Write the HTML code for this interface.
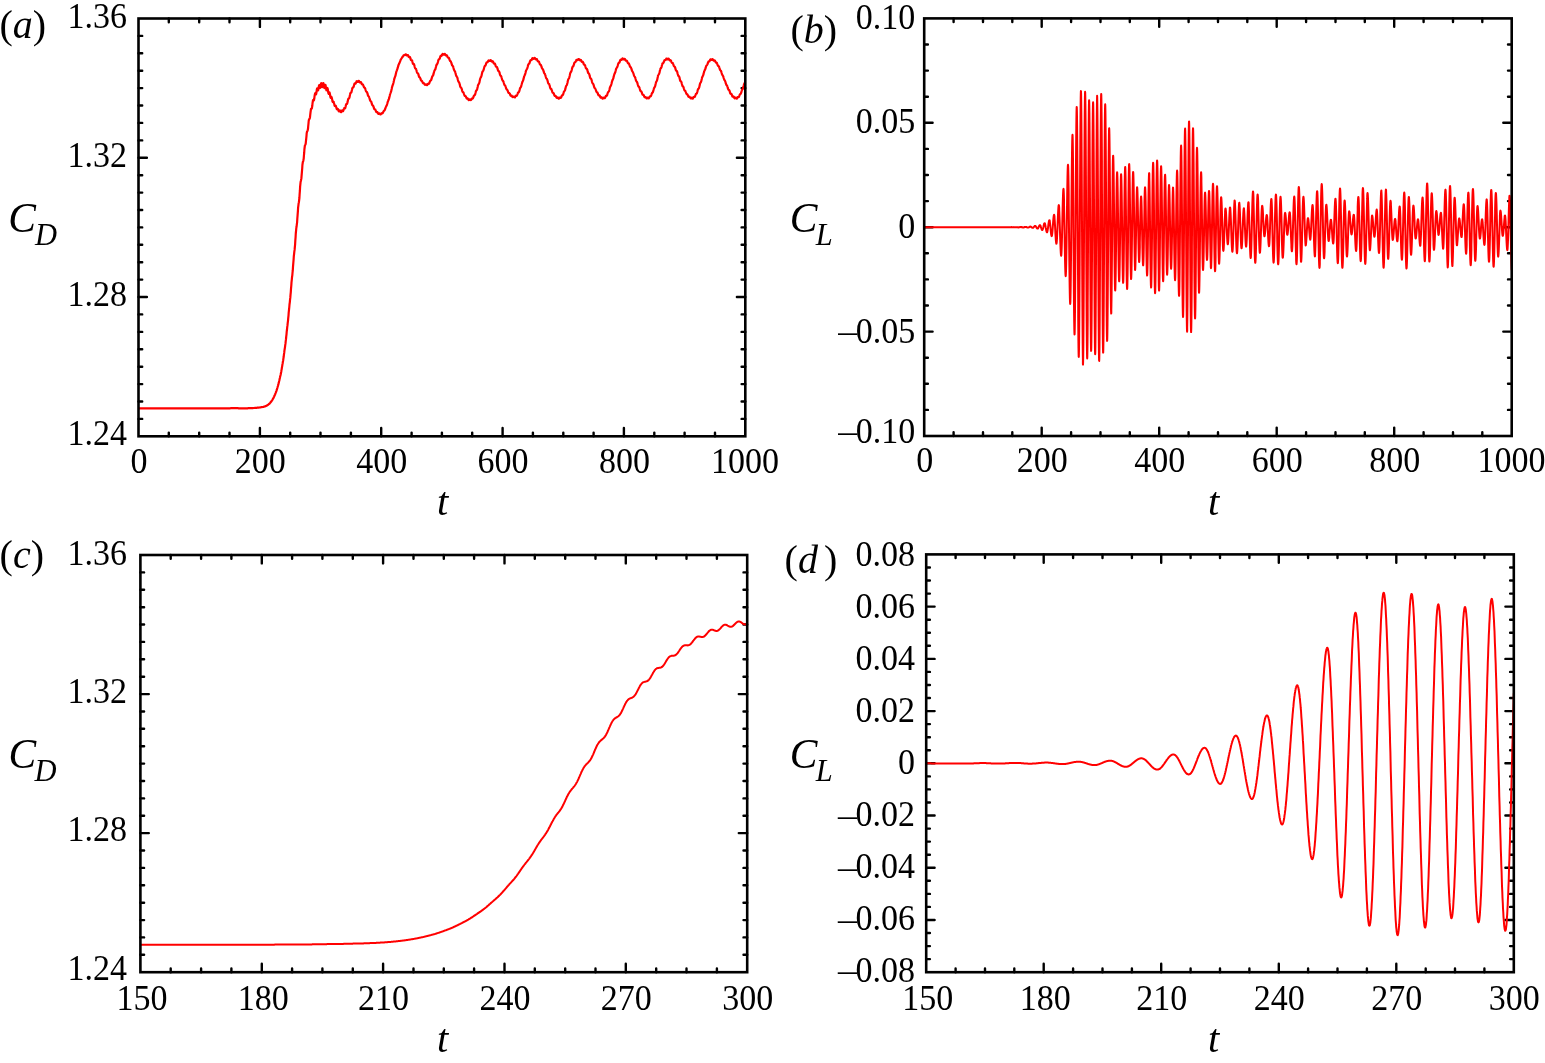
<!DOCTYPE html><html><head><meta charset="utf-8"><style>html,body{margin:0;padding:0;background:#fff;}svg{display:block;}text{font-family:"Liberation Serif","Times New Roman",serif;fill:#000;}.it{font-style:italic;}</style></head><body>
<svg width="1545" height="1063" viewBox="0 0 1545 1063">
<rect width="1545" height="1063" fill="#fff"/>
<defs>
<clipPath id="cpa"><rect x="138.5" y="18.5" width="606.8" height="417.8"/></clipPath>
<clipPath id="cpb"><rect x="924.2" y="18.4" width="587.5" height="417.6"/></clipPath>
<clipPath id="cpc"><rect x="140.4" y="555.0" width="606.8" height="417.2"/></clipPath>
<clipPath id="cpd"><rect x="926.2" y="554.4" width="587.6" height="417.8"/></clipPath>
</defs>
<path d="M168.8,436.3v-3.7M168.8,18.5v3.7M199.2,436.3v-3.7M199.2,18.5v3.7M229.5,436.3v-3.7M229.5,18.5v3.7M259.9,436.3v-8.4M259.9,18.5v8.4M290.2,436.3v-3.7M290.2,18.5v3.7M320.5,436.3v-3.7M320.5,18.5v3.7M350.9,436.3v-3.7M350.9,18.5v3.7M381.2,436.3v-8.4M381.2,18.5v8.4M411.6,436.3v-3.7M411.6,18.5v3.7M441.9,436.3v-3.7M441.9,18.5v3.7M472.2,436.3v-3.7M472.2,18.5v3.7M502.6,436.3v-8.4M502.6,18.5v8.4M532.9,436.3v-3.7M532.9,18.5v3.7M563.3,436.3v-3.7M563.3,18.5v3.7M593.6,436.3v-3.7M593.6,18.5v3.7M623.9,436.3v-8.4M623.9,18.5v8.4M654.3,436.3v-3.7M654.3,18.5v3.7M684.6,436.3v-3.7M684.6,18.5v3.7M715.0,436.3v-3.7M715.0,18.5v3.7M138.5,418.9h3.7M745.3,418.9h-3.7M138.5,401.5h3.7M745.3,401.5h-3.7M138.5,384.1h3.7M745.3,384.1h-3.7M138.5,366.7h3.7M745.3,366.7h-3.7M138.5,349.3h3.7M745.3,349.3h-3.7M138.5,331.9h3.7M745.3,331.9h-3.7M138.5,314.4h3.7M745.3,314.4h-3.7M138.5,297.0h8.4M745.3,297.0h-8.4M138.5,279.6h3.7M745.3,279.6h-3.7M138.5,262.2h3.7M745.3,262.2h-3.7M138.5,244.8h3.7M745.3,244.8h-3.7M138.5,227.4h3.7M745.3,227.4h-3.7M138.5,210.0h3.7M745.3,210.0h-3.7M138.5,192.6h3.7M745.3,192.6h-3.7M138.5,175.2h3.7M745.3,175.2h-3.7M138.5,157.8h8.4M745.3,157.8h-8.4M138.5,140.4h3.7M745.3,140.4h-3.7M138.5,122.9h3.7M745.3,122.9h-3.7M138.5,105.5h3.7M745.3,105.5h-3.7M138.5,88.1h3.7M745.3,88.1h-3.7M138.5,70.7h3.7M745.3,70.7h-3.7M138.5,53.3h3.7M745.3,53.3h-3.7M138.5,35.9h3.7M745.3,35.9h-3.7" stroke="#000" stroke-width="2.4" stroke-linecap="round" fill="none"/>
<path d="M953.6,436.0v-3.7M953.6,18.4v3.7M983.0,436.0v-3.7M983.0,18.4v3.7M1012.3,436.0v-3.7M1012.3,18.4v3.7M1041.7,436.0v-8.4M1041.7,18.4v8.4M1071.1,436.0v-3.7M1071.1,18.4v3.7M1100.5,436.0v-3.7M1100.5,18.4v3.7M1129.8,436.0v-3.7M1129.8,18.4v3.7M1159.2,436.0v-8.4M1159.2,18.4v8.4M1188.6,436.0v-3.7M1188.6,18.4v3.7M1218.0,436.0v-3.7M1218.0,18.4v3.7M1247.3,436.0v-3.7M1247.3,18.4v3.7M1276.7,436.0v-8.4M1276.7,18.4v8.4M1306.1,436.0v-3.7M1306.1,18.4v3.7M1335.5,436.0v-3.7M1335.5,18.4v3.7M1364.8,436.0v-3.7M1364.8,18.4v3.7M1394.2,436.0v-8.4M1394.2,18.4v8.4M1423.6,436.0v-3.7M1423.6,18.4v3.7M1453.0,436.0v-3.7M1453.0,18.4v3.7M1482.3,436.0v-3.7M1482.3,18.4v3.7M924.2,409.9h3.7M1511.7,409.9h-3.7M924.2,383.8h3.7M1511.7,383.8h-3.7M924.2,357.7h3.7M1511.7,357.7h-3.7M924.2,331.6h8.4M1511.7,331.6h-8.4M924.2,305.5h3.7M1511.7,305.5h-3.7M924.2,279.4h3.7M1511.7,279.4h-3.7M924.2,253.3h3.7M1511.7,253.3h-3.7M924.2,227.2h8.4M1511.7,227.2h-8.4M924.2,201.1h3.7M1511.7,201.1h-3.7M924.2,175.0h3.7M1511.7,175.0h-3.7M924.2,148.9h3.7M1511.7,148.9h-3.7M924.2,122.8h8.4M1511.7,122.8h-8.4M924.2,96.7h3.7M1511.7,96.7h-3.7M924.2,70.6h3.7M1511.7,70.6h-3.7M924.2,44.5h3.7M1511.7,44.5h-3.7" stroke="#000" stroke-width="2.4" stroke-linecap="round" fill="none"/>
<path d="M170.7,972.2v-3.7M170.7,555.0v3.7M201.1,972.2v-3.7M201.1,555.0v3.7M231.4,972.2v-3.7M231.4,555.0v3.7M261.8,972.2v-8.4M261.8,555.0v8.4M292.1,972.2v-3.7M292.1,555.0v3.7M322.4,972.2v-3.7M322.4,555.0v3.7M352.8,972.2v-3.7M352.8,555.0v3.7M383.1,972.2v-8.4M383.1,555.0v8.4M413.5,972.2v-3.7M413.5,555.0v3.7M443.8,972.2v-3.7M443.8,555.0v3.7M474.1,972.2v-3.7M474.1,555.0v3.7M504.5,972.2v-8.4M504.5,555.0v8.4M534.8,972.2v-3.7M534.8,555.0v3.7M565.2,972.2v-3.7M565.2,555.0v3.7M595.5,972.2v-3.7M595.5,555.0v3.7M625.8,972.2v-8.4M625.8,555.0v8.4M656.2,972.2v-3.7M656.2,555.0v3.7M686.5,972.2v-3.7M686.5,555.0v3.7M716.9,972.2v-3.7M716.9,555.0v3.7M140.4,954.8h3.7M747.2,954.8h-3.7M140.4,937.4h3.7M747.2,937.4h-3.7M140.4,920.1h3.7M747.2,920.1h-3.7M140.4,902.7h3.7M747.2,902.7h-3.7M140.4,885.3h3.7M747.2,885.3h-3.7M140.4,867.9h3.7M747.2,867.9h-3.7M140.4,850.5h3.7M747.2,850.5h-3.7M140.4,833.1h8.4M747.2,833.1h-8.4M140.4,815.8h3.7M747.2,815.8h-3.7M140.4,798.4h3.7M747.2,798.4h-3.7M140.4,781.0h3.7M747.2,781.0h-3.7M140.4,763.6h3.7M747.2,763.6h-3.7M140.4,746.2h3.7M747.2,746.2h-3.7M140.4,728.8h3.7M747.2,728.8h-3.7M140.4,711.5h3.7M747.2,711.5h-3.7M140.4,694.1h8.4M747.2,694.1h-8.4M140.4,676.7h3.7M747.2,676.7h-3.7M140.4,659.3h3.7M747.2,659.3h-3.7M140.4,641.9h3.7M747.2,641.9h-3.7M140.4,624.5h3.7M747.2,624.5h-3.7M140.4,607.2h3.7M747.2,607.2h-3.7M140.4,589.8h3.7M747.2,589.8h-3.7M140.4,572.4h3.7M747.2,572.4h-3.7" stroke="#000" stroke-width="2.4" stroke-linecap="round" fill="none"/>
<path d="M955.6,972.2v-3.7M955.6,554.4v3.7M985.0,972.2v-3.7M985.0,554.4v3.7M1014.3,972.2v-3.7M1014.3,554.4v3.7M1043.7,972.2v-8.4M1043.7,554.4v8.4M1073.1,972.2v-3.7M1073.1,554.4v3.7M1102.5,972.2v-3.7M1102.5,554.4v3.7M1131.9,972.2v-3.7M1131.9,554.4v3.7M1161.2,972.2v-8.4M1161.2,554.4v8.4M1190.6,972.2v-3.7M1190.6,554.4v3.7M1220.0,972.2v-3.7M1220.0,554.4v3.7M1249.4,972.2v-3.7M1249.4,554.4v3.7M1278.8,972.2v-8.4M1278.8,554.4v8.4M1308.1,972.2v-3.7M1308.1,554.4v3.7M1337.5,972.2v-3.7M1337.5,554.4v3.7M1366.9,972.2v-3.7M1366.9,554.4v3.7M1396.3,972.2v-8.4M1396.3,554.4v8.4M1425.7,972.2v-3.7M1425.7,554.4v3.7M1455.0,972.2v-3.7M1455.0,554.4v3.7M1484.4,972.2v-3.7M1484.4,554.4v3.7M926.2,959.1h3.7M1513.8,959.1h-3.7M926.2,946.1h3.7M1513.8,946.1h-3.7M926.2,933.0h3.7M1513.8,933.0h-3.7M926.2,920.0h8.4M1513.8,920.0h-8.4M926.2,906.9h3.7M1513.8,906.9h-3.7M926.2,893.9h3.7M1513.8,893.9h-3.7M926.2,880.8h3.7M1513.8,880.8h-3.7M926.2,867.8h8.4M1513.8,867.8h-8.4M926.2,854.7h3.7M1513.8,854.7h-3.7M926.2,841.6h3.7M1513.8,841.6h-3.7M926.2,828.6h3.7M1513.8,828.6h-3.7M926.2,815.5h8.4M1513.8,815.5h-8.4M926.2,802.5h3.7M1513.8,802.5h-3.7M926.2,789.4h3.7M1513.8,789.4h-3.7M926.2,776.4h3.7M1513.8,776.4h-3.7M926.2,763.3h8.4M1513.8,763.3h-8.4M926.2,750.2h3.7M1513.8,750.2h-3.7M926.2,737.2h3.7M1513.8,737.2h-3.7M926.2,724.1h3.7M1513.8,724.1h-3.7M926.2,711.1h8.4M1513.8,711.1h-8.4M926.2,698.0h3.7M1513.8,698.0h-3.7M926.2,685.0h3.7M1513.8,685.0h-3.7M926.2,671.9h3.7M1513.8,671.9h-3.7M926.2,658.9h8.4M1513.8,658.9h-8.4M926.2,645.8h3.7M1513.8,645.8h-3.7M926.2,632.7h3.7M1513.8,632.7h-3.7M926.2,619.7h3.7M1513.8,619.7h-3.7M926.2,606.6h8.4M1513.8,606.6h-8.4M926.2,593.6h3.7M1513.8,593.6h-3.7M926.2,580.5h3.7M1513.8,580.5h-3.7M926.2,567.5h3.7M1513.8,567.5h-3.7" stroke="#000" stroke-width="2.4" stroke-linecap="round" fill="none"/>
<path clip-path="url(#cpa)" d="M138.5,408.3 L138.8,408.3 139.0,408.3 139.3,408.3 139.5,408.3 139.8,408.3 140.0,408.3 140.3,408.3 140.5,408.3 140.8,408.3 141.0,408.3 141.3,408.3 141.5,408.3 141.8,408.3 142.0,408.3 142.3,408.3 142.5,408.3 142.8,408.3 143.1,408.3 143.3,408.3 143.6,408.3 143.8,408.3 144.1,408.3 144.3,408.3 144.6,408.3 144.8,408.3 145.1,408.3 145.3,408.3 145.6,408.3 145.8,408.3 146.1,408.3 146.3,408.3 146.6,408.3 146.8,408.3 147.1,408.3 147.4,408.3 147.6,408.3 147.9,408.3 148.1,408.3 148.4,408.3 148.6,408.3 148.9,408.3 149.1,408.3 149.4,408.3 149.6,408.3 149.9,408.3 150.1,408.3 150.4,408.3 150.6,408.3 150.9,408.3 151.1,408.3 151.4,408.3 151.7,408.3 151.9,408.3 152.2,408.3 152.4,408.3 152.7,408.3 152.9,408.3 153.2,408.3 153.4,408.3 153.7,408.3 153.9,408.3 154.2,408.3 154.4,408.3 154.7,408.3 154.9,408.3 155.2,408.3 155.4,408.3 155.7,408.3 156.0,408.3 156.2,408.3 156.5,408.3 156.7,408.3 157.0,408.3 157.2,408.3 157.5,408.3 157.7,408.3 158.0,408.3 158.2,408.3 158.5,408.3 158.7,408.3 159.0,408.3 159.2,408.3 159.5,408.3 159.7,408.3 160.0,408.3 160.3,408.3 160.5,408.3 160.8,408.3 161.0,408.3 161.3,408.3 161.5,408.3 161.8,408.3 162.0,408.3 162.3,408.3 162.5,408.3 162.8,408.3 163.0,408.3 163.3,408.3 163.5,408.3 163.8,408.3 164.0,408.3 164.3,408.3 164.6,408.3 164.8,408.3 165.1,408.3 165.3,408.3 165.6,408.3 165.8,408.3 166.1,408.3 166.3,408.3 166.6,408.3 166.8,408.3 167.1,408.3 167.3,408.3 167.6,408.3 167.8,408.3 168.1,408.3 168.3,408.3 168.6,408.3 168.9,408.3 169.1,408.3 169.4,408.3 169.6,408.3 169.9,408.3 170.1,408.3 170.4,408.3 170.6,408.3 170.9,408.3 171.1,408.3 171.4,408.3 171.6,408.3 171.9,408.3 172.1,408.3 172.4,408.3 172.6,408.3 172.9,408.3 173.2,408.3 173.4,408.3 173.7,408.3 173.9,408.3 174.2,408.3 174.4,408.3 174.7,408.3 174.9,408.3 175.2,408.3 175.4,408.3 175.7,408.3 175.9,408.3 176.2,408.3 176.4,408.3 176.7,408.3 176.9,408.3 177.2,408.3 177.5,408.3 177.7,408.3 178.0,408.3 178.2,408.3 178.5,408.3 178.7,408.3 179.0,408.3 179.2,408.3 179.5,408.3 179.7,408.3 180.0,408.3 180.2,408.3 180.5,408.3 180.7,408.3 181.0,408.3 181.2,408.3 181.5,408.3 181.8,408.3 182.0,408.3 182.3,408.3 182.5,408.3 182.8,408.3 183.0,408.3 183.3,408.3 183.5,408.3 183.8,408.3 184.0,408.3 184.3,408.3 184.5,408.3 184.8,408.3 185.0,408.3 185.3,408.3 185.5,408.3 185.8,408.3 186.1,408.3 186.3,408.3 186.6,408.3 186.8,408.3 187.1,408.3 187.3,408.3 187.6,408.3 187.8,408.3 188.1,408.3 188.3,408.3 188.6,408.3 188.8,408.3 189.1,408.3 189.3,408.3 189.6,408.3 189.8,408.3 190.1,408.3 190.4,408.3 190.6,408.3 190.9,408.3 191.1,408.3 191.4,408.3 191.6,408.3 191.9,408.3 192.1,408.3 192.4,408.3 192.6,408.3 192.9,408.3 193.1,408.3 193.4,408.3 193.6,408.3 193.9,408.3 194.1,408.3 194.4,408.3 194.7,408.3 194.9,408.3 195.2,408.3 195.4,408.3 195.7,408.3 195.9,408.3 196.2,408.3 196.4,408.3 196.7,408.3 196.9,408.3 197.2,408.3 197.4,408.3 197.7,408.3 197.9,408.3 198.2,408.3 198.4,408.3 198.7,408.3 199.0,408.3 199.2,408.3 199.5,408.3 199.7,408.3 200.0,408.3 200.2,408.3 200.5,408.3 200.7,408.3 201.0,408.3 201.2,408.3 201.5,408.3 201.7,408.3 202.0,408.3 202.2,408.3 202.5,408.3 202.7,408.3 203.0,408.3 203.3,408.3 203.5,408.3 203.8,408.3 204.0,408.3 204.3,408.3 204.5,408.3 204.8,408.3 205.0,408.3 205.3,408.3 205.5,408.3 205.8,408.3 206.0,408.3 206.3,408.3 206.5,408.3 206.8,408.3 207.0,408.3 207.3,408.3 207.6,408.3 207.8,408.3 208.1,408.3 208.3,408.3 208.6,408.3 208.8,408.3 209.1,408.3 209.3,408.3 209.6,408.3 209.8,408.3 210.1,408.3 210.3,408.3 210.6,408.3 210.8,408.3 211.1,408.3 211.3,408.3 211.6,408.3 211.9,408.3 212.1,408.3 212.4,408.3 212.6,408.3 212.9,408.3 213.1,408.3 213.4,408.3 213.6,408.3 213.9,408.3 214.1,408.3 214.4,408.3 214.6,408.3 214.9,408.3 215.1,408.3 215.4,408.3 215.6,408.3 215.9,408.3 216.2,408.3 216.4,408.3 216.7,408.3 216.9,408.3 217.2,408.3 217.4,408.3 217.7,408.3 217.9,408.3 218.2,408.3 218.4,408.3 218.7,408.3 218.9,408.3 219.2,408.3 219.4,408.3 219.7,408.3 219.9,408.3 220.2,408.3 220.5,408.3 220.7,408.3 221.0,408.3 221.2,408.3 221.5,408.3 221.7,408.3 222.0,408.3 222.2,408.3 222.5,408.3 222.7,408.3 223.0,408.3 223.2,408.3 223.5,408.3 223.7,408.3 224.0,408.3 224.2,408.3 224.5,408.3 224.8,408.3 225.0,408.3 225.3,408.3 225.5,408.3 225.8,408.3 226.0,408.3 226.3,408.3 226.5,408.3 226.8,408.3 227.0,408.3 227.3,408.3 227.5,408.3 227.8,408.3 228.0,408.3 228.3,408.3 228.5,408.3 228.8,408.3 229.1,408.3 229.3,408.3 229.6,408.3 229.8,408.3 230.1,408.3 230.3,408.3 230.6,408.2 230.8,408.2 231.1,408.2 231.3,408.2 231.6,408.2 231.8,408.2 232.1,408.2 232.3,408.2 232.6,408.2 232.8,408.2 233.1,408.2 233.4,408.2 233.6,408.2 233.9,408.2 234.1,408.2 234.4,408.2 234.6,408.2 234.9,408.2 235.1,408.2 235.4,408.2 235.6,408.2 235.9,408.2 236.1,408.2 236.4,408.2 236.6,408.2 236.9,408.2 237.1,408.2 237.4,408.2 237.7,408.2 237.9,408.2 238.2,408.2 238.4,408.3 238.7,408.3 238.9,408.3 239.2,408.3 239.4,408.3 239.7,408.3 239.9,408.3 240.2,408.3 240.4,408.3 240.7,408.3 240.9,408.3 241.2,408.3 241.4,408.3 241.7,408.3 242.0,408.3 242.2,408.3 242.5,408.3 242.7,408.3 243.0,408.3 243.2,408.3 243.5,408.3 243.7,408.3 244.0,408.3 244.2,408.3 244.5,408.3 244.7,408.3 245.0,408.3 245.2,408.3 245.5,408.3 245.7,408.3 246.0,408.3 246.3,408.3 246.5,408.3 246.8,408.3 247.0,408.3 247.3,408.3 247.5,408.3 247.8,408.3 248.0,408.2 248.3,408.2 248.5,408.2 248.8,408.2 249.0,408.2 249.3,408.2 249.5,408.2 249.8,408.2 250.0,408.2 250.3,408.2 250.6,408.2 250.8,408.2 251.1,408.2 251.3,408.2 251.6,408.1 251.8,408.1 252.1,408.1 252.3,408.1 252.6,408.1 252.8,408.1 253.1,408.1 253.3,408.0 253.6,408.0 253.8,408.0 254.1,408.0 254.3,408.0 254.6,408.0 254.9,407.9 255.1,407.9 255.4,407.9 255.6,407.9 255.9,407.9 256.1,407.8 256.4,407.8 256.6,407.8 256.9,407.8 257.1,407.7 257.4,407.7 257.6,407.7 257.9,407.7 258.1,407.6 258.4,407.6 258.6,407.6 258.9,407.6 259.2,407.5 259.4,407.5 259.7,407.5 259.9,407.4 260.2,407.4 260.4,407.3 260.7,407.3 260.9,407.3 261.2,407.2 261.4,407.2 261.7,407.2 261.9,407.1 262.2,407.1 262.4,407.0 262.7,407.0 262.9,406.9 263.2,406.9 263.5,406.8 263.7,406.8 264.0,406.7 264.2,406.6 264.5,406.6 264.7,406.5 265.0,406.4 265.2,406.3 265.5,406.2 265.7,406.1 266.0,406.0 266.2,405.9 266.5,405.8 266.7,405.6 267.0,405.5 267.2,405.3 267.5,405.2 267.8,405.0 268.0,404.8 268.3,404.6 268.5,404.4 268.8,404.2 269.0,404.0 269.3,403.8 269.5,403.5 269.8,403.3 270.0,403.0 270.3,402.7 270.5,402.4 270.8,402.1 271.0,401.8 271.3,401.5 271.5,401.1 271.8,400.8 272.1,400.4 272.3,400.0 272.6,399.5 272.8,399.1 273.1,398.7 273.3,398.2 273.6,397.8 273.8,397.2 274.1,396.7 274.3,396.2 274.6,395.6 274.8,395.0 275.1,394.4 275.3,393.8 275.6,393.1 275.8,392.5 276.1,391.8 276.4,391.1 276.6,390.3 276.9,389.5 277.1,388.7 277.4,387.8 277.6,387.0 277.9,386.1 278.1,385.3 278.4,384.4 278.6,383.4 278.9,382.4 279.1,381.3 279.4,380.2 279.6,379.1 279.9,377.9 280.1,376.8 280.4,375.7 280.7,374.5 280.9,373.3 281.2,372.0 281.4,370.6 281.7,369.1 281.9,367.6 282.2,366.1 282.4,364.6 282.7,363.2 282.9,361.7 283.2,360.2 283.4,358.6 283.7,356.8 283.9,354.9 284.2,352.9 284.4,350.9 284.7,349.0 285.0,347.1 285.2,345.3 285.5,343.4 285.7,341.4 286.0,339.2 286.2,336.8 286.5,334.3 286.7,331.9 287.0,329.5 287.2,327.3 287.5,325.2 287.7,323.1 288.0,320.8 288.2,318.3 288.5,315.6 288.7,312.7 289.0,309.8 289.3,307.0 289.5,304.5 289.8,302.3 290.0,300.1 290.3,297.7 290.5,295.1 290.8,292.1 291.0,288.8 291.3,285.5 291.5,282.4 291.8,279.7 292.0,277.4 292.3,275.3 292.5,273.0 292.8,270.2 293.0,266.8 293.3,263.2 293.6,259.6 293.8,256.5 294.1,253.9 294.3,251.9 294.6,249.9 294.8,247.6 295.1,244.5 295.3,240.9 295.6,237.0 295.8,233.3 296.1,230.3 296.3,228.1 296.6,226.5 296.8,224.7 297.1,222.3 297.3,219.0 297.6,215.1 297.9,211.1 298.1,207.7 298.4,205.3 298.6,203.6 298.9,202.2 299.1,200.5 299.4,198.0 299.6,194.6 299.9,190.7 300.1,186.9 300.4,183.9 300.6,182.0 300.9,180.8 301.1,179.8 301.4,178.2 301.6,175.6 301.9,172.2 302.2,168.5 302.4,165.2 302.7,163.0 302.9,161.8 303.2,161.2 303.4,160.3 303.7,158.6 303.9,156.0 304.2,152.7 304.4,149.5 304.7,147.0 304.9,145.5 305.2,145.0 305.4,144.6 305.7,143.6 305.9,141.7 306.2,138.8 306.5,135.8 306.7,133.2 307.0,131.7 307.2,131.2 307.5,131.0 307.7,130.3 308.0,128.8 308.2,126.3 308.5,123.4 308.7,121.0 309.0,119.6 309.2,119.1 309.5,119.0 309.7,118.6 310.0,117.2 310.2,115.1 310.5,112.5 310.8,110.3 311.0,109.0 311.3,108.6 311.5,108.7 311.8,108.5 312.0,107.6 312.3,105.8 312.5,103.5 312.8,101.5 313.0,100.2 313.3,99.9 313.5,100.2 313.8,100.4 314.0,100.0 314.3,98.6 314.5,96.6 314.8,94.7 315.1,93.4 315.3,93.1 315.6,93.7 315.8,94.3 316.1,94.3 316.3,93.3 316.6,91.5 316.8,89.6 317.1,88.4 317.3,88.3 317.6,89.0 317.8,89.9 318.1,90.3 318.3,89.7 318.6,88.3 318.8,86.5 319.1,85.3 319.4,85.0 319.6,85.8 319.9,87.0 320.1,87.9 320.4,87.8 320.6,86.7 320.9,84.7 321.1,83.3 321.4,83.2 321.6,84.3 321.9,86.0 322.1,86.8 322.4,87.0 322.6,86.1 322.9,84.5 323.1,83.2 323.4,83.1 323.7,84.1 323.9,85.9 324.2,87.5 324.4,88.1 324.7,87.5 324.9,86.2 325.2,85.0 325.4,84.8 325.7,85.8 325.9,87.5 326.2,89.3 326.4,90.3 326.7,90.2 326.9,89.2 327.2,88.2 327.4,88.0 327.7,88.8 328.0,90.5 328.2,92.3 328.5,93.5 328.7,93.8 329.0,93.2 329.2,92.5 329.5,92.3 329.7,93.0 330.0,94.5 330.2,96.1 330.5,97.4 330.7,97.9 331.0,97.7 331.2,97.2 331.5,97.0 331.7,97.5 332.0,98.7 332.3,100.2 332.5,101.5 332.8,102.1 333.0,102.1 333.3,101.8 333.5,101.7 333.8,102.0 334.0,103.0 334.3,104.2 334.5,105.4 334.8,106.0 335.0,106.1 335.3,105.9 335.5,105.7 335.8,105.8 336.0,106.5 336.3,107.5 336.6,108.6 336.8,109.2 337.1,109.4 337.3,109.1 337.6,108.8 337.8,108.8 338.1,109.2 338.3,109.9 338.6,110.8 338.8,111.3 339.1,111.4 339.3,111.1 339.6,110.6 339.8,110.3 340.1,110.5 340.3,111.0 340.6,111.7 340.9,112.1 341.1,112.2 341.4,111.7 341.6,111.1 341.9,110.5 342.1,110.4 342.4,110.6 342.6,111.0 342.9,111.3 343.1,111.1 343.4,110.5 343.6,109.6 343.9,108.8 344.1,108.2 344.4,108.1 344.6,108.3 344.9,108.4 345.2,108.1 345.4,107.4 345.7,106.3 345.9,105.1 346.2,104.3 346.4,103.9 346.7,103.9 346.9,103.9 347.2,103.6 347.4,102.8 347.7,101.6 347.9,100.3 348.2,99.2 348.4,98.7 348.7,98.5 348.9,98.4 349.2,98.1 349.5,97.4 349.7,96.2 350.0,94.8 350.2,93.7 350.5,93.0 350.7,92.7 351.0,92.7 351.2,92.5 351.5,91.9 351.7,91.0 352.0,89.8 352.2,88.7 352.5,87.9 352.7,87.6 353.0,87.5 353.2,87.4 353.5,87.0 353.8,86.3 354.0,85.3 354.3,84.3 354.5,83.6 354.8,83.4 355.0,83.5 355.3,83.6 355.5,83.6 355.8,83.3 356.0,82.6 356.3,81.9 356.5,81.3 356.8,81.2 357.0,81.3 357.3,81.7 357.5,82.0 357.8,81.9 358.1,81.6 358.3,81.2 358.6,80.9 358.8,80.8 359.1,81.1 359.3,81.7 359.6,82.2 359.8,82.4 360.1,82.4 360.3,82.2 360.6,82.0 360.8,82.0 361.1,82.4 361.3,83.0 361.6,83.7 361.8,84.2 362.1,84.4 362.4,84.4 362.6,84.4 362.9,84.5 363.1,84.9 363.4,85.6 363.6,86.4 363.9,87.1 364.1,87.5 364.4,87.6 364.6,87.7 364.9,87.9 365.1,88.3 365.4,89.1 365.6,90.0 365.9,90.9 366.1,91.4 366.4,91.7 366.7,91.9 366.9,92.1 367.2,92.6 367.4,93.4 367.7,94.3 367.9,95.2 368.2,95.9 368.4,96.2 368.7,96.4 368.9,96.7 369.2,97.2 369.4,98.0 369.7,98.9 369.9,99.8 370.2,100.5 370.4,100.9 370.7,101.1 371.0,101.3 371.2,101.8 371.5,102.5 371.7,103.4 372.0,104.3 372.2,105.0 372.5,105.3 372.7,105.5 373.0,105.6 373.2,106.0 373.5,106.6 373.7,107.4 374.0,108.3 374.2,108.9 374.5,109.2 374.7,109.3 375.0,109.3 375.3,109.5 375.5,110.0 375.8,110.7 376.0,111.4 376.3,111.9 376.5,112.1 376.8,112.1 377.0,112.0 377.3,112.1 377.5,112.3 377.8,112.8 378.0,113.4 378.3,113.8 378.5,113.9 378.8,113.8 379.0,113.6 379.3,113.4 379.6,113.5 379.8,113.8 380.1,114.1 380.3,114.4 380.6,114.5 380.8,114.3 381.1,113.9 381.3,113.5 381.6,113.3 381.8,113.2 382.1,113.3 382.3,113.4 382.6,113.3 382.8,112.9 383.1,112.4 383.3,111.8 383.6,111.2 383.9,110.9 384.1,110.7 384.4,110.5 384.6,110.3 384.9,109.8 385.1,109.2 385.4,108.4 385.6,107.6 385.9,106.9 386.1,106.4 386.4,106.0 386.6,105.6 386.9,105.0 387.1,104.2 387.4,103.3 387.6,102.3 387.9,101.4 388.2,100.7 388.4,100.1 388.7,99.6 388.9,99.0 389.2,98.1 389.4,97.1 389.7,96.0 389.9,94.9 390.2,94.0 390.4,93.3 390.7,92.6 390.9,92.0 391.2,91.2 391.4,90.1 391.7,89.0 391.9,87.8 392.2,86.7 392.5,85.9 392.7,85.1 393.0,84.5 393.2,83.7 393.5,82.7 393.7,81.6 394.0,80.4 394.2,79.3 394.5,78.4 394.7,77.6 395.0,77.0 395.2,76.3 395.5,75.5 395.7,74.5 396.0,73.4 396.2,72.3 396.5,71.3 396.8,70.6 397.0,69.9 397.3,69.3 397.5,68.5 397.8,67.7 398.0,66.8 398.3,65.9 398.5,65.1 398.8,64.5 399.0,63.9 399.3,63.4 399.5,62.8 399.8,62.2 400.0,61.5 400.3,60.9 400.5,60.2 400.8,59.6 401.1,59.1 401.3,58.7 401.6,58.3 401.8,57.9 402.1,57.5 402.3,57.2 402.6,56.9 402.8,56.5 403.1,56.1 403.3,55.7 403.6,55.4 403.8,55.2 404.1,55.1 404.3,55.2 404.6,55.2 404.8,55.1 405.1,54.9 405.4,54.6 405.6,54.4 405.9,54.4 406.1,54.6 406.4,55.0 406.6,55.4 406.9,55.5 407.1,55.4 407.4,55.1 407.6,55.0 407.9,55.1 408.1,55.5 408.4,56.1 408.6,56.8 408.9,57.2 409.1,57.2 409.4,57.0 409.7,56.9 409.9,57.0 410.2,57.6 410.4,58.4 410.7,59.4 410.9,60.0 411.2,60.2 411.4,60.1 411.7,60.0 411.9,60.2 412.2,60.8 412.4,61.8 412.7,62.9 412.9,63.7 413.2,64.1 413.4,64.1 413.7,64.0 414.0,64.2 414.2,64.9 414.5,65.9 414.7,67.0 415.0,67.9 415.2,68.4 415.5,68.6 415.7,68.6 416.0,68.8 416.2,69.5 416.5,70.4 416.7,71.5 417.0,72.4 417.2,72.9 417.5,73.1 417.7,73.2 418.0,73.4 418.3,74.0 418.5,74.9 418.8,75.9 419.0,76.6 419.3,77.1 419.5,77.3 419.8,77.4 420.0,77.7 420.3,78.2 420.5,79.0 420.8,79.8 421.0,80.3 421.3,80.6 421.5,80.8 421.8,80.9 422.0,81.1 422.3,81.6 422.6,82.3 422.8,82.8 423.1,83.2 423.3,83.3 423.6,83.2 423.8,83.2 424.1,83.4 424.3,83.8 424.6,84.3 424.8,84.6 425.1,84.8 425.3,84.7 425.6,84.5 425.8,84.3 426.1,84.4 426.3,84.6 426.6,85.0 426.9,85.2 427.1,85.1 427.4,84.8 427.6,84.3 427.9,83.9 428.1,83.7 428.4,83.7 428.6,83.8 428.9,83.8 429.1,83.5 429.4,82.9 429.6,82.2 429.9,81.5 430.1,81.0 430.4,80.7 430.6,80.6 430.9,80.4 431.2,80.0 431.4,79.3 431.7,78.4 431.9,77.5 432.2,76.7 432.4,76.2 432.7,75.9 432.9,75.6 433.2,75.1 433.4,74.4 433.7,73.4 433.9,72.3 434.2,71.4 434.4,70.7 434.7,70.2 434.9,69.9 435.2,69.5 435.5,68.9 435.7,67.9 436.0,66.8 436.2,65.8 436.5,65.0 436.7,64.5 437.0,64.3 437.2,64.0 437.5,63.5 437.7,62.7 438.0,61.7 438.2,60.7 438.5,59.9 438.7,59.5 439.0,59.3 439.2,59.2 439.5,58.9 439.8,58.4 440.0,57.6 440.3,56.7 440.5,56.1 440.8,55.8 441.0,55.7 441.3,55.9 441.5,55.8 441.8,55.6 442.0,55.0 442.3,54.4 442.5,54.0 442.8,53.9 443.0,54.0 443.3,54.4 443.5,54.6 443.8,54.7 444.0,54.5 444.3,54.1 444.6,53.9 444.8,53.9 445.1,54.2 445.3,54.7 445.6,55.2 445.8,55.4 446.1,55.4 446.3,55.3 446.6,55.2 446.8,55.3 447.1,55.7 447.3,56.4 447.6,57.0 447.8,57.4 448.1,57.6 448.3,57.7 448.6,57.7 448.9,57.9 449.1,58.5 449.4,59.2 449.6,60.0 449.9,60.6 450.1,61.0 450.4,61.2 450.6,61.3 450.9,61.6 451.1,62.2 451.4,63.0 451.6,63.9 451.9,64.7 452.1,65.3 452.4,65.6 452.6,65.8 452.9,66.2 453.2,66.8 453.4,67.7 453.7,68.7 453.9,69.6 454.2,70.2 454.4,70.7 454.7,71.0 454.9,71.3 455.2,71.9 455.4,72.8 455.7,73.9 455.9,74.9 456.2,75.6 456.4,76.1 456.7,76.4 456.9,76.8 457.2,77.3 457.5,78.1 457.7,79.2 458.0,80.3 458.2,81.1 458.5,81.7 458.7,82.0 459.0,82.3 459.2,82.7 459.5,83.4 459.7,84.4 460.0,85.5 460.2,86.4 460.5,87.0 460.7,87.4 461.0,87.5 461.2,87.8 461.5,88.3 461.8,89.1 462.0,90.1 462.3,91.1 462.5,91.7 462.8,92.1 463.0,92.2 463.3,92.3 463.5,92.7 463.8,93.3 464.0,94.1 464.3,94.9 464.5,95.5 464.8,95.9 465.0,96.0 465.3,96.0 465.5,96.1 465.8,96.5 466.1,97.1 466.3,97.8 466.6,98.3 466.8,98.6 467.1,98.6 467.3,98.4 467.6,98.4 467.8,98.6 468.1,99.0 468.3,99.5 468.6,99.9 468.8,100.1 469.1,99.9 469.3,99.7 469.6,99.4 469.8,99.4 470.1,99.6 470.4,99.9 470.6,100.2 470.9,100.2 471.1,99.9 471.4,99.4 471.6,98.9 471.9,98.6 472.1,98.5 472.4,98.6 472.6,98.6 472.9,98.4 473.1,97.9 473.4,97.2 473.6,96.4 473.9,95.8 474.1,95.5 474.4,95.3 474.7,95.2 474.9,94.8 475.2,94.2 475.4,93.3 475.7,92.2 475.9,91.3 476.2,90.7 476.4,90.4 476.7,90.1 476.9,89.8 477.2,89.1 477.4,88.1 477.7,86.9 477.9,85.7 478.2,84.8 478.4,84.3 478.7,84.0 479.0,83.6 479.2,83.0 479.5,82.1 479.7,80.9 480.0,79.6 480.2,78.6 480.5,77.9 480.7,77.4 481.0,77.1 481.2,76.6 481.5,75.9 481.7,74.8 482.0,73.6 482.2,72.5 482.5,71.8 482.7,71.3 483.0,71.0 483.3,70.6 483.5,70.0 483.8,69.2 484.0,68.2 484.3,67.2 484.5,66.5 484.8,66.1 485.0,65.9 485.3,65.7 485.5,65.3 485.8,64.7 486.0,63.9 486.3,63.1 486.5,62.6 486.8,62.3 487.0,62.3 487.3,62.3 487.6,62.2 487.8,61.8 488.1,61.3 488.3,60.7 488.6,60.3 488.8,60.3 489.1,60.5 489.3,60.8 489.6,61.0 489.8,61.0 490.1,60.7 490.3,60.3 490.6,60.1 490.8,60.2 491.1,60.5 491.3,61.0 491.6,61.4 491.9,61.6 492.1,61.6 492.4,61.4 492.6,61.2 492.9,61.4 493.1,61.8 493.4,62.5 493.6,63.1 493.9,63.5 494.1,63.6 494.4,63.5 494.6,63.5 494.9,63.7 495.1,64.2 495.4,65.0 495.6,65.8 495.9,66.4 496.2,66.7 496.4,66.8 496.7,66.8 496.9,67.0 497.2,67.5 497.4,68.4 497.7,69.3 497.9,70.1 498.2,70.7 498.4,70.9 498.7,71.0 498.9,71.2 499.2,71.6 499.4,72.4 499.7,73.4 499.9,74.4 500.2,75.1 500.5,75.5 500.7,75.8 501.0,76.0 501.2,76.4 501.5,77.1 501.7,78.0 502.0,79.0 502.2,79.8 502.5,80.3 502.7,80.6 503.0,80.9 503.2,81.2 503.5,81.8 503.7,82.6 504.0,83.5 504.2,84.3 504.5,84.9 504.8,85.2 505.0,85.5 505.3,85.8 505.5,86.4 505.8,87.1 506.0,88.0 506.3,88.7 506.5,89.2 506.8,89.5 507.0,89.7 507.3,89.9 507.5,90.3 507.8,91.0 508.0,91.7 508.3,92.4 508.5,92.8 508.8,93.0 509.1,93.0 509.3,93.1 509.6,93.3 509.8,93.8 510.1,94.5 510.3,95.2 510.6,95.6 510.8,95.8 511.1,95.7 511.3,95.5 511.6,95.5 511.8,95.7 512.1,96.2 512.3,96.8 512.6,97.2 512.8,97.2 513.1,97.0 513.4,96.7 513.6,96.5 513.9,96.5 514.1,96.8 514.4,97.1 514.6,97.4 514.9,97.4 515.1,97.0 515.4,96.5 515.6,96.0 515.9,95.7 516.1,95.6 516.4,95.7 516.6,95.8 516.9,95.6 517.1,95.1 517.4,94.4 517.7,93.6 517.9,92.9 518.2,92.6 518.4,92.4 518.7,92.3 518.9,92.0 519.2,91.4 519.4,90.6 519.7,89.6 519.9,88.7 520.2,88.0 520.4,87.6 520.7,87.3 520.9,86.9 521.2,86.2 521.4,85.3 521.7,84.3 522.0,83.2 522.2,82.4 522.5,81.8 522.7,81.3 523.0,80.8 523.2,80.1 523.5,79.2 523.7,78.2 524.0,77.1 524.2,76.3 524.5,75.6 524.7,75.1 525.0,74.6 525.2,73.9 525.5,73.0 525.7,71.9 526.0,70.9 526.3,70.1 526.5,69.5 526.8,69.1 527.0,68.8 527.3,68.2 527.5,67.5 527.8,66.5 528.0,65.5 528.3,64.7 528.5,64.2 528.8,63.9 529.0,63.8 529.3,63.5 529.5,63.0 529.8,62.2 530.0,61.4 530.3,60.6 530.6,60.2 530.8,60.0 531.1,60.1 531.3,60.2 531.6,60.0 531.8,59.6 532.1,59.0 532.3,58.4 532.6,58.1 532.8,58.1 533.1,58.3 533.3,58.6 533.6,58.8 533.8,58.7 534.1,58.4 534.3,58.1 534.6,57.9 534.9,58.0 535.1,58.4 535.4,58.9 535.6,59.3 535.9,59.4 536.1,59.3 536.4,59.1 536.6,59.0 536.9,59.2 537.1,59.7 537.4,60.4 537.6,61.0 537.9,61.3 538.1,61.5 538.4,61.4 538.6,61.4 538.9,61.6 539.2,62.2 539.4,62.9 539.7,63.7 539.9,64.3 540.2,64.6 540.4,64.7 540.7,64.9 540.9,65.1 541.2,65.7 541.4,66.5 541.7,67.3 541.9,68.0 542.2,68.5 542.4,68.8 542.7,69.1 542.9,69.4 543.2,70.0 543.5,70.8 543.7,71.7 544.0,72.5 544.2,73.1 544.5,73.5 544.7,73.7 545.0,74.1 545.2,74.8 545.5,75.7 545.7,76.6 546.0,77.5 546.2,78.1 546.5,78.5 546.7,78.7 547.0,79.0 547.2,79.6 547.5,80.5 547.8,81.6 548.0,82.6 548.3,83.3 548.5,83.6 548.8,83.8 549.0,84.0 549.3,84.3 549.5,85.1 549.8,86.1 550.0,87.2 550.3,88.0 550.5,88.6 550.8,88.8 551.0,88.8 551.3,89.0 551.5,89.5 551.8,90.3 552.1,91.2 552.3,92.0 552.6,92.6 552.8,92.8 553.1,92.9 553.3,92.9 553.6,93.2 553.8,93.8 554.1,94.5 554.3,95.2 554.6,95.7 554.8,95.9 555.1,95.9 555.3,95.8 555.6,95.9 555.8,96.2 556.1,96.8 556.4,97.4 556.6,97.8 556.9,97.9 557.1,97.8 557.4,97.5 557.6,97.4 557.9,97.5 558.1,97.9 558.4,98.3 558.6,98.6 558.9,98.7 559.1,98.4 559.4,98.0 559.6,97.6 559.9,97.5 560.1,97.6 560.4,97.8 560.7,97.9 560.9,97.7 561.2,97.3 561.4,96.7 561.7,96.0 561.9,95.6 562.2,95.3 562.4,95.2 562.7,95.1 562.9,94.8 563.2,94.2 563.4,93.3 563.7,92.4 563.9,91.7 564.2,91.3 564.4,91.0 564.7,90.8 565.0,90.3 565.2,89.5 565.5,88.4 565.7,87.3 566.0,86.4 566.2,85.8 566.5,85.4 566.7,85.1 567.0,84.6 567.2,83.8 567.5,82.7 567.7,81.5 568.0,80.3 568.2,79.5 568.5,79.0 568.7,78.7 569.0,78.3 569.3,77.6 569.5,76.6 569.8,75.4 570.0,74.1 570.3,73.1 570.5,72.5 570.8,72.1 571.0,71.9 571.3,71.4 571.5,70.7 571.8,69.7 572.0,68.6 572.3,67.6 572.5,67.0 572.8,66.6 573.0,66.4 573.3,66.1 573.6,65.6 573.8,64.8 574.1,63.9 574.3,63.1 574.6,62.5 574.8,62.3 575.1,62.2 575.3,62.1 575.6,61.9 575.8,61.4 576.1,60.7 576.3,60.1 576.6,59.8 576.8,59.8 577.1,59.9 577.3,60.1 577.6,60.1 577.9,59.9 578.1,59.5 578.4,59.1 578.6,59.0 578.9,59.1 579.1,59.5 579.4,59.9 579.6,60.2 579.9,60.3 580.1,60.1 580.4,59.9 580.6,59.8 580.9,60.0 581.1,60.5 581.4,61.1 581.6,61.6 581.9,61.8 582.2,61.8 582.4,61.7 582.7,61.8 582.9,62.0 583.2,62.6 583.4,63.3 583.7,64.0 583.9,64.5 584.2,64.7 584.4,64.7 584.7,64.8 584.9,65.1 585.2,65.8 585.4,66.6 585.7,67.5 585.9,68.1 586.2,68.5 586.5,68.6 586.7,68.7 587.0,69.0 587.2,69.7 587.5,70.6 587.7,71.6 588.0,72.5 588.2,73.0 588.5,73.3 588.7,73.4 589.0,73.7 589.2,74.2 589.5,75.1 589.7,76.1 590.0,77.1 590.2,77.9 590.5,78.3 590.8,78.5 591.0,78.7 591.3,79.1 591.5,79.8 591.8,80.8 592.0,81.8 592.3,82.7 592.5,83.2 592.8,83.5 593.0,83.7 593.3,84.1 593.5,84.7 593.8,85.6 594.0,86.5 594.3,87.3 594.5,87.8 594.8,88.1 595.1,88.3 595.3,88.7 595.6,89.2 595.8,89.9 596.1,90.7 596.3,91.4 596.6,91.9 596.8,92.1 597.1,92.2 597.3,92.4 597.6,92.9 597.8,93.5 598.1,94.3 598.3,94.9 598.6,95.3 598.8,95.4 599.1,95.4 599.4,95.4 599.6,95.6 599.9,96.0 600.1,96.7 600.4,97.3 600.6,97.6 600.9,97.7 601.1,97.5 601.4,97.3 601.6,97.2 601.9,97.5 602.1,97.9 602.4,98.4 602.6,98.6 602.9,98.6 603.1,98.3 603.4,97.9 603.7,97.7 603.9,97.6 604.2,97.8 604.4,98.1 604.7,98.2 604.9,98.0 605.2,97.6 605.4,96.9 605.7,96.3 605.9,95.9 606.2,95.8 606.4,95.8 606.7,95.8 606.9,95.5 607.2,94.9 607.4,94.0 607.7,93.1 608.0,92.4 608.2,92.0 608.5,91.7 608.7,91.6 609.0,91.2 609.2,90.5 609.5,89.5 609.7,88.4 610.0,87.4 610.2,86.7 610.5,86.2 610.7,85.9 611.0,85.5 611.2,84.8 611.5,83.8 611.7,82.7 612.0,81.6 612.3,80.7 612.5,80.1 612.8,79.6 613.0,79.1 613.3,78.4 613.5,77.5 613.8,76.4 614.0,75.4 614.3,74.5 614.5,73.9 614.8,73.4 615.0,72.9 615.3,72.2 615.5,71.3 615.8,70.3 616.0,69.3 616.3,68.5 616.6,68.0 616.8,67.6 617.1,67.3 617.3,66.8 617.6,66.1 617.8,65.2 618.1,64.2 618.3,63.5 618.6,63.1 618.8,62.9 619.1,62.8 619.3,62.6 619.6,62.1 619.8,61.4 620.1,60.7 620.3,60.0 620.6,59.7 620.9,59.7 621.1,59.9 621.4,60.0 621.6,59.9 621.9,59.5 622.1,59.0 622.4,58.6 622.6,58.4 622.9,58.5 623.1,58.9 623.4,59.3 623.6,59.5 623.9,59.4 624.1,59.2 624.4,58.9 624.6,58.8 624.9,59.0 625.2,59.5 625.4,60.1 625.7,60.5 625.9,60.7 626.2,60.6 626.4,60.5 626.7,60.5 626.9,60.8 627.2,61.3 627.4,62.1 627.7,62.7 627.9,63.1 628.2,63.3 628.4,63.3 628.7,63.4 628.9,63.7 629.2,64.3 629.5,65.1 629.7,65.9 630.0,66.6 630.2,66.9 630.5,67.1 630.7,67.3 631.0,67.6 631.2,68.2 631.5,69.0 631.7,69.9 632.0,70.7 632.2,71.2 632.5,71.5 632.7,71.8 633.0,72.2 633.2,72.9 633.5,73.7 633.8,74.7 634.0,75.5 634.3,76.1 634.5,76.4 634.8,76.8 635.0,77.2 635.3,77.8 635.5,78.7 635.8,79.7 636.0,80.5 636.3,81.1 636.5,81.4 636.8,81.7 637.0,82.0 637.3,82.7 637.5,83.5 637.8,84.6 638.1,85.5 638.3,86.2 638.6,86.6 638.8,86.8 639.1,87.0 639.3,87.4 639.6,88.1 639.8,89.0 640.1,89.9 640.3,90.7 640.6,91.1 640.8,91.2 641.1,91.3 641.3,91.5 641.6,91.9 641.8,92.7 642.1,93.5 642.4,94.3 642.6,94.7 642.9,94.8 643.1,94.8 643.4,94.8 643.6,95.0 643.9,95.5 644.1,96.2 644.4,96.8 644.6,97.2 644.9,97.3 645.1,97.1 645.4,97.0 645.6,97.0 645.9,97.3 646.1,97.8 646.4,98.2 646.7,98.5 646.9,98.5 647.2,98.2 647.4,97.9 647.7,97.7 647.9,97.7 648.2,98.0 648.4,98.3 648.7,98.4 648.9,98.3 649.2,97.8 649.4,97.2 649.7,96.7 649.9,96.4 650.2,96.4 650.4,96.4 650.7,96.3 651.0,96.0 651.2,95.4 651.5,94.6 651.7,93.8 652.0,93.2 652.2,92.9 652.5,92.6 652.7,92.4 653.0,91.9 653.2,91.1 653.5,90.1 653.7,89.2 654.0,88.4 654.2,87.8 654.5,87.5 654.7,87.1 655.0,86.5 655.3,85.6 655.5,84.5 655.8,83.3 656.0,82.4 656.3,81.7 656.5,81.3 656.8,80.9 657.0,80.3 657.3,79.4 657.5,78.2 657.8,76.9 658.0,75.8 658.3,75.1 658.5,74.6 658.8,74.3 659.0,74.0 659.3,73.3 659.6,72.3 659.8,71.1 660.1,69.9 660.3,69.0 660.6,68.5 660.8,68.2 661.1,68.0 661.3,67.6 661.6,66.8 661.8,65.8 662.1,64.8 662.3,63.9 662.6,63.4 662.8,63.2 663.1,63.1 663.3,62.9 663.6,62.5 663.9,61.8 664.1,61.1 664.4,60.4 664.6,60.0 664.9,60.0 665.1,60.1 665.4,60.1 665.6,60.0 665.9,59.6 666.1,59.1 666.4,58.6 666.6,58.5 666.9,58.6 667.1,58.9 667.4,59.3 667.6,59.4 667.9,59.3 668.2,59.0 668.4,58.7 668.7,58.7 668.9,59.0 669.2,59.5 669.4,60.0 669.7,60.4 669.9,60.5 670.2,60.4 670.4,60.2 670.7,60.3 670.9,60.6 671.2,61.2 671.4,61.9 671.7,62.5 671.9,62.8 672.2,62.9 672.5,62.9 672.7,63.0 673.0,63.4 673.2,64.1 673.5,64.9 673.7,65.6 674.0,66.1 674.2,66.4 674.5,66.5 674.7,66.7 675.0,67.1 675.2,67.9 675.5,68.8 675.7,69.7 676.0,70.3 676.2,70.7 676.5,70.8 676.8,71.0 677.0,71.4 677.3,72.2 677.5,73.2 677.8,74.3 678.0,75.1 678.3,75.7 678.5,75.9 678.8,76.0 679.0,76.3 679.3,76.9 679.5,77.9 679.8,79.0 680.0,80.0 680.3,80.8 680.5,81.1 680.8,81.3 681.1,81.5 681.3,81.9 681.6,82.7 681.8,83.7 682.1,84.8 682.3,85.6 682.6,86.1 682.8,86.3 683.1,86.5 683.3,86.8 683.6,87.4 683.8,88.3 684.1,89.2 684.3,89.9 684.6,90.4 684.8,90.7 685.1,90.8 685.4,91.1 685.6,91.6 685.9,92.3 686.1,93.1 686.4,93.7 686.6,94.1 686.9,94.2 687.1,94.3 687.4,94.4 687.6,94.8 687.9,95.4 688.1,96.0 688.4,96.6 688.6,96.9 688.9,96.9 689.1,96.8 689.4,96.7 689.7,96.8 689.9,97.2 690.2,97.7 690.4,98.2 690.7,98.4 690.9,98.4 691.2,98.1 691.4,97.8 691.7,97.7 691.9,97.8 692.2,98.1 692.4,98.5 692.7,98.6 692.9,98.4 693.2,97.9 693.4,97.4 693.7,97.0 694.0,96.8 694.2,96.9 694.5,97.0 694.7,96.9 695.0,96.5 695.2,95.9 695.5,95.1 695.7,94.3 696.0,93.9 696.2,93.7 696.5,93.6 696.7,93.4 697.0,93.0 697.2,92.2 697.5,91.2 697.7,90.2 698.0,89.4 698.3,88.9 698.5,88.7 698.8,88.4 699.0,87.9 699.3,87.1 699.5,86.0 699.8,84.9 700.0,83.8 700.3,83.1 700.5,82.7 700.8,82.3 701.0,81.8 701.3,81.1 701.5,80.1 701.8,78.9 702.0,77.8 702.3,77.0 702.6,76.4 702.8,76.0 703.1,75.5 703.3,74.8 703.6,73.9 703.8,72.9 704.1,71.9 704.3,71.1 704.6,70.5 704.8,70.0 705.1,69.6 705.3,69.0 705.6,68.2 705.8,67.3 706.1,66.4 706.3,65.8 706.6,65.3 706.9,65.1 707.1,64.8 707.4,64.4 707.6,63.8 707.9,63.0 708.1,62.2 708.4,61.7 708.6,61.4 708.9,61.4 709.1,61.5 709.4,61.4 709.6,61.0 709.9,60.5 710.1,59.9 710.4,59.4 710.6,59.3 710.9,59.4 711.2,59.7 711.4,60.0 711.7,60.0 711.9,59.8 712.2,59.4 712.4,59.1 712.7,59.1 712.9,59.4 713.2,59.8 713.4,60.3 713.7,60.6 713.9,60.6 714.2,60.4 714.4,60.3 714.7,60.3 714.9,60.6 715.2,61.2 715.5,61.9 715.7,62.4 716.0,62.6 716.2,62.6 716.5,62.6 716.7,62.7 717.0,63.1 717.2,63.8 717.5,64.6 717.7,65.3 718.0,65.8 718.2,66.0 718.5,66.1 718.7,66.2 719.0,66.6 719.2,67.3 719.5,68.2 719.8,69.1 720.0,69.8 720.3,70.2 720.5,70.4 720.8,70.6 721.0,71.0 721.3,71.7 721.5,72.6 721.8,73.5 722.0,74.3 722.3,74.8 722.5,75.2 722.8,75.5 723.0,76.0 723.3,76.6 723.5,77.5 723.8,78.4 724.1,79.2 724.3,79.8 724.6,80.2 724.8,80.5 725.1,81.0 725.3,81.6 725.6,82.5 725.8,83.4 726.1,84.2 726.3,84.8 726.6,85.1 726.8,85.3 727.1,85.7 727.3,86.3 727.6,87.1 727.8,88.1 728.1,89.0 728.4,89.5 728.6,89.8 728.9,89.9 729.1,90.1 729.4,90.5 729.6,91.2 729.9,92.0 730.1,92.9 730.4,93.5 730.6,93.8 730.9,93.8 731.1,93.8 731.4,93.9 731.6,94.3 731.9,95.0 732.1,95.8 732.4,96.4 732.7,96.7 732.9,96.7 733.2,96.5 733.4,96.4 733.7,96.6 733.9,97.1 734.2,97.6 734.4,98.1 734.7,98.3 734.9,98.2 735.2,98.0 735.4,97.7 735.7,97.6 735.9,97.8 736.2,98.2 736.4,98.5 736.7,98.7 737.0,98.4 737.2,98.0 737.5,97.5 737.7,97.1 738.0,97.0 738.2,97.1 738.5,97.2 738.7,97.1 739.0,96.8 739.2,96.1 739.5,95.4 739.7,94.7 740.0,94.2 740.2,94.0 740.5,93.9 740.7,93.7 741.0,93.2 741.3,92.4 741.5,91.5 741.8,90.6 742.0,89.9 742.3,89.5 742.5,89.1 742.8,88.7 743.0,88.1 743.3,87.2 743.5,86.2 743.8,85.2 744.0,84.4 744.3,83.8 744.5,83.3 744.8,82.8 745.0,82.1 745.3,81.1" fill="none" stroke="#ff0000" stroke-width="2.20" stroke-linejoin="round"/>
<path clip-path="url(#cpc)" d="M140.4,944.7 L140.7,944.7 141.1,944.7 141.4,944.7 141.7,944.7 142.1,944.7 142.4,944.7 142.8,944.7 143.1,944.7 143.4,944.7 143.8,944.7 144.1,944.7 144.4,944.7 144.8,944.7 145.1,944.7 145.5,944.7 145.8,944.7 146.1,944.7 146.5,944.7 146.8,944.7 147.1,944.7 147.5,944.7 147.8,944.7 148.2,944.7 148.5,944.7 148.8,944.7 149.2,944.7 149.5,944.7 149.8,944.7 150.2,944.7 150.5,944.7 150.9,944.7 151.2,944.7 151.5,944.7 151.9,944.7 152.2,944.7 152.5,944.7 152.9,944.7 153.2,944.7 153.6,944.7 153.9,944.7 154.2,944.7 154.6,944.7 154.9,944.7 155.2,944.7 155.6,944.7 155.9,944.7 156.3,944.7 156.6,944.7 156.9,944.7 157.3,944.7 157.6,944.7 157.9,944.7 158.3,944.7 158.6,944.7 159.0,944.7 159.3,944.7 159.6,944.7 160.0,944.7 160.3,944.7 160.6,944.7 161.0,944.7 161.3,944.7 161.6,944.7 162.0,944.7 162.3,944.7 162.7,944.7 163.0,944.7 163.3,944.7 163.7,944.7 164.0,944.7 164.3,944.7 164.7,944.7 165.0,944.7 165.4,944.7 165.7,944.7 166.0,944.7 166.4,944.7 166.7,944.7 167.0,944.7 167.4,944.7 167.7,944.7 168.1,944.7 168.4,944.7 168.7,944.7 169.1,944.7 169.4,944.7 169.7,944.7 170.1,944.7 170.4,944.7 170.8,944.7 171.1,944.7 171.4,944.7 171.8,944.7 172.1,944.7 172.4,944.7 172.8,944.7 173.1,944.7 173.5,944.7 173.8,944.7 174.1,944.7 174.5,944.7 174.8,944.7 175.1,944.7 175.5,944.7 175.8,944.7 176.2,944.7 176.5,944.7 176.8,944.7 177.2,944.7 177.5,944.7 177.8,944.7 178.2,944.7 178.5,944.7 178.9,944.7 179.2,944.7 179.5,944.7 179.9,944.7 180.2,944.7 180.5,944.7 180.9,944.7 181.2,944.7 181.6,944.7 181.9,944.7 182.2,944.7 182.6,944.7 182.9,944.7 183.2,944.7 183.6,944.7 183.9,944.7 184.2,944.7 184.6,944.7 184.9,944.7 185.3,944.7 185.6,944.7 185.9,944.7 186.3,944.7 186.6,944.7 186.9,944.7 187.3,944.7 187.6,944.7 188.0,944.7 188.3,944.7 188.6,944.7 189.0,944.7 189.3,944.7 189.6,944.7 190.0,944.7 190.3,944.7 190.7,944.7 191.0,944.7 191.3,944.7 191.7,944.7 192.0,944.7 192.3,944.7 192.7,944.7 193.0,944.7 193.4,944.7 193.7,944.7 194.0,944.7 194.4,944.7 194.7,944.7 195.0,944.7 195.4,944.7 195.7,944.7 196.1,944.7 196.4,944.7 196.7,944.7 197.1,944.7 197.4,944.7 197.7,944.7 198.1,944.7 198.4,944.7 198.8,944.7 199.1,944.7 199.4,944.7 199.8,944.7 200.1,944.7 200.4,944.7 200.8,944.7 201.1,944.7 201.5,944.7 201.8,944.7 202.1,944.7 202.5,944.7 202.8,944.7 203.1,944.7 203.5,944.7 203.8,944.7 204.1,944.7 204.5,944.7 204.8,944.7 205.2,944.7 205.5,944.7 205.8,944.7 206.2,944.7 206.5,944.7 206.8,944.7 207.2,944.7 207.5,944.7 207.9,944.7 208.2,944.7 208.5,944.7 208.9,944.7 209.2,944.7 209.5,944.7 209.9,944.7 210.2,944.7 210.6,944.7 210.9,944.7 211.2,944.7 211.6,944.7 211.9,944.7 212.2,944.7 212.6,944.7 212.9,944.7 213.3,944.7 213.6,944.7 213.9,944.7 214.3,944.7 214.6,944.7 214.9,944.7 215.3,944.7 215.6,944.7 216.0,944.7 216.3,944.7 216.6,944.7 217.0,944.7 217.3,944.7 217.6,944.7 218.0,944.7 218.3,944.7 218.7,944.7 219.0,944.7 219.3,944.7 219.7,944.7 220.0,944.7 220.3,944.7 220.7,944.7 221.0,944.7 221.4,944.7 221.7,944.7 222.0,944.7 222.4,944.7 222.7,944.7 223.0,944.7 223.4,944.7 223.7,944.7 224.1,944.7 224.4,944.7 224.7,944.7 225.1,944.7 225.4,944.7 225.7,944.7 226.1,944.7 226.4,944.7 226.7,944.7 227.1,944.7 227.4,944.7 227.8,944.7 228.1,944.7 228.4,944.7 228.8,944.7 229.1,944.7 229.4,944.7 229.8,944.7 230.1,944.7 230.5,944.7 230.8,944.7 231.1,944.7 231.5,944.7 231.8,944.7 232.1,944.7 232.5,944.7 232.8,944.7 233.2,944.7 233.5,944.7 233.8,944.7 234.2,944.7 234.5,944.7 234.8,944.7 235.2,944.7 235.5,944.7 235.9,944.7 236.2,944.7 236.5,944.7 236.9,944.7 237.2,944.7 237.5,944.7 237.9,944.7 238.2,944.7 238.6,944.7 238.9,944.7 239.2,944.7 239.6,944.7 239.9,944.7 240.2,944.7 240.6,944.7 240.9,944.7 241.3,944.7 241.6,944.7 241.9,944.7 242.3,944.7 242.6,944.7 242.9,944.7 243.3,944.7 243.6,944.7 244.0,944.7 244.3,944.7 244.6,944.7 245.0,944.7 245.3,944.7 245.6,944.7 246.0,944.7 246.3,944.7 246.6,944.7 247.0,944.7 247.3,944.7 247.7,944.7 248.0,944.7 248.3,944.7 248.7,944.7 249.0,944.7 249.3,944.7 249.7,944.7 250.0,944.7 250.4,944.7 250.7,944.7 251.0,944.7 251.4,944.7 251.7,944.7 252.0,944.7 252.4,944.7 252.7,944.7 253.1,944.7 253.4,944.7 253.7,944.7 254.1,944.7 254.4,944.7 254.7,944.7 255.1,944.7 255.4,944.7 255.8,944.7 256.1,944.7 256.4,944.7 256.8,944.7 257.1,944.7 257.4,944.7 257.8,944.7 258.1,944.7 258.5,944.7 258.8,944.7 259.1,944.7 259.5,944.7 259.8,944.7 260.1,944.7 260.5,944.7 260.8,944.7 261.2,944.7 261.5,944.7 261.8,944.7 262.2,944.7 262.5,944.7 262.8,944.7 263.2,944.7 263.5,944.7 263.9,944.7 264.2,944.7 264.5,944.7 264.9,944.7 265.2,944.7 265.5,944.7 265.9,944.7 266.2,944.7 266.5,944.7 266.9,944.7 267.2,944.7 267.6,944.7 267.9,944.7 268.2,944.7 268.6,944.7 268.9,944.7 269.2,944.7 269.6,944.7 269.9,944.7 270.3,944.7 270.6,944.7 270.9,944.7 271.3,944.7 271.6,944.7 271.9,944.7 272.3,944.7 272.6,944.7 273.0,944.7 273.3,944.7 273.6,944.7 274.0,944.7 274.3,944.7 274.6,944.6 275.0,944.6 275.3,944.6 275.7,944.6 276.0,944.6 276.3,944.6 276.7,944.6 277.0,944.6 277.3,944.6 277.7,944.6 278.0,944.6 278.4,944.6 278.7,944.6 279.0,944.6 279.4,944.6 279.7,944.6 280.0,944.6 280.4,944.6 280.7,944.6 281.1,944.6 281.4,944.6 281.7,944.6 282.1,944.6 282.4,944.6 282.7,944.6 283.1,944.6 283.4,944.6 283.8,944.6 284.1,944.6 284.4,944.6 284.8,944.6 285.1,944.6 285.4,944.6 285.8,944.6 286.1,944.6 286.5,944.6 286.8,944.6 287.1,944.6 287.5,944.6 287.8,944.6 288.1,944.6 288.5,944.6 288.8,944.6 289.1,944.6 289.5,944.6 289.8,944.6 290.2,944.6 290.5,944.6 290.8,944.6 291.2,944.6 291.5,944.6 291.8,944.5 292.2,944.5 292.5,944.5 292.9,944.5 293.2,944.5 293.5,944.5 293.9,944.5 294.2,944.5 294.5,944.5 294.9,944.5 295.2,944.5 295.6,944.5 295.9,944.5 296.2,944.5 296.6,944.5 296.9,944.5 297.2,944.5 297.6,944.5 297.9,944.5 298.3,944.5 298.6,944.5 298.9,944.5 299.3,944.5 299.6,944.5 299.9,944.5 300.3,944.5 300.6,944.5 301.0,944.5 301.3,944.5 301.6,944.5 302.0,944.5 302.3,944.5 302.6,944.5 303.0,944.5 303.3,944.4 303.7,944.4 304.0,944.4 304.3,944.4 304.7,944.4 305.0,944.4 305.3,944.4 305.7,944.4 306.0,944.4 306.4,944.4 306.7,944.4 307.0,944.4 307.4,944.4 307.7,944.4 308.0,944.4 308.4,944.4 308.7,944.4 309.0,944.4 309.4,944.4 309.7,944.4 310.1,944.4 310.4,944.4 310.7,944.4 311.1,944.4 311.4,944.4 311.7,944.4 312.1,944.4 312.4,944.3 312.8,944.3 313.1,944.3 313.4,944.3 313.8,944.3 314.1,944.3 314.4,944.3 314.8,944.3 315.1,944.3 315.5,944.3 315.8,944.3 316.1,944.3 316.5,944.3 316.8,944.3 317.1,944.3 317.5,944.3 317.8,944.3 318.2,944.3 318.5,944.3 318.8,944.3 319.2,944.3 319.5,944.3 319.8,944.3 320.2,944.2 320.5,944.2 320.9,944.2 321.2,944.2 321.5,944.2 321.9,944.2 322.2,944.2 322.5,944.2 322.9,944.2 323.2,944.2 323.6,944.2 323.9,944.2 324.2,944.2 324.6,944.2 324.9,944.2 325.2,944.2 325.6,944.2 325.9,944.2 326.3,944.2 326.6,944.2 326.9,944.1 327.3,944.1 327.6,944.1 327.9,944.1 328.3,944.1 328.6,944.1 328.9,944.1 329.3,944.1 329.6,944.1 330.0,944.1 330.3,944.1 330.6,944.1 331.0,944.1 331.3,944.1 331.6,944.1 332.0,944.1 332.3,944.1 332.7,944.1 333.0,944.0 333.3,944.0 333.7,944.0 334.0,944.0 334.3,944.0 334.7,944.0 335.0,944.0 335.4,944.0 335.7,944.0 336.0,944.0 336.4,944.0 336.7,944.0 337.0,944.0 337.4,944.0 337.7,944.0 338.1,944.0 338.4,944.0 338.7,943.9 339.1,943.9 339.4,943.9 339.7,943.9 340.1,943.9 340.4,943.9 340.8,943.9 341.1,943.9 341.4,943.9 341.8,943.9 342.1,943.9 342.4,943.9 342.8,943.9 343.1,943.9 343.5,943.9 343.8,943.8 344.1,943.8 344.5,943.8 344.8,943.8 345.1,943.8 345.5,943.8 345.8,943.8 346.2,943.8 346.5,943.8 346.8,943.8 347.2,943.8 347.5,943.8 347.8,943.8 348.2,943.8 348.5,943.7 348.9,943.7 349.2,943.7 349.5,943.7 349.9,943.7 350.2,943.7 350.5,943.7 350.9,943.7 351.2,943.7 351.5,943.7 351.9,943.7 352.2,943.7 352.6,943.7 352.9,943.6 353.2,943.6 353.6,943.6 353.9,943.6 354.2,943.6 354.6,943.6 354.9,943.6 355.3,943.6 355.6,943.6 355.9,943.6 356.3,943.6 356.6,943.6 356.9,943.5 357.3,943.5 357.6,943.5 358.0,943.5 358.3,943.5 358.6,943.5 359.0,943.5 359.3,943.5 359.6,943.5 360.0,943.5 360.3,943.5 360.7,943.4 361.0,943.4 361.3,943.4 361.7,943.4 362.0,943.4 362.3,943.4 362.7,943.4 363.0,943.4 363.4,943.4 363.7,943.4 364.0,943.3 364.4,943.3 364.7,943.3 365.0,943.3 365.4,943.3 365.7,943.3 366.1,943.3 366.4,943.3 366.7,943.3 367.1,943.2 367.4,943.2 367.7,943.2 368.1,943.2 368.4,943.2 368.8,943.2 369.1,943.2 369.4,943.2 369.8,943.1 370.1,943.1 370.4,943.1 370.8,943.1 371.1,943.1 371.4,943.1 371.8,943.1 372.1,943.1 372.5,943.0 372.8,943.0 373.1,943.0 373.5,943.0 373.8,943.0 374.1,943.0 374.5,942.9 374.8,942.9 375.2,942.9 375.5,942.9 375.8,942.9 376.2,942.9 376.5,942.8 376.8,942.8 377.2,942.8 377.5,942.8 377.9,942.8 378.2,942.8 378.5,942.7 378.9,942.7 379.2,942.7 379.5,942.7 379.9,942.7 380.2,942.6 380.6,942.6 380.9,942.6 381.2,942.6 381.6,942.6 381.9,942.5 382.2,942.5 382.6,942.5 382.9,942.5 383.3,942.5 383.6,942.4 383.9,942.4 384.3,942.4 384.6,942.4 384.9,942.3 385.3,942.3 385.6,942.3 386.0,942.3 386.3,942.2 386.6,942.2 387.0,942.2 387.3,942.2 387.6,942.1 388.0,942.1 388.3,942.1 388.7,942.1 389.0,942.0 389.3,942.0 389.7,942.0 390.0,941.9 390.3,941.9 390.7,941.9 391.0,941.9 391.4,941.8 391.7,941.8 392.0,941.8 392.4,941.7 392.7,941.7 393.0,941.7 393.4,941.6 393.7,941.6 394.0,941.6 394.4,941.5 394.7,941.5 395.1,941.5 395.4,941.4 395.7,941.4 396.1,941.4 396.4,941.3 396.7,941.3 397.1,941.3 397.4,941.2 397.8,941.2 398.1,941.1 398.4,941.1 398.8,941.1 399.1,941.0 399.4,941.0 399.8,941.0 400.1,940.9 400.5,940.9 400.8,940.8 401.1,940.8 401.5,940.8 401.8,940.7 402.1,940.7 402.5,940.6 402.8,940.6 403.2,940.5 403.5,940.5 403.8,940.5 404.2,940.4 404.5,940.4 404.8,940.3 405.2,940.3 405.5,940.2 405.9,940.2 406.2,940.1 406.5,940.1 406.9,940.0 407.2,940.0 407.5,939.9 407.9,939.9 408.2,939.8 408.6,939.8 408.9,939.7 409.2,939.7 409.6,939.6 409.9,939.5 410.2,939.5 410.6,939.4 410.9,939.4 411.3,939.3 411.6,939.3 411.9,939.2 412.3,939.2 412.6,939.1 412.9,939.0 413.3,939.0 413.6,938.9 413.9,938.9 414.3,938.8 414.6,938.7 415.0,938.7 415.3,938.6 415.6,938.6 416.0,938.5 416.3,938.4 416.6,938.4 417.0,938.3 417.3,938.2 417.7,938.2 418.0,938.1 418.3,938.0 418.7,938.0 419.0,937.9 419.3,937.8 419.7,937.8 420.0,937.7 420.4,937.6 420.7,937.6 421.0,937.5 421.4,937.4 421.7,937.3 422.0,937.3 422.4,937.2 422.7,937.1 423.1,937.0 423.4,936.9 423.7,936.9 424.1,936.8 424.4,936.7 424.7,936.6 425.1,936.5 425.4,936.5 425.8,936.4 426.1,936.3 426.4,936.2 426.8,936.1 427.1,936.0 427.4,936.0 427.8,935.9 428.1,935.8 428.5,935.7 428.8,935.6 429.1,935.5 429.5,935.4 429.8,935.4 430.1,935.3 430.5,935.2 430.8,935.1 431.2,935.0 431.5,934.9 431.8,934.8 432.2,934.7 432.5,934.6 432.8,934.6 433.2,934.5 433.5,934.4 433.8,934.3 434.2,934.2 434.5,934.1 434.9,934.0 435.2,933.9 435.5,933.8 435.9,933.7 436.2,933.6 436.5,933.5 436.9,933.4 437.2,933.2 437.6,933.1 437.9,933.0 438.2,932.9 438.6,932.8 438.9,932.7 439.2,932.6 439.6,932.5 439.9,932.3 440.3,932.2 440.6,932.1 440.9,932.0 441.3,931.9 441.6,931.8 441.9,931.6 442.3,931.5 442.6,931.4 443.0,931.3 443.3,931.2 443.6,931.0 444.0,930.9 444.3,930.8 444.6,930.7 445.0,930.5 445.3,930.4 445.7,930.3 446.0,930.2 446.3,930.1 446.7,929.9 447.0,929.8 447.3,929.7 447.7,929.5 448.0,929.4 448.4,929.3 448.7,929.2 449.0,929.0 449.4,928.9 449.7,928.8 450.0,928.6 450.4,928.5 450.7,928.3 451.1,928.2 451.4,928.1 451.7,927.9 452.1,927.8 452.4,927.6 452.7,927.5 453.1,927.3 453.4,927.2 453.8,927.0 454.1,926.9 454.4,926.7 454.8,926.6 455.1,926.4 455.4,926.2 455.8,926.1 456.1,925.9 456.4,925.7 456.8,925.6 457.1,925.4 457.5,925.3 457.8,925.1 458.1,924.9 458.5,924.7 458.8,924.6 459.1,924.4 459.5,924.2 459.8,924.1 460.2,923.9 460.5,923.7 460.8,923.6 461.2,923.4 461.5,923.2 461.8,923.1 462.2,922.9 462.5,922.7 462.9,922.5 463.2,922.4 463.5,922.2 463.9,922.0 464.2,921.8 464.5,921.7 464.9,921.5 465.2,921.3 465.6,921.1 465.9,920.9 466.2,920.8 466.6,920.6 466.9,920.4 467.2,920.2 467.6,920.0 467.9,919.8 468.3,919.6 468.6,919.4 468.9,919.2 469.3,919.0 469.6,918.8 469.9,918.6 470.3,918.4 470.6,918.2 471.0,917.9 471.3,917.7 471.6,917.5 472.0,917.3 472.3,917.1 472.6,916.8 473.0,916.6 473.3,916.4 473.7,916.2 474.0,915.9 474.3,915.7 474.7,915.5 475.0,915.3 475.3,915.0 475.7,914.8 476.0,914.6 476.3,914.3 476.7,914.1 477.0,913.9 477.4,913.6 477.7,913.4 478.0,913.2 478.4,913.0 478.7,912.7 479.0,912.5 479.4,912.3 479.7,912.0 480.1,911.8 480.4,911.6 480.7,911.4 481.1,911.1 481.4,910.9 481.7,910.7 482.1,910.4 482.4,910.2 482.8,909.9 483.1,909.7 483.4,909.4 483.8,909.2 484.1,908.9 484.4,908.6 484.8,908.4 485.1,908.1 485.5,907.8 485.8,907.5 486.1,907.3 486.5,907.0 486.8,906.7 487.1,906.4 487.5,906.1 487.8,905.8 488.2,905.5 488.5,905.2 488.8,904.9 489.2,904.6 489.5,904.3 489.8,904.0 490.2,903.7 490.5,903.4 490.9,903.1 491.2,902.8 491.5,902.5 491.9,902.2 492.2,901.9 492.5,901.6 492.9,901.3 493.2,901.0 493.6,900.7 493.9,900.4 494.2,900.2 494.6,899.9 494.9,899.6 495.2,899.3 495.6,899.0 495.9,898.7 496.2,898.4 496.6,898.1 496.9,897.8 497.3,897.5 497.6,897.2 497.9,896.9 498.3,896.6 498.6,896.3 498.9,895.9 499.3,895.6 499.6,895.3 500.0,894.9 500.3,894.6 500.6,894.2 501.0,893.9 501.3,893.5 501.6,893.1 502.0,892.8 502.3,892.4 502.7,892.0 503.0,891.6 503.3,891.2 503.7,890.8 504.0,890.4 504.3,890.1 504.7,889.7 505.0,889.3 505.4,888.9 505.7,888.5 506.0,888.1 506.4,887.7 506.7,887.3 507.0,886.9 507.4,886.5 507.7,886.1 508.1,885.7 508.4,885.3 508.7,885.0 509.1,884.6 509.4,884.2 509.7,883.8 510.1,883.5 510.4,883.1 510.8,882.7 511.1,882.4 511.4,882.0 511.8,881.6 512.1,881.3 512.4,880.9 512.8,880.5 513.1,880.2 513.5,879.8 513.8,879.4 514.1,879.0 514.5,878.6 514.8,878.2 515.1,877.7 515.5,877.3 515.8,876.9 516.2,876.4 516.5,876.0 516.8,875.5 517.2,875.1 517.5,874.6 517.8,874.1 518.2,873.6 518.5,873.2 518.8,872.7 519.2,872.2 519.5,871.7 519.9,871.2 520.2,870.7 520.5,870.2 520.9,869.7 521.2,869.2 521.5,868.7 521.9,868.2 522.2,867.7 522.6,867.3 522.9,866.8 523.2,866.3 523.6,865.9 523.9,865.4 524.2,865.0 524.6,864.5 524.9,864.1 525.3,863.7 525.6,863.2 525.9,862.8 526.3,862.4 526.6,862.0 526.9,861.6 527.3,861.1 527.6,860.7 528.0,860.3 528.3,859.9 528.6,859.5 529.0,859.0 529.3,858.6 529.6,858.1 530.0,857.7 530.3,857.2 530.7,856.7 531.0,856.2 531.3,855.7 531.7,855.2 532.0,854.7 532.3,854.2 532.7,853.6 533.0,853.1 533.4,852.5 533.7,851.9 534.0,851.4 534.4,850.8 534.7,850.2 535.0,849.6 535.4,849.0 535.7,848.4 536.1,847.9 536.4,847.3 536.7,846.7 537.1,846.1 537.4,845.6 537.7,845.0 538.1,844.5 538.4,843.9 538.7,843.4 539.1,842.9 539.4,842.4 539.8,841.9 540.1,841.4 540.4,840.9 540.8,840.5 541.1,840.0 541.4,839.5 541.8,839.1 542.1,838.7 542.5,838.2 542.8,837.8 543.1,837.4 543.5,836.9 543.8,836.5 544.1,836.0 544.5,835.6 544.8,835.1 545.2,834.6 545.5,834.1 545.8,833.6 546.2,833.1 546.5,832.6 546.8,832.0 547.2,831.4 547.5,830.9 547.9,830.3 548.2,829.7 548.5,829.0 548.9,828.4 549.2,827.8 549.5,827.1 549.9,826.5 550.2,825.8 550.6,825.1 550.9,824.5 551.2,823.8 551.6,823.1 551.9,822.5 552.2,821.8 552.6,821.2 552.9,820.6 553.3,820.0 553.6,819.4 553.9,818.8 554.3,818.2 554.6,817.6 554.9,817.1 555.3,816.6 555.6,816.1 556.0,815.6 556.3,815.1 556.6,814.7 557.0,814.2 557.3,813.8 557.6,813.4 558.0,813.0 558.3,812.6 558.7,812.1 559.0,811.7 559.3,811.3 559.7,810.8 560.0,810.4 560.3,809.9 560.7,809.4 561.0,808.9 561.3,808.3 561.7,807.8 562.0,807.2 562.4,806.6 562.7,805.9 563.0,805.3 563.4,804.6 563.7,803.9 564.0,803.2 564.4,802.5 564.7,801.7 565.1,801.0 565.4,800.2 565.7,799.5 566.1,798.8 566.4,798.0 566.7,797.3 567.1,796.6 567.4,796.0 567.8,795.3 568.1,794.6 568.4,794.0 568.8,793.4 569.1,792.9 569.4,792.3 569.8,791.8 570.1,791.3 570.5,790.9 570.8,790.4 571.1,790.0 571.5,789.6 571.8,789.2 572.1,788.8 572.5,788.4 572.8,788.0 573.2,787.6 573.5,787.2 573.8,786.8 574.2,786.4 574.5,786.0 574.8,785.5 575.2,785.0 575.5,784.5 575.9,784.0 576.2,783.4 576.5,782.8 576.9,782.2 577.2,781.6 577.5,780.9 577.9,780.2 578.2,779.5 578.6,778.7 578.9,778.0 579.2,777.2 579.6,776.4 579.9,775.7 580.2,774.9 580.6,774.1 580.9,773.3 581.2,772.6 581.6,771.8 581.9,771.1 582.3,770.4 582.6,769.7 582.9,769.1 583.3,768.5 583.6,767.9 583.9,767.3 584.3,766.8 584.6,766.3 585.0,765.9 585.3,765.4 585.6,765.1 586.0,764.7 586.3,764.3 586.6,764.0 587.0,763.7 587.3,763.3 587.7,763.0 588.0,762.7 588.3,762.3 588.7,762.0 589.0,761.6 589.3,761.2 589.7,760.8 590.0,760.3 590.4,759.8 590.7,759.3 591.0,758.7 591.4,758.1 591.7,757.5 592.0,756.8 592.4,756.1 592.7,755.4 593.1,754.6 593.4,753.8 593.7,753.1 594.1,752.3 594.4,751.4 594.7,750.6 595.1,749.8 595.4,749.0 595.8,748.3 596.1,747.5 596.4,746.8 596.8,746.1 597.1,745.4 597.4,744.8 597.8,744.2 598.1,743.6 598.5,743.1 598.8,742.7 599.1,742.2 599.5,741.8 599.8,741.4 600.1,741.1 600.5,740.8 600.8,740.5 601.1,740.2 601.5,739.9 601.8,739.7 602.2,739.4 602.5,739.1 602.8,738.8 603.2,738.5 603.5,738.2 603.8,737.9 604.2,737.5 604.5,737.1 604.9,736.6 605.2,736.2 605.5,735.6 605.9,735.1 606.2,734.5 606.5,733.8 606.9,733.2 607.2,732.5 607.6,731.7 607.9,731.0 608.2,730.2 608.6,729.4 608.9,728.7 609.2,727.9 609.6,727.1 609.9,726.3 610.3,725.5 610.6,724.8 610.9,724.1 611.3,723.4 611.6,722.7 611.9,722.1 612.3,721.5 612.6,721.0 613.0,720.5 613.3,720.0 613.6,719.6 614.0,719.2 614.3,718.9 614.6,718.6 615.0,718.3 615.3,718.1 615.7,717.9 616.0,717.7 616.3,717.5 616.7,717.3 617.0,717.1 617.3,716.9 617.7,716.7 618.0,716.5 618.4,716.2 618.7,715.9 619.0,715.6 619.4,715.2 619.7,714.8 620.0,714.4 620.4,713.9 620.7,713.3 621.1,712.8 621.4,712.1 621.7,711.5 622.1,710.8 622.4,710.1 622.7,709.4 623.1,708.6 623.4,707.9 623.7,707.1 624.1,706.4 624.4,705.7 624.8,704.9 625.1,704.2 625.4,703.6 625.8,702.9 626.1,702.3 626.4,701.8 626.8,701.3 627.1,700.8 627.5,700.4 627.8,700.0 628.1,699.7 628.5,699.4 628.8,699.1 629.1,698.9 629.5,698.7 629.8,698.5 630.2,698.4 630.5,698.3 630.8,698.1 631.2,698.0 631.5,697.9 631.8,697.8 632.2,697.6 632.5,697.4 632.9,697.2 633.2,697.0 633.5,696.7 633.9,696.4 634.2,696.1 634.5,695.7 634.9,695.2 635.2,694.8 635.6,694.3 635.9,693.7 636.2,693.1 636.6,692.5 636.9,691.9 637.2,691.2 637.6,690.5 637.9,689.9 638.3,689.2 638.6,688.5 638.9,687.9 639.3,687.2 639.6,686.6 639.9,686.0 640.3,685.4 640.6,684.9 641.0,684.4 641.3,684.0 641.6,683.6 642.0,683.2 642.3,682.9 642.6,682.6 643.0,682.4 643.3,682.2 643.6,682.1 644.0,682.0 644.3,681.9 644.7,681.8 645.0,681.7 645.3,681.7 645.7,681.6 646.0,681.5 646.3,681.4 646.7,681.3 647.0,681.2 647.4,681.0 647.7,680.8 648.0,680.5 648.4,680.3 648.7,679.9 649.0,679.6 649.4,679.1 649.7,678.7 650.1,678.2 650.4,677.7 650.7,677.1 651.1,676.5 651.4,675.9 651.7,675.3 652.1,674.7 652.4,674.1 652.8,673.4 653.1,672.8 653.4,672.3 653.8,671.7 654.1,671.2 654.4,670.7 654.8,670.2 655.1,669.8 655.5,669.4 655.8,669.1 656.1,668.8 656.5,668.6 656.8,668.4 657.1,668.2 657.5,668.1 657.8,668.0 658.2,667.9 658.5,667.9 658.8,667.9 659.2,667.8 659.5,667.8 659.8,667.7 660.2,667.7 660.5,667.6 660.9,667.5 661.2,667.4 661.5,667.2 661.9,667.0 662.2,666.7 662.5,666.4 662.9,666.1 663.2,665.7 663.5,665.3 663.9,664.8 664.2,664.3 664.6,663.8 664.9,663.3 665.2,662.7 665.6,662.1 665.9,661.6 666.2,661.0 666.6,660.4 666.9,659.9 667.3,659.3 667.6,658.8 667.9,658.4 668.3,657.9 668.6,657.6 668.9,657.2 669.3,656.9 669.6,656.6 670.0,656.4 670.3,656.2 670.6,656.1 671.0,656.0 671.3,655.9 671.6,655.8 672.0,655.8 672.3,655.8 672.7,655.7 673.0,655.7 673.3,655.7 673.7,655.7 674.0,655.6 674.3,655.6 674.7,655.5 675.0,655.3 675.4,655.2 675.7,655.0 676.0,654.7 676.4,654.4 676.7,654.1 677.0,653.8 677.4,653.4 677.7,652.9 678.1,652.5 678.4,652.0 678.7,651.5 679.1,651.0 679.4,650.5 679.7,650.0 680.1,649.4 680.4,648.9 680.8,648.5 681.1,648.0 681.4,647.6 681.8,647.2 682.1,646.8 682.4,646.5 682.8,646.2 683.1,646.0 683.5,645.8 683.8,645.6 684.1,645.5 684.5,645.4 684.8,645.3 685.1,645.3 685.5,645.3 685.8,645.3 686.1,645.3 686.5,645.3 686.8,645.3 687.2,645.4 687.5,645.4 687.8,645.3 688.2,645.3 688.5,645.2 688.8,645.1 689.2,645.0 689.5,644.8 689.9,644.6 690.2,644.4 690.5,644.1 690.9,643.8 691.2,643.4 691.5,643.0 691.9,642.6 692.2,642.2 692.6,641.8 692.9,641.3 693.2,640.8 693.6,640.4 693.9,639.9 694.2,639.5 694.6,639.1 694.9,638.7 695.3,638.3 695.6,637.9 695.9,637.6 696.3,637.3 696.6,637.1 696.9,636.9 697.3,636.7 697.6,636.6 698.0,636.6 698.3,636.5 698.6,636.5 699.0,636.5 699.3,636.5 699.6,636.6 700.0,636.7 700.3,636.8 700.7,636.8 701.0,636.9 701.3,637.0 701.7,637.0 702.0,637.0 702.3,637.0 702.7,637.0 703.0,636.9 703.4,636.8 703.7,636.7 704.0,636.5 704.4,636.3 704.7,636.0 705.0,635.7 705.4,635.4 705.7,635.0 706.0,634.7 706.4,634.3 706.7,633.9 707.1,633.4 707.4,633.0 707.7,632.6 708.1,632.2 708.4,631.8 708.7,631.4 709.1,631.1 709.4,630.8 709.8,630.5 710.1,630.3 710.4,630.1 710.8,629.9 711.1,629.8 711.4,629.7 711.8,629.7 712.1,629.7 712.5,629.7 712.8,629.8 713.1,629.9 713.5,630.0 713.8,630.2 714.1,630.3 714.5,630.4 714.8,630.6 715.2,630.7 715.5,630.8 715.8,630.9 716.2,630.9 716.5,631.0 716.8,630.9 717.2,630.9 717.5,630.8 717.9,630.6 718.2,630.4 718.5,630.2 718.9,629.9 719.2,629.6 719.5,629.3 719.9,629.0 720.2,628.6 720.6,628.2 720.9,627.8 721.2,627.4 721.6,627.0 721.9,626.6 722.2,626.3 722.6,626.0 722.9,625.7 723.3,625.4 723.6,625.2 723.9,625.0 724.3,624.9 724.6,624.8 724.9,624.7 725.3,624.7 725.6,624.8 726.0,624.8 726.3,624.9 726.6,625.1 727.0,625.2 727.3,625.4 727.6,625.6 728.0,625.8 728.3,626.0 728.6,626.2 729.0,626.3 729.3,626.5 729.7,626.6 730.0,626.7 730.3,626.8 730.7,626.8 731.0,626.8 731.3,626.7 731.7,626.6 732.0,626.5 732.4,626.3 732.7,626.1 733.0,625.9 733.4,625.6 733.7,625.3 734.0,624.9 734.4,624.6 734.7,624.2 735.1,623.9 735.4,623.5 735.7,623.2 736.1,622.9 736.4,622.6 736.7,622.3 737.1,622.1 737.4,621.8 737.8,621.7 738.1,621.6 738.4,621.5 738.8,621.5 739.1,621.5 739.4,621.5 739.8,621.6 740.1,621.8 740.5,621.9 740.8,622.1 741.1,622.4 741.5,622.6 741.8,622.8 742.1,623.1 742.5,623.3 742.8,623.6 743.2,623.8 743.5,624.0 743.8,624.1 744.2,624.3 744.5,624.3 744.8,624.4 745.2,624.4 745.5,624.3 745.9,624.3 746.2,624.1 746.5,624.0 746.9,623.7 747.2,623.5" fill="none" stroke="#ff0000" stroke-width="2.00" stroke-linejoin="round"/>
<path clip-path="url(#cpb)" d="M924.2,227.2 L924.3,227.2 924.4,227.2 924.5,227.2 924.6,227.2 924.7,227.2 924.8,227.2 924.9,227.2 925.0,227.2 925.1,227.2 925.2,227.2 925.3,227.2 925.4,227.2 925.5,227.2 925.6,227.2 925.7,227.2 925.8,227.2 925.9,227.2 926.0,227.2 926.1,227.2 926.2,227.2 926.3,227.2 926.4,227.2 926.5,227.2 926.6,227.2 926.6,227.2 926.7,227.2 926.8,227.2 926.9,227.2 927.0,227.2 927.1,227.2 927.2,227.2 927.3,227.2 927.4,227.2 927.5,227.2 927.6,227.2 927.7,227.2 927.8,227.2 927.9,227.2 928.0,227.2 928.1,227.2 928.2,227.2 928.3,227.2 928.4,227.2 928.5,227.2 928.6,227.2 928.7,227.2 928.8,227.2 928.9,227.2 929.0,227.2 929.1,227.2 929.2,227.2 929.3,227.2 929.4,227.2 929.5,227.2 929.6,227.2 929.7,227.2 929.8,227.2 929.9,227.2 930.0,227.2 930.1,227.2 930.2,227.2 930.3,227.2 930.4,227.2 930.5,227.2 930.6,227.2 930.7,227.2 930.8,227.2 930.9,227.2 931.0,227.2 931.1,227.2 931.2,227.2 931.3,227.2 931.3,227.2 931.4,227.2 931.5,227.2 931.6,227.2 931.7,227.2 931.8,227.2 931.9,227.2 932.0,227.2 932.1,227.2 932.2,227.2 932.3,227.2 932.4,227.2 932.5,227.2 932.6,227.2 932.7,227.2 932.8,227.2 932.9,227.2 933.0,227.2 933.1,227.2 933.2,227.2 933.3,227.2 933.4,227.2 933.5,227.2 933.6,227.2 933.7,227.2 933.8,227.2 933.9,227.2 934.0,227.2 934.1,227.2 934.2,227.2 934.3,227.2 934.4,227.2 934.5,227.2 934.6,227.2 934.7,227.2 934.8,227.2 934.9,227.2 935.0,227.2 935.1,227.2 935.2,227.2 935.3,227.2 935.4,227.2 935.5,227.2 935.6,227.2 935.7,227.2 935.8,227.2 935.9,227.2 936.0,227.2 936.0,227.2 936.1,227.2 936.2,227.2 936.3,227.2 936.4,227.2 936.5,227.2 936.6,227.2 936.7,227.2 936.8,227.2 936.9,227.2 937.0,227.2 937.1,227.2 937.2,227.2 937.3,227.2 937.4,227.2 937.5,227.2 937.6,227.2 937.7,227.2 937.8,227.2 937.9,227.2 938.0,227.2 938.1,227.2 938.2,227.2 938.3,227.2 938.4,227.2 938.5,227.2 938.6,227.2 938.7,227.2 938.8,227.2 938.9,227.2 939.0,227.2 939.1,227.2 939.2,227.2 939.3,227.2 939.4,227.2 939.5,227.2 939.6,227.2 939.7,227.2 939.8,227.2 939.9,227.2 940.0,227.2 940.1,227.2 940.2,227.2 940.3,227.2 940.4,227.2 940.5,227.2 940.6,227.2 940.7,227.2 940.8,227.2 940.8,227.2 940.9,227.2 941.0,227.2 941.1,227.2 941.2,227.2 941.3,227.2 941.4,227.2 941.5,227.2 941.6,227.2 941.7,227.2 941.8,227.2 941.9,227.2 942.0,227.2 942.1,227.2 942.2,227.2 942.3,227.2 942.4,227.2 942.5,227.2 942.6,227.2 942.7,227.2 942.8,227.2 942.9,227.2 943.0,227.2 943.1,227.2 943.2,227.2 943.3,227.2 943.4,227.2 943.5,227.2 943.6,227.2 943.7,227.2 943.8,227.2 943.9,227.2 944.0,227.2 944.1,227.2 944.2,227.2 944.3,227.2 944.4,227.2 944.5,227.2 944.6,227.2 944.7,227.2 944.8,227.2 944.9,227.2 945.0,227.2 945.1,227.2 945.2,227.2 945.3,227.2 945.4,227.2 945.5,227.2 945.5,227.2 945.6,227.2 945.7,227.2 945.8,227.2 945.9,227.2 946.0,227.2 946.1,227.2 946.2,227.2 946.3,227.2 946.4,227.2 946.5,227.2 946.6,227.2 946.7,227.2 946.8,227.2 946.9,227.2 947.0,227.2 947.1,227.2 947.2,227.2 947.3,227.2 947.4,227.2 947.5,227.2 947.6,227.2 947.7,227.2 947.8,227.2 947.9,227.2 948.0,227.2 948.1,227.2 948.2,227.2 948.3,227.2 948.4,227.2 948.5,227.2 948.6,227.2 948.7,227.2 948.8,227.2 948.9,227.2 949.0,227.2 949.1,227.2 949.2,227.2 949.3,227.2 949.4,227.2 949.5,227.2 949.6,227.2 949.7,227.2 949.8,227.2 949.9,227.2 950.0,227.2 950.1,227.2 950.2,227.2 950.3,227.2 950.3,227.2 950.4,227.2 950.5,227.2 950.6,227.2 950.7,227.2 950.8,227.2 950.9,227.2 951.0,227.2 951.1,227.2 951.2,227.2 951.3,227.2 951.4,227.2 951.5,227.2 951.6,227.2 951.7,227.2 951.8,227.2 951.9,227.2 952.0,227.2 952.1,227.2 952.2,227.2 952.3,227.2 952.4,227.2 952.5,227.2 952.6,227.2 952.7,227.2 952.8,227.2 952.9,227.2 953.0,227.2 953.1,227.2 953.2,227.2 953.3,227.2 953.4,227.2 953.5,227.2 953.6,227.2 953.7,227.2 953.8,227.2 953.9,227.2 954.0,227.2 954.1,227.2 954.2,227.2 954.3,227.2 954.4,227.2 954.5,227.2 954.6,227.2 954.7,227.2 954.8,227.2 954.9,227.2 955.0,227.2 955.0,227.2 955.1,227.2 955.2,227.2 955.3,227.2 955.4,227.2 955.5,227.2 955.6,227.2 955.7,227.2 955.8,227.2 955.9,227.2 956.0,227.2 956.1,227.2 956.2,227.2 956.3,227.2 956.4,227.2 956.5,227.2 956.6,227.2 956.7,227.2 956.8,227.2 956.9,227.2 957.0,227.2 957.1,227.2 957.2,227.2 957.3,227.2 957.4,227.2 957.5,227.2 957.6,227.2 957.7,227.2 957.8,227.2 957.9,227.2 958.0,227.2 958.1,227.2 958.2,227.2 958.3,227.2 958.4,227.2 958.5,227.2 958.6,227.2 958.7,227.2 958.8,227.2 958.9,227.2 959.0,227.2 959.1,227.2 959.2,227.2 959.3,227.2 959.4,227.2 959.5,227.2 959.6,227.2 959.7,227.2 959.7,227.2 959.8,227.2 959.9,227.2 960.0,227.2 960.1,227.2 960.2,227.2 960.3,227.2 960.4,227.2 960.5,227.2 960.6,227.2 960.7,227.2 960.8,227.2 960.9,227.2 961.0,227.2 961.1,227.2 961.2,227.2 961.3,227.2 961.4,227.2 961.5,227.2 961.6,227.2 961.7,227.2 961.8,227.2 961.9,227.2 962.0,227.2 962.1,227.2 962.2,227.2 962.3,227.2 962.4,227.2 962.5,227.2 962.6,227.2 962.7,227.2 962.8,227.2 962.9,227.2 963.0,227.2 963.1,227.2 963.2,227.2 963.3,227.2 963.4,227.2 963.5,227.2 963.6,227.2 963.7,227.2 963.8,227.2 963.9,227.2 964.0,227.2 964.1,227.2 964.2,227.2 964.3,227.2 964.4,227.2 964.5,227.2 964.5,227.2 964.6,227.2 964.7,227.2 964.8,227.2 964.9,227.2 965.0,227.2 965.1,227.2 965.2,227.2 965.3,227.2 965.4,227.2 965.5,227.2 965.6,227.2 965.7,227.2 965.8,227.2 965.9,227.2 966.0,227.2 966.1,227.2 966.2,227.2 966.3,227.2 966.4,227.2 966.5,227.2 966.6,227.2 966.7,227.2 966.8,227.2 966.9,227.2 967.0,227.2 967.1,227.2 967.2,227.2 967.3,227.2 967.4,227.2 967.5,227.2 967.6,227.2 967.7,227.2 967.8,227.2 967.9,227.2 968.0,227.2 968.1,227.2 968.2,227.2 968.3,227.2 968.4,227.2 968.5,227.2 968.6,227.2 968.7,227.2 968.8,227.2 968.9,227.2 969.0,227.2 969.1,227.2 969.2,227.2 969.2,227.2 969.3,227.2 969.4,227.2 969.5,227.2 969.6,227.2 969.7,227.2 969.8,227.2 969.9,227.2 970.0,227.2 970.1,227.2 970.2,227.2 970.3,227.2 970.4,227.2 970.5,227.2 970.6,227.2 970.7,227.2 970.8,227.2 970.9,227.2 971.0,227.2 971.1,227.2 971.2,227.2 971.3,227.2 971.4,227.2 971.5,227.2 971.6,227.2 971.7,227.2 971.8,227.2 971.9,227.2 972.0,227.2 972.1,227.2 972.2,227.2 972.3,227.2 972.4,227.2 972.5,227.2 972.6,227.2 972.7,227.2 972.8,227.2 972.9,227.2 973.0,227.2 973.1,227.2 973.2,227.2 973.3,227.2 973.4,227.2 973.5,227.2 973.6,227.2 973.7,227.2 973.8,227.2 973.9,227.2 973.9,227.2 974.0,227.2 974.1,227.2 974.2,227.2 974.3,227.2 974.4,227.2 974.5,227.2 974.6,227.2 974.7,227.2 974.8,227.2 974.9,227.2 975.0,227.2 975.1,227.2 975.2,227.2 975.3,227.2 975.4,227.2 975.5,227.2 975.6,227.2 975.7,227.2 975.8,227.2 975.9,227.2 976.0,227.2 976.1,227.2 976.2,227.2 976.3,227.2 976.4,227.2 976.5,227.2 976.6,227.2 976.7,227.2 976.8,227.2 976.9,227.2 977.0,227.2 977.1,227.2 977.2,227.2 977.3,227.2 977.4,227.2 977.5,227.2 977.6,227.2 977.7,227.2 977.8,227.2 977.9,227.2 978.0,227.2 978.1,227.2 978.2,227.2 978.3,227.2 978.4,227.2 978.5,227.2 978.6,227.2 978.7,227.2 978.7,227.2 978.8,227.2 978.9,227.2 979.0,227.2 979.1,227.2 979.2,227.2 979.3,227.2 979.4,227.2 979.5,227.2 979.6,227.2 979.7,227.2 979.8,227.2 979.9,227.2 980.0,227.2 980.1,227.2 980.2,227.2 980.3,227.2 980.4,227.2 980.5,227.2 980.6,227.2 980.7,227.2 980.8,227.2 980.9,227.2 981.0,227.2 981.1,227.2 981.2,227.2 981.3,227.2 981.4,227.2 981.5,227.2 981.6,227.2 981.7,227.2 981.8,227.2 981.9,227.2 982.0,227.2 982.1,227.2 982.2,227.2 982.3,227.2 982.4,227.2 982.5,227.2 982.6,227.2 982.7,227.2 982.8,227.2 982.9,227.2 983.0,227.2 983.1,227.2 983.2,227.2 983.3,227.2 983.4,227.2 983.4,227.2 983.5,227.2 983.6,227.2 983.7,227.2 983.8,227.2 983.9,227.2 984.0,227.2 984.1,227.2 984.2,227.2 984.3,227.2 984.4,227.2 984.5,227.2 984.6,227.2 984.7,227.2 984.8,227.2 984.9,227.2 985.0,227.2 985.1,227.2 985.2,227.2 985.3,227.2 985.4,227.2 985.5,227.2 985.6,227.2 985.7,227.2 985.8,227.2 985.9,227.2 986.0,227.2 986.1,227.2 986.2,227.2 986.3,227.2 986.4,227.2 986.5,227.2 986.6,227.2 986.7,227.2 986.8,227.2 986.9,227.2 987.0,227.2 987.1,227.2 987.2,227.2 987.3,227.2 987.4,227.2 987.5,227.2 987.6,227.2 987.7,227.2 987.8,227.2 987.9,227.2 988.0,227.2 988.1,227.2 988.2,227.2 988.2,227.2 988.3,227.2 988.4,227.2 988.5,227.2 988.6,227.2 988.7,227.2 988.8,227.2 988.9,227.2 989.0,227.2 989.1,227.2 989.2,227.2 989.3,227.2 989.4,227.2 989.5,227.2 989.6,227.2 989.7,227.2 989.8,227.2 989.9,227.2 990.0,227.2 990.1,227.2 990.2,227.2 990.3,227.2 990.4,227.2 990.5,227.2 990.6,227.2 990.7,227.2 990.8,227.2 990.9,227.2 991.0,227.2 991.1,227.2 991.2,227.2 991.3,227.2 991.4,227.2 991.5,227.2 991.6,227.2 991.7,227.2 991.8,227.2 991.9,227.2 992.0,227.2 992.1,227.2 992.2,227.2 992.3,227.2 992.4,227.2 992.5,227.2 992.6,227.2 992.7,227.2 992.8,227.2 992.9,227.2 992.9,227.2 993.0,227.2 993.1,227.2 993.2,227.2 993.3,227.2 993.4,227.2 993.5,227.2 993.6,227.2 993.7,227.2 993.8,227.2 993.9,227.2 994.0,227.2 994.1,227.2 994.2,227.2 994.3,227.2 994.4,227.2 994.5,227.2 994.6,227.2 994.7,227.2 994.8,227.2 994.9,227.2 995.0,227.2 995.1,227.2 995.2,227.2 995.3,227.2 995.4,227.2 995.5,227.2 995.6,227.2 995.7,227.2 995.8,227.2 995.9,227.2 996.0,227.2 996.1,227.2 996.2,227.2 996.3,227.2 996.4,227.2 996.5,227.2 996.6,227.2 996.7,227.2 996.8,227.2 996.9,227.2 997.0,227.2 997.1,227.2 997.2,227.2 997.3,227.2 997.4,227.2 997.5,227.2 997.6,227.2 997.6,227.2 997.7,227.2 997.8,227.2 997.9,227.2 998.0,227.2 998.1,227.2 998.2,227.2 998.3,227.2 998.4,227.2 998.5,227.2 998.6,227.2 998.7,227.2 998.8,227.2 998.9,227.2 999.0,227.2 999.1,227.2 999.2,227.2 999.3,227.2 999.4,227.2 999.5,227.2 999.6,227.2 999.7,227.2 999.8,227.2 999.9,227.2 1000.0,227.2 1000.1,227.2 1000.2,227.2 1000.3,227.2 1000.4,227.2 1000.5,227.2 1000.6,227.2 1000.7,227.2 1000.8,227.2 1000.9,227.2 1001.0,227.2 1001.1,227.2 1001.2,227.2 1001.3,227.2 1001.4,227.2 1001.5,227.2 1001.6,227.2 1001.7,227.2 1001.8,227.2 1001.9,227.2 1002.0,227.2 1002.1,227.2 1002.2,227.2 1002.3,227.2 1002.4,227.2 1002.4,227.2 1002.5,227.2 1002.6,227.2 1002.7,227.2 1002.8,227.2 1002.9,227.2 1003.0,227.2 1003.1,227.2 1003.2,227.2 1003.3,227.2 1003.4,227.2 1003.5,227.2 1003.6,227.2 1003.7,227.2 1003.8,227.2 1003.9,227.2 1004.0,227.2 1004.1,227.2 1004.2,227.2 1004.3,227.2 1004.4,227.2 1004.5,227.2 1004.6,227.2 1004.7,227.2 1004.8,227.2 1004.9,227.2 1005.0,227.2 1005.1,227.2 1005.2,227.2 1005.3,227.2 1005.4,227.2 1005.5,227.2 1005.6,227.2 1005.7,227.2 1005.8,227.2 1005.9,227.2 1006.0,227.2 1006.1,227.2 1006.2,227.2 1006.3,227.2 1006.4,227.2 1006.5,227.2 1006.6,227.2 1006.7,227.2 1006.8,227.2 1006.9,227.2 1007.0,227.2 1007.1,227.2 1007.1,227.2 1007.2,227.2 1007.3,227.2 1007.4,227.2 1007.5,227.2 1007.6,227.2 1007.7,227.2 1007.8,227.2 1007.9,227.2 1008.0,227.2 1008.1,227.2 1008.2,227.2 1008.3,227.2 1008.4,227.2 1008.5,227.2 1008.6,227.2 1008.7,227.2 1008.8,227.2 1008.9,227.2 1009.0,227.2 1009.1,227.2 1009.2,227.2 1009.3,227.2 1009.4,227.2 1009.5,227.2 1009.6,227.2 1009.7,227.2 1009.8,227.2 1009.9,227.2 1010.0,227.2 1010.1,227.2 1010.2,227.2 1010.3,227.2 1010.4,227.2 1010.5,227.2 1010.6,227.2 1010.7,227.2 1010.8,227.2 1010.9,227.2 1011.0,227.2 1011.1,227.2 1011.2,227.2 1011.3,227.2 1011.4,227.1 1011.5,227.1 1011.6,227.1 1011.7,227.1 1011.8,227.1 1011.9,227.2 1011.9,227.2 1012.0,227.2 1012.1,227.2 1012.2,227.2 1012.3,227.2 1012.4,227.2 1012.5,227.2 1012.6,227.2 1012.7,227.2 1012.8,227.2 1012.9,227.2 1013.0,227.2 1013.1,227.2 1013.2,227.3 1013.3,227.3 1013.4,227.3 1013.5,227.3 1013.6,227.3 1013.7,227.3 1013.8,227.3 1013.9,227.3 1014.0,227.3 1014.1,227.3 1014.2,227.3 1014.3,227.3 1014.4,227.3 1014.5,227.3 1014.6,227.3 1014.7,227.3 1014.8,227.3 1014.9,227.3 1015.0,227.3 1015.1,227.3 1015.2,227.3 1015.3,227.3 1015.4,227.3 1015.5,227.3 1015.6,227.3 1015.7,227.3 1015.8,227.3 1015.9,227.3 1016.0,227.3 1016.1,227.3 1016.2,227.3 1016.3,227.3 1016.4,227.3 1016.5,227.3 1016.6,227.3 1016.6,227.3 1016.7,227.3 1016.8,227.3 1016.9,227.3 1017.0,227.3 1017.1,227.3 1017.2,227.3 1017.3,227.3 1017.4,227.3 1017.5,227.3 1017.6,227.3 1017.7,227.3 1017.8,227.3 1017.9,227.4 1018.0,227.4 1018.1,227.4 1018.2,227.4 1018.3,227.4 1018.4,227.4 1018.5,227.4 1018.6,227.4 1018.7,227.4 1018.8,227.3 1018.9,227.3 1019.0,227.3 1019.1,227.3 1019.2,227.3 1019.3,227.3 1019.4,227.3 1019.5,227.2 1019.6,227.2 1019.7,227.2 1019.8,227.2 1019.9,227.2 1020.0,227.1 1020.1,227.1 1020.2,227.1 1020.3,227.1 1020.4,227.1 1020.5,227.1 1020.6,227.1 1020.7,227.0 1020.8,227.0 1020.9,227.0 1021.0,227.0 1021.1,227.0 1021.2,227.1 1021.3,227.1 1021.3,227.1 1021.4,227.1 1021.5,227.1 1021.6,227.1 1021.7,227.2 1021.8,227.2 1021.9,227.2 1022.0,227.2 1022.1,227.3 1022.2,227.3 1022.3,227.3 1022.4,227.3 1022.5,227.4 1022.6,227.4 1022.7,227.4 1022.8,227.4 1022.9,227.4 1023.0,227.4 1023.1,227.4 1023.2,227.4 1023.3,227.4 1023.4,227.4 1023.5,227.4 1023.6,227.4 1023.7,227.4 1023.8,227.4 1023.9,227.3 1024.0,227.3 1024.1,227.3 1024.2,227.3 1024.3,227.2 1024.4,227.2 1024.5,227.2 1024.6,227.1 1024.7,227.1 1024.8,227.1 1024.9,227.0 1025.0,227.0 1025.1,227.0 1025.2,227.0 1025.3,226.9 1025.4,226.9 1025.5,226.9 1025.6,226.9 1025.7,226.9 1025.8,226.9 1025.9,226.9 1026.0,226.9 1026.1,226.9 1026.1,226.9 1026.2,227.0 1026.3,227.0 1026.4,227.0 1026.5,227.1 1026.6,227.1 1026.7,227.2 1026.8,227.2 1026.9,227.2 1027.0,227.3 1027.1,227.3 1027.2,227.4 1027.3,227.4 1027.4,227.4 1027.5,227.5 1027.6,227.5 1027.7,227.5 1027.8,227.5 1027.9,227.5 1028.0,227.5 1028.1,227.5 1028.2,227.5 1028.3,227.5 1028.4,227.4 1028.5,227.4 1028.6,227.4 1028.7,227.3 1028.8,227.3 1028.9,227.2 1029.0,227.2 1029.1,227.1 1029.2,227.1 1029.3,227.0 1029.4,227.0 1029.5,226.9 1029.6,226.9 1029.7,226.8 1029.8,226.8 1029.9,226.7 1030.0,226.7 1030.1,226.7 1030.2,226.7 1030.3,226.6 1030.4,226.6 1030.5,226.6 1030.6,226.7 1030.7,226.7 1030.8,226.7 1030.8,226.7 1030.9,226.8 1031.0,226.8 1031.1,226.9 1031.2,227.0 1031.3,227.0 1031.4,227.1 1031.5,227.2 1031.6,227.3 1031.7,227.4 1031.8,227.4 1031.9,227.5 1032.0,227.6 1032.1,227.6 1032.2,227.7 1032.3,227.7 1032.4,227.8 1032.5,227.8 1032.6,227.8 1032.7,227.8 1032.8,227.8 1032.9,227.8 1033.0,227.8 1033.1,227.8 1033.2,227.7 1033.3,227.6 1033.4,227.5 1033.5,227.4 1033.6,227.3 1033.7,227.2 1033.8,227.1 1033.9,227.0 1034.0,226.9 1034.1,226.7 1034.2,226.6 1034.3,226.5 1034.4,226.4 1034.5,226.3 1034.6,226.2 1034.7,226.1 1034.8,226.1 1034.9,226.0 1035.0,226.0 1035.1,225.9 1035.2,225.9 1035.3,225.9 1035.4,226.0 1035.5,226.0 1035.5,226.1 1035.6,226.2 1035.7,226.3 1035.8,226.4 1035.9,226.6 1036.0,226.7 1036.1,226.9 1036.2,227.0 1036.3,227.2 1036.4,227.4 1036.5,227.6 1036.6,227.7 1036.7,227.9 1036.8,228.1 1036.9,228.2 1037.0,228.3 1037.1,228.4 1037.2,228.5 1037.3,228.6 1037.4,228.6 1037.5,228.6 1037.6,228.6 1037.7,228.6 1037.8,228.5 1037.9,228.5 1038.0,228.3 1038.1,228.2 1038.2,228.0 1038.3,227.8 1038.4,227.6 1038.5,227.4 1038.6,227.2 1038.7,227.0 1038.8,226.8 1038.9,226.5 1039.0,226.3 1039.1,226.1 1039.2,225.9 1039.3,225.7 1039.4,225.6 1039.5,225.4 1039.6,225.3 1039.7,225.2 1039.8,225.2 1039.9,225.1 1040.0,225.1 1040.1,225.2 1040.2,225.3 1040.3,225.4 1040.3,225.5 1040.4,225.7 1040.5,226.0 1040.6,226.2 1040.7,226.5 1040.8,226.8 1040.9,227.1 1041.0,227.4 1041.1,227.7 1041.2,228.0 1041.3,228.3 1041.4,228.6 1041.5,228.9 1041.6,229.2 1041.7,229.4 1041.8,229.6 1041.9,229.7 1042.0,229.9 1042.1,230.0 1042.2,230.0 1042.3,230.0 1042.4,229.9 1042.5,229.8 1042.6,229.6 1042.7,229.4 1042.8,229.2 1042.9,228.8 1043.0,228.5 1043.1,228.1 1043.2,227.7 1043.3,227.2 1043.4,226.8 1043.5,226.4 1043.6,225.9 1043.7,225.5 1043.8,225.1 1043.9,224.7 1044.0,224.3 1044.1,224.0 1044.2,223.8 1044.3,223.5 1044.4,223.4 1044.5,223.3 1044.6,223.2 1044.7,223.2 1044.8,223.3 1044.9,223.5 1045.0,223.7 1045.0,224.0 1045.1,224.3 1045.2,224.7 1045.3,225.2 1045.4,225.7 1045.5,226.2 1045.6,226.8 1045.7,227.4 1045.8,228.0 1045.9,228.5 1046.0,229.1 1046.1,229.6 1046.2,230.2 1046.3,230.6 1046.4,231.0 1046.5,231.4 1046.6,231.7 1046.7,232.0 1046.8,232.1 1046.9,232.2 1047.0,232.2 1047.1,232.2 1047.2,232.0 1047.3,231.7 1047.4,231.4 1047.5,230.9 1047.6,230.4 1047.7,229.8 1047.8,229.2 1047.9,228.5 1048.0,227.8 1048.1,227.0 1048.2,226.3 1048.3,225.5 1048.4,224.7 1048.5,224.0 1048.6,223.3 1048.7,222.7 1048.8,222.1 1048.9,221.5 1049.0,221.1 1049.1,220.7 1049.2,220.4 1049.3,220.3 1049.4,220.2 1049.5,220.2 1049.6,220.3 1049.7,220.6 1049.8,221.1 1049.8,221.6 1049.9,222.3 1050.0,223.1 1050.1,223.9 1050.2,224.9 1050.3,225.9 1050.4,226.9 1050.5,228.0 1050.6,229.0 1050.7,230.1 1050.8,231.1 1050.9,232.1 1051.0,233.0 1051.1,233.8 1051.2,234.5 1051.3,235.0 1051.4,235.5 1051.5,235.8 1051.6,236.0 1051.7,236.1 1051.8,236.0 1051.9,235.7 1052.0,235.2 1052.1,234.6 1052.2,233.8 1052.3,232.9 1052.4,231.8 1052.5,230.6 1052.6,229.4 1052.7,228.1 1052.8,226.7 1052.9,225.4 1053.0,224.0 1053.1,222.6 1053.2,221.3 1053.3,220.1 1053.4,218.9 1053.5,217.9 1053.6,217.0 1053.7,216.2 1053.8,215.6 1053.9,215.2 1054.0,214.9 1054.1,214.8 1054.2,214.9 1054.3,215.3 1054.4,215.9 1054.5,216.7 1054.5,217.7 1054.6,219.0 1054.7,220.4 1054.8,221.9 1054.9,223.6 1055.0,225.4 1055.1,227.2 1055.2,229.1 1055.3,231.0 1055.4,232.9 1055.5,234.6 1055.6,236.3 1055.7,237.9 1055.8,239.4 1055.9,240.6 1056.0,241.7 1056.1,242.5 1056.2,243.1 1056.3,243.5 1056.4,243.7 1056.5,243.5 1056.6,243.1 1056.7,242.3 1056.8,241.2 1056.9,239.8 1057.0,238.2 1057.1,236.3 1057.2,234.2 1057.3,232.0 1057.4,229.6 1057.5,227.1 1057.6,224.6 1057.7,222.1 1057.8,219.6 1057.9,217.2 1058.0,214.9 1058.1,212.8 1058.2,210.9 1058.3,209.2 1058.4,207.8 1058.5,206.6 1058.6,205.8 1058.7,205.3 1058.8,205.1 1058.9,205.2 1059.0,205.8 1059.1,206.7 1059.2,208.1 1059.2,209.8 1059.3,211.8 1059.4,214.2 1059.5,216.8 1059.6,219.6 1059.7,222.6 1059.8,225.7 1059.9,228.9 1060.0,232.2 1060.1,235.4 1060.2,238.5 1060.3,241.5 1060.4,244.3 1060.5,246.9 1060.6,249.2 1060.7,251.2 1060.8,252.9 1060.9,254.2 1061.0,255.1 1061.1,255.6 1061.2,255.7 1061.3,255.3 1061.4,254.2 1061.5,252.6 1061.6,250.3 1061.7,247.6 1061.8,244.4 1061.9,240.7 1062.0,236.8 1062.1,232.5 1062.2,228.1 1062.3,223.5 1062.4,219.0 1062.5,214.5 1062.6,210.1 1062.7,206.0 1062.8,202.2 1062.9,198.7 1063.0,195.7 1063.1,193.2 1063.2,191.2 1063.3,189.9 1063.4,189.1 1063.5,188.9 1063.6,189.5 1063.7,190.9 1063.8,193.1 1063.9,196.0 1064.0,199.5 1064.0,203.7 1064.1,208.4 1064.2,213.5 1064.3,219.0 1064.4,224.8 1064.5,230.7 1064.6,236.6 1064.7,242.4 1064.8,248.1 1064.9,253.5 1065.0,258.5 1065.1,263.0 1065.2,266.9 1065.3,270.2 1065.4,272.9 1065.5,274.7 1065.6,275.8 1065.7,276.1 1065.8,275.5 1065.9,273.8 1066.0,271.2 1066.1,267.6 1066.2,263.2 1066.3,258.0 1066.4,252.0 1066.5,245.5 1066.6,238.6 1066.7,231.3 1066.8,223.8 1066.9,216.2 1067.0,208.8 1067.1,201.5 1067.2,194.6 1067.3,188.1 1067.4,182.3 1067.5,177.2 1067.6,172.8 1067.7,169.4 1067.8,166.9 1067.9,165.3 1068.0,164.8 1068.1,165.5 1068.2,167.4 1068.3,170.6 1068.4,175.0 1068.5,180.5 1068.6,187.0 1068.7,194.3 1068.7,202.5 1068.8,211.2 1068.9,220.3 1069.0,229.8 1069.1,239.3 1069.2,248.7 1069.3,257.8 1069.4,266.5 1069.5,274.6 1069.6,282.0 1069.7,288.4 1069.8,293.9 1069.9,298.2 1070.0,301.4 1070.1,303.3 1070.2,303.9 1070.3,303.1 1070.4,300.7 1070.5,296.8 1070.6,291.5 1070.7,284.9 1070.8,277.1 1070.9,268.2 1071.0,258.4 1071.1,247.8 1071.2,236.8 1071.3,225.4 1071.4,214.0 1071.5,202.6 1071.6,191.5 1071.7,180.9 1071.8,171.1 1071.9,162.1 1072.0,154.2 1072.1,147.5 1072.2,142.1 1072.3,138.2 1072.4,135.7 1072.5,134.8 1072.6,135.7 1072.7,138.7 1072.8,143.8 1072.9,150.9 1073.0,159.8 1073.1,170.4 1073.2,182.3 1073.3,195.4 1073.4,209.3 1073.4,223.8 1073.5,238.5 1073.6,253.1 1073.7,267.4 1073.8,280.9 1073.9,293.4 1074.0,304.6 1074.1,314.4 1074.2,322.3 1074.3,328.4 1074.4,332.4 1074.5,334.4 1074.6,334.1 1074.7,331.4 1074.8,326.6 1074.9,319.5 1075.0,310.4 1075.1,299.5 1075.2,286.9 1075.3,273.0 1075.4,258.0 1075.5,242.2 1075.6,226.0 1075.7,209.7 1075.8,193.6 1075.9,178.1 1076.0,163.4 1076.1,149.9 1076.2,137.9 1076.3,127.6 1076.4,119.1 1076.5,112.8 1076.6,108.7 1076.7,106.9 1076.8,107.5 1076.9,110.8 1077.0,116.7 1077.1,125.2 1077.2,135.9 1077.3,148.8 1077.4,163.5 1077.5,179.6 1077.6,196.9 1077.7,215.0 1077.8,233.4 1077.9,251.8 1078.0,269.7 1078.1,286.9 1078.2,302.8 1078.2,317.2 1078.3,329.8 1078.4,340.2 1078.5,348.3 1078.6,353.8 1078.7,356.7 1078.8,356.9 1078.9,354.3 1079.0,349.1 1079.1,341.3 1079.2,331.1 1079.3,318.7 1079.4,304.3 1079.5,288.3 1079.6,271.0 1079.7,252.7 1079.8,233.8 1079.9,214.7 1080.0,195.8 1080.1,177.5 1080.2,160.1 1080.3,144.1 1080.4,129.7 1080.5,117.2 1080.6,106.9 1080.7,99.0 1080.8,93.7 1080.9,91.1 1081.0,91.2 1081.1,94.3 1081.2,100.3 1081.3,109.0 1081.4,120.3 1081.5,134.0 1081.6,149.7 1081.7,167.1 1081.8,185.8 1081.9,205.4 1082.0,225.5 1082.1,245.7 1082.2,265.5 1082.3,284.4 1082.4,302.1 1082.5,318.2 1082.6,332.3 1082.7,344.2 1082.8,353.5 1082.9,360.1 1082.9,363.8 1083.0,364.6 1083.1,362.4 1083.2,357.3 1083.3,349.5 1083.4,339.1 1083.5,326.2 1083.6,311.3 1083.7,294.7 1083.8,276.5 1083.9,257.4 1084.0,237.6 1084.1,217.6 1084.2,197.9 1084.3,178.8 1084.4,160.7 1084.5,144.1 1084.6,129.4 1084.7,116.7 1084.8,106.4 1084.9,98.7 1085.0,93.8 1085.1,91.8 1085.2,92.8 1085.3,96.8 1085.4,103.7 1085.5,113.5 1085.6,125.8 1085.7,140.4 1085.8,157.0 1085.9,175.2 1086.0,194.5 1086.1,214.5 1086.2,234.7 1086.3,254.8 1086.4,274.1 1086.5,292.3 1086.6,309.0 1086.7,323.8 1086.8,336.2 1086.9,346.1 1087.0,353.3 1087.1,357.4 1087.2,358.5 1087.3,356.6 1087.4,351.5 1087.5,343.5 1087.6,332.8 1087.7,319.6 1087.7,304.2 1087.8,286.9 1087.9,268.3 1088.0,248.8 1088.1,228.8 1088.2,208.8 1088.3,189.3 1088.4,170.8 1088.5,153.7 1088.6,138.4 1088.7,125.3 1088.8,114.7 1088.9,106.8 1089.0,102.0 1089.1,100.2 1089.2,101.4 1089.3,105.7 1089.4,112.8 1089.5,122.7 1089.6,135.1 1089.7,149.6 1089.8,166.0 1089.9,183.8 1090.0,202.6 1090.1,222.0 1090.2,241.4 1090.3,260.5 1090.4,278.7 1090.5,295.7 1090.6,310.9 1090.7,324.1 1090.8,335.0 1090.9,343.2 1091.0,348.5 1091.1,350.9 1091.2,350.3 1091.3,346.9 1091.4,340.7 1091.5,331.8 1091.6,320.6 1091.7,307.1 1091.8,291.9 1091.9,275.1 1092.0,257.2 1092.1,238.5 1092.2,219.7 1092.3,200.9 1092.4,182.8 1092.4,165.7 1092.5,150.0 1092.6,136.0 1092.7,124.2 1092.8,114.7 1092.9,107.7 1093.0,103.6 1093.1,102.2 1093.2,103.8 1093.3,108.2 1093.4,115.4 1093.5,125.2 1093.6,137.3 1093.7,151.6 1093.8,167.6 1093.9,185.1 1094.0,203.5 1094.1,222.5 1094.2,241.6 1094.3,260.4 1094.4,278.5 1094.5,295.5 1094.6,310.8 1094.7,324.3 1094.8,335.6 1094.9,344.4 1095.0,350.5 1095.1,353.8 1095.2,354.2 1095.3,351.5 1095.4,345.8 1095.5,337.2 1095.6,325.9 1095.7,312.1 1095.8,296.2 1095.9,278.6 1096.0,259.8 1096.1,240.1 1096.2,220.0 1096.3,200.0 1096.4,180.7 1096.5,162.4 1096.6,145.6 1096.7,130.8 1096.8,118.2 1096.9,108.2 1097.0,101.0 1097.1,96.8 1097.1,95.7 1097.2,97.6 1097.3,102.5 1097.4,110.3 1097.5,120.8 1097.6,133.6 1097.7,148.7 1097.8,165.5 1097.9,183.8 1098.0,203.1 1098.1,223.0 1098.2,242.9 1098.3,262.6 1098.4,281.5 1098.5,299.1 1098.6,315.2 1098.7,329.3 1098.8,341.1 1098.9,350.3 1099.0,356.8 1099.1,360.4 1099.2,360.9 1099.3,358.3 1099.4,352.6 1099.5,344.0 1099.6,332.6 1099.7,318.7 1099.8,302.7 1099.9,284.8 1100.0,265.6 1100.1,245.5 1100.2,225.0 1100.3,204.5 1100.4,184.6 1100.5,165.7 1100.6,148.3 1100.7,132.7 1100.8,119.4 1100.9,108.6 1101.0,100.6 1101.1,95.7 1101.2,93.9 1101.3,95.1 1101.4,99.5 1101.5,106.7 1101.6,116.8 1101.7,129.3 1101.8,144.1 1101.9,160.7 1101.9,178.9 1102.0,198.1 1102.1,217.9 1102.2,237.8 1102.3,257.4 1102.4,276.1 1102.5,293.7 1102.6,309.5 1102.7,323.4 1102.8,334.8 1102.9,343.6 1103.0,349.6 1103.1,352.6 1103.2,352.6 1103.3,349.6 1103.4,343.7 1103.5,335.1 1103.6,324.0 1103.7,310.6 1103.8,295.3 1103.9,278.4 1104.0,260.3 1104.1,241.5 1104.2,222.4 1104.3,203.4 1104.4,185.0 1104.5,167.7 1104.6,151.8 1104.7,137.7 1104.8,125.8 1104.9,116.3 1105.0,109.4 1105.1,105.4 1105.2,104.3 1105.3,106.1 1105.4,110.6 1105.5,117.8 1105.6,127.4 1105.7,139.3 1105.8,153.2 1105.9,168.7 1106.0,185.5 1106.1,203.2 1106.2,221.4 1106.3,239.5 1106.4,257.3 1106.5,274.2 1106.6,290.0 1106.6,304.1 1106.7,316.3 1106.8,326.3 1106.9,333.8 1107.0,338.7 1107.1,340.9 1107.2,340.3 1107.3,337.2 1107.4,331.7 1107.5,323.9 1107.6,314.0 1107.7,302.2 1107.8,288.7 1107.9,274.0 1108.0,258.4 1108.1,242.2 1108.2,225.8 1108.3,209.6 1108.4,194.0 1108.5,179.4 1108.6,166.1 1108.7,154.4 1108.8,144.6 1108.9,136.9 1109.0,131.5 1109.1,128.6 1109.2,128.2 1109.3,130.0 1109.4,134.0 1109.5,140.0 1109.6,148.0 1109.7,157.6 1109.8,168.8 1109.9,181.2 1110.0,194.5 1110.1,208.5 1110.2,222.8 1110.3,237.0 1110.4,250.8 1110.5,263.9 1110.6,276.0 1110.7,286.8 1110.8,296.0 1110.9,303.4 1111.0,308.9 1111.1,312.3 1111.2,313.6 1111.3,312.8 1111.3,310.1 1111.4,305.6 1111.5,299.5 1111.6,291.8 1111.7,282.8 1111.8,272.6 1111.9,261.5 1112.0,249.8 1112.1,237.7 1112.2,225.5 1112.3,213.6 1112.4,202.2 1112.5,191.5 1112.6,181.8 1112.7,173.4 1112.8,166.4 1112.9,161.1 1113.0,157.5 1113.1,155.7 1113.2,155.7 1113.3,157.4 1113.4,160.6 1113.5,165.3 1113.6,171.3 1113.7,178.6 1113.8,187.0 1113.9,196.2 1114.0,206.0 1114.1,216.2 1114.2,226.6 1114.3,236.9 1114.4,246.9 1114.5,256.3 1114.6,265.0 1114.7,272.6 1114.8,279.1 1114.9,284.2 1115.0,287.9 1115.1,290.1 1115.2,290.6 1115.3,289.7 1115.4,287.5 1115.5,283.8 1115.6,279.0 1115.7,273.0 1115.8,266.1 1115.9,258.3 1116.0,249.9 1116.1,241.0 1116.1,232.0 1116.2,222.9 1116.3,214.0 1116.4,205.5 1116.5,197.7 1116.6,190.6 1116.7,184.5 1116.8,179.5 1116.9,175.8 1117.0,173.4 1117.1,172.3 1117.2,172.6 1117.3,174.2 1117.4,177.1 1117.5,181.1 1117.6,186.2 1117.7,192.3 1117.8,199.2 1117.9,206.7 1118.0,214.7 1118.1,223.0 1118.2,231.4 1118.3,239.7 1118.4,247.7 1118.5,255.2 1118.6,262.0 1118.7,268.0 1118.8,273.0 1118.9,276.9 1119.0,279.6 1119.1,281.1 1119.2,281.3 1119.3,280.2 1119.4,277.9 1119.5,274.4 1119.6,269.8 1119.7,264.2 1119.8,257.7 1119.9,250.6 1120.0,242.9 1120.1,234.8 1120.2,226.5 1120.3,218.3 1120.4,210.4 1120.5,202.8 1120.6,195.8 1120.7,189.6 1120.8,184.3 1120.8,180.0 1120.9,176.8 1121.0,174.9 1121.1,174.2 1121.2,174.8 1121.3,176.7 1121.4,179.7 1121.5,184.0 1121.6,189.3 1121.7,195.5 1121.8,202.5 1121.9,210.2 1122.0,218.2 1122.1,226.5 1122.2,234.9 1122.3,243.1 1122.4,251.0 1122.5,258.3 1122.6,264.9 1122.7,270.7 1122.8,275.5 1122.9,279.1 1123.0,281.6 1123.1,282.8 1123.2,282.7 1123.3,281.3 1123.4,278.5 1123.5,274.4 1123.6,269.2 1123.7,262.9 1123.8,255.8 1123.9,247.9 1124.0,239.4 1124.1,230.6 1124.2,221.7 1124.3,212.9 1124.4,204.3 1124.5,196.2 1124.6,188.8 1124.7,182.3 1124.8,176.7 1124.9,172.4 1125.0,169.2 1125.1,167.4 1125.2,166.9 1125.3,167.9 1125.4,170.2 1125.5,174.0 1125.6,179.0 1125.6,185.2 1125.7,192.4 1125.8,200.4 1125.9,209.1 1126.0,218.2 1126.1,227.6 1126.2,237.0 1126.3,246.1 1126.4,254.9 1126.5,262.9 1126.6,270.2 1126.7,276.5 1126.8,281.6 1126.9,285.4 1127.0,287.9 1127.1,289.0 1127.2,288.6 1127.3,286.7 1127.4,283.4 1127.5,278.8 1127.6,272.9 1127.7,266.0 1127.8,258.0 1127.9,249.4 1128.0,240.2 1128.1,230.7 1128.2,221.1 1128.3,211.6 1128.4,202.5 1128.5,193.9 1128.6,186.1 1128.7,179.3 1128.8,173.6 1128.9,169.1 1129.0,166.0 1129.1,164.3 1129.2,164.1 1129.3,165.3 1129.4,167.8 1129.5,171.6 1129.6,176.6 1129.7,182.6 1129.8,189.5 1129.9,197.3 1130.0,205.5 1130.1,214.2 1130.2,223.0 1130.3,231.8 1130.3,240.4 1130.4,248.5 1130.5,256.0 1130.6,262.6 1130.7,268.3 1130.8,272.9 1130.9,276.3 1131.0,278.3 1131.1,279.0 1131.2,278.4 1131.3,276.6 1131.4,273.5 1131.5,269.3 1131.6,264.1 1131.7,257.9 1131.8,251.0 1131.9,243.5 1132.0,235.5 1132.1,227.3 1132.2,219.1 1132.3,211.0 1132.4,203.3 1132.5,196.0 1132.6,189.5 1132.7,183.9 1132.8,179.2 1132.9,175.6 1133.0,173.2 1133.1,172.0 1133.2,172.1 1133.3,173.3 1133.4,175.7 1133.5,179.1 1133.6,183.6 1133.7,188.9 1133.8,195.0 1133.9,201.7 1134.0,208.8 1134.1,216.3 1134.2,223.8 1134.3,231.3 1134.4,238.5 1134.5,245.3 1134.6,251.6 1134.7,257.1 1134.8,261.8 1134.9,265.5 1135.0,268.1 1135.0,269.6 1135.1,270.0 1135.2,269.4 1135.3,267.7 1135.4,265.2 1135.5,261.8 1135.6,257.5 1135.7,252.7 1135.8,247.2 1135.9,241.3 1136.0,235.1 1136.1,228.7 1136.2,222.4 1136.3,216.2 1136.4,210.3 1136.5,204.8 1136.6,199.9 1136.7,195.6 1136.8,192.2 1136.9,189.6 1137.0,187.9 1137.1,187.2 1137.2,187.5 1137.3,188.6 1137.4,190.6 1137.5,193.4 1137.6,196.9 1137.7,201.1 1137.8,205.8 1137.9,211.0 1138.0,216.5 1138.1,222.2 1138.2,228.0 1138.3,233.7 1138.4,239.1 1138.5,244.2 1138.6,248.9 1138.7,253.0 1138.8,256.4 1138.9,259.1 1139.0,260.9 1139.1,261.9 1139.2,262.0 1139.3,261.3 1139.4,259.9 1139.5,257.7 1139.6,254.8 1139.7,251.4 1139.8,247.4 1139.8,243.0 1139.9,238.3 1140.0,233.3 1140.1,228.3 1140.2,223.3 1140.3,218.4 1140.4,213.8 1140.5,209.5 1140.6,205.7 1140.7,202.5 1140.8,199.9 1140.9,198.0 1141.0,196.8 1141.1,196.4 1141.2,196.8 1141.3,198.0 1141.4,200.0 1141.5,202.7 1141.6,206.1 1141.7,210.1 1141.8,214.6 1141.9,219.4 1142.0,224.5 1142.1,229.8 1142.2,235.1 1142.3,240.3 1142.4,245.3 1142.5,249.9 1142.6,254.1 1142.7,257.8 1142.8,260.8 1142.9,263.1 1143.0,264.6 1143.1,265.3 1143.2,265.3 1143.3,264.2 1143.4,262.3 1143.5,259.6 1143.6,256.0 1143.7,251.8 1143.8,246.9 1143.9,241.6 1144.0,235.9 1144.1,230.0 1144.2,224.0 1144.3,218.0 1144.4,212.2 1144.5,206.8 1144.5,201.9 1144.6,197.5 1144.7,193.8 1144.8,190.8 1144.9,188.7 1145.0,187.5 1145.1,187.3 1145.2,188.0 1145.3,189.7 1145.4,192.5 1145.5,196.1 1145.6,200.6 1145.7,205.9 1145.8,211.7 1145.9,218.0 1146.0,224.6 1146.1,231.4 1146.2,238.1 1146.3,244.7 1146.4,251.0 1146.5,256.9 1146.6,262.1 1146.7,266.6 1146.8,270.3 1146.9,273.0 1147.0,274.8 1147.1,275.5 1147.2,275.1 1147.3,273.6 1147.4,270.8 1147.5,267.0 1147.6,262.1 1147.7,256.4 1147.8,249.9 1147.9,242.8 1148.0,235.2 1148.1,227.4 1148.2,219.5 1148.3,211.7 1148.4,204.2 1148.5,197.2 1148.6,190.9 1148.7,185.3 1148.8,180.6 1148.9,177.0 1149.0,174.5 1149.1,173.2 1149.2,173.1 1149.3,174.3 1149.3,176.8 1149.4,180.6 1149.5,185.6 1149.6,191.7 1149.7,198.6 1149.8,206.3 1149.9,214.6 1150.0,223.3 1150.1,232.1 1150.2,240.9 1150.3,249.4 1150.4,257.4 1150.5,264.9 1150.6,271.5 1150.7,277.1 1150.8,281.6 1150.9,284.9 1151.0,286.9 1151.1,287.6 1151.2,286.9 1151.3,284.7 1151.4,281.0 1151.5,276.1 1151.6,270.0 1151.7,262.8 1151.8,254.7 1151.9,245.9 1152.0,236.6 1152.1,227.0 1152.2,217.4 1152.3,208.0 1152.4,199.0 1152.5,190.6 1152.6,183.1 1152.7,176.5 1152.8,171.1 1152.9,166.9 1153.0,164.2 1153.1,162.8 1153.2,163.0 1153.3,164.7 1153.4,167.9 1153.5,172.6 1153.6,178.5 1153.7,185.6 1153.8,193.7 1153.9,202.7 1154.0,212.2 1154.0,222.1 1154.1,232.1 1154.2,242.1 1154.3,251.7 1154.4,260.7 1154.5,269.0 1154.6,276.3 1154.7,282.5 1154.8,287.4 1154.9,290.8 1155.0,292.8 1155.1,293.2 1155.2,292.1 1155.3,289.5 1155.4,285.3 1155.5,279.8 1155.6,273.0 1155.7,265.1 1155.8,256.3 1155.9,246.9 1156.0,236.9 1156.1,226.7 1156.2,216.5 1156.3,206.6 1156.4,197.1 1156.5,188.3 1156.6,180.5 1156.7,173.7 1156.8,168.2 1156.9,164.1 1157.0,161.5 1157.1,160.4 1157.2,160.9 1157.3,162.9 1157.4,166.4 1157.5,171.3 1157.6,177.5 1157.7,184.8 1157.8,193.1 1157.9,202.2 1158.0,211.8 1158.1,221.7 1158.2,231.8 1158.3,241.6 1158.4,251.1 1158.5,260.0 1158.6,268.1 1158.7,275.2 1158.7,281.1 1158.8,285.7 1158.9,288.8 1159.0,290.5 1159.1,290.6 1159.2,289.3 1159.3,286.5 1159.4,282.3 1159.5,276.9 1159.6,270.3 1159.7,262.7 1159.8,254.3 1159.9,245.3 1160.0,235.9 1160.1,226.4 1160.2,216.8 1160.3,207.6 1160.4,198.8 1160.5,190.8 1160.6,183.6 1160.7,177.5 1160.8,172.6 1160.9,169.1 1161.0,166.9 1161.1,166.2 1161.2,166.9 1161.3,169.0 1161.4,172.3 1161.5,176.9 1161.6,182.6 1161.7,189.2 1161.8,196.7 1161.9,204.8 1162.0,213.4 1162.1,222.2 1162.2,231.0 1162.3,239.7 1162.4,248.0 1162.5,255.7 1162.6,262.7 1162.7,268.7 1162.8,273.7 1162.9,277.5 1163.0,280.0 1163.1,281.2 1163.2,281.1 1163.3,279.6 1163.4,277.0 1163.5,273.2 1163.5,268.3 1163.6,262.5 1163.7,255.9 1163.8,248.5 1163.9,240.8 1164.0,232.7 1164.1,224.5 1164.2,216.3 1164.3,208.5 1164.4,201.1 1164.5,194.3 1164.6,188.4 1164.7,183.4 1164.8,179.4 1164.9,176.6 1165.0,175.0 1165.1,174.7 1165.2,175.5 1165.3,177.5 1165.4,180.7 1165.5,184.9 1165.6,190.0 1165.7,195.9 1165.8,202.6 1165.9,209.7 1166.0,217.2 1166.1,224.9 1166.2,232.6 1166.3,240.0 1166.4,247.2 1166.5,253.7 1166.6,259.6 1166.7,264.7 1166.8,268.8 1166.9,271.9 1167.0,273.9 1167.1,274.7 1167.2,274.3 1167.3,272.9 1167.4,270.5 1167.5,267.1 1167.6,262.8 1167.7,257.7 1167.8,252.0 1167.9,245.8 1168.0,239.1 1168.1,232.3 1168.2,225.4 1168.2,218.6 1168.3,212.0 1168.4,205.9 1168.5,200.4 1168.6,195.5 1168.7,191.5 1168.8,188.3 1168.9,186.2 1169.0,185.0 1169.1,185.0 1169.2,185.9 1169.3,187.8 1169.4,190.6 1169.5,194.3 1169.6,198.7 1169.7,203.8 1169.8,209.5 1169.9,215.6 1170.0,221.9 1170.1,228.3 1170.2,234.8 1170.3,241.0 1170.4,246.9 1170.5,252.3 1170.6,257.1 1170.7,261.2 1170.8,264.5 1170.9,266.9 1171.0,268.3 1171.1,268.8 1171.2,268.2 1171.3,266.8 1171.4,264.4 1171.5,261.2 1171.6,257.1 1171.7,252.4 1171.8,247.1 1171.9,241.4 1172.0,235.4 1172.1,229.1 1172.2,222.9 1172.3,216.8 1172.4,210.9 1172.5,205.5 1172.6,200.6 1172.7,196.3 1172.8,192.8 1172.9,190.2 1172.9,188.4 1173.0,187.6 1173.1,187.7 1173.2,189.0 1173.3,191.3 1173.4,194.6 1173.5,198.9 1173.6,203.9 1173.7,209.7 1173.8,216.1 1173.9,222.9 1174.0,229.9 1174.1,237.0 1174.2,244.1 1174.3,250.9 1174.4,257.3 1174.5,263.2 1174.6,268.3 1174.7,272.7 1174.8,276.1 1174.9,278.5 1175.0,279.9 1175.1,280.2 1175.2,279.2 1175.3,277.0 1175.4,273.5 1175.5,268.9 1175.6,263.3 1175.7,256.7 1175.8,249.5 1175.9,241.6 1176.0,233.4 1176.1,225.0 1176.2,216.6 1176.3,208.4 1176.4,200.6 1176.5,193.4 1176.6,186.9 1176.7,181.4 1176.8,176.9 1176.9,173.5 1177.0,171.4 1177.1,170.6 1177.2,171.1 1177.3,173.1 1177.4,176.5 1177.5,181.3 1177.6,187.3 1177.7,194.3 1177.7,202.3 1177.8,211.1 1177.9,220.4 1178.0,229.9 1178.1,239.6 1178.2,249.1 1178.3,258.2 1178.4,266.8 1178.5,274.5 1178.6,281.3 1178.7,286.9 1178.8,291.3 1178.9,294.3 1179.0,295.8 1179.1,295.9 1179.2,294.2 1179.3,290.8 1179.4,285.7 1179.5,279.0 1179.6,271.0 1179.7,261.9 1179.8,251.7 1179.9,240.8 1180.0,229.5 1180.1,217.9 1180.2,206.4 1180.3,195.2 1180.4,184.7 1180.5,175.0 1180.6,166.4 1180.7,159.1 1180.8,153.2 1180.9,149.0 1181.0,146.4 1181.1,145.6 1181.2,146.8 1181.3,149.9 1181.4,155.0 1181.5,161.8 1181.6,170.3 1181.7,180.3 1181.8,191.5 1181.9,203.6 1182.0,216.4 1182.1,229.5 1182.2,242.7 1182.3,255.6 1182.4,267.9 1182.4,279.4 1182.5,289.7 1182.6,298.6 1182.7,306.0 1182.8,311.6 1182.9,315.3 1183.0,317.0 1183.1,316.6 1183.2,314.0 1183.3,309.3 1183.4,302.5 1183.5,293.8 1183.6,283.5 1183.7,271.7 1183.8,258.7 1183.9,245.0 1184.0,230.6 1184.1,216.1 1184.2,201.8 1184.3,187.9 1184.4,174.9 1184.5,163.0 1184.6,152.6 1184.7,143.7 1184.8,136.8 1184.9,131.9 1185.0,129.2 1185.1,128.6 1185.2,130.5 1185.3,134.7 1185.4,141.1 1185.5,149.7 1185.6,160.1 1185.7,172.3 1185.8,185.8 1185.9,200.3 1186.0,215.6 1186.1,231.1 1186.2,246.7 1186.3,261.9 1186.4,276.3 1186.5,289.7 1186.6,301.6 1186.7,311.8 1186.8,320.1 1186.9,326.3 1187.0,330.2 1187.1,331.7 1187.2,330.8 1187.2,327.4 1187.3,321.6 1187.4,313.6 1187.5,303.5 1187.6,291.6 1187.7,278.1 1187.8,263.5 1187.9,247.9 1188.0,231.9 1188.1,215.7 1188.2,199.7 1188.3,184.4 1188.4,170.1 1188.5,157.2 1188.6,145.8 1188.7,136.4 1188.8,129.1 1188.9,124.2 1189.0,121.6 1189.1,121.5 1189.2,123.9 1189.3,128.8 1189.4,136.0 1189.5,145.3 1189.6,156.5 1189.7,169.4 1189.8,183.7 1189.9,198.9 1190.0,214.9 1190.1,231.1 1190.2,247.2 1190.3,262.8 1190.4,277.6 1190.5,291.2 1190.6,303.2 1190.7,313.4 1190.8,321.6 1190.9,327.5 1191.0,331.0 1191.1,332.1 1191.2,330.7 1191.3,327.0 1191.4,320.9 1191.5,312.7 1191.6,302.5 1191.7,290.7 1191.8,277.3 1191.9,262.9 1191.9,247.7 1192.0,232.1 1192.1,216.4 1192.2,201.1 1192.3,186.4 1192.4,172.8 1192.5,160.5 1192.6,149.9 1192.7,141.2 1192.8,134.6 1192.9,130.2 1193.0,128.3 1193.1,128.6 1193.2,131.3 1193.3,136.1 1193.4,143.0 1193.5,151.8 1193.6,162.3 1193.7,174.2 1193.8,187.3 1193.9,201.2 1194.0,215.7 1194.1,230.3 1194.2,244.8 1194.3,258.8 1194.4,271.9 1194.5,283.9 1194.6,294.5 1194.7,303.3 1194.8,310.3 1194.9,315.2 1195.0,318.0 1195.1,318.5 1195.2,316.9 1195.3,313.3 1195.4,307.9 1195.5,300.7 1195.6,291.8 1195.7,281.6 1195.8,270.3 1195.9,258.0 1196.0,245.2 1196.1,232.1 1196.2,219.0 1196.3,206.2 1196.4,194.1 1196.5,182.9 1196.6,172.9 1196.6,164.4 1196.7,157.4 1196.8,152.3 1196.9,149.0 1197.0,147.8 1197.1,148.4 1197.2,150.8 1197.3,154.8 1197.4,160.4 1197.5,167.4 1197.6,175.6 1197.7,184.9 1197.8,195.0 1197.9,205.8 1198.0,216.9 1198.1,228.0 1198.2,239.0 1198.3,249.6 1198.4,259.4 1198.5,268.4 1198.6,276.2 1198.7,282.6 1198.8,287.6 1198.9,291.1 1199.0,292.8 1199.1,292.8 1199.2,291.4 1199.3,288.6 1199.4,284.5 1199.5,279.2 1199.6,272.7 1199.7,265.3 1199.8,257.1 1199.9,248.4 1200.0,239.2 1200.1,229.9 1200.2,220.7 1200.3,211.8 1200.4,203.3 1200.5,195.6 1200.6,188.7 1200.7,182.9 1200.8,178.2 1200.9,174.8 1201.0,172.8 1201.1,172.2 1201.2,172.9 1201.3,174.7 1201.4,177.7 1201.4,181.6 1201.5,186.5 1201.6,192.2 1201.7,198.6 1201.8,205.6 1201.9,212.9 1202.0,220.4 1202.1,227.9 1202.2,235.2 1202.3,242.2 1202.4,248.8 1202.5,254.6 1202.6,259.7 1202.7,263.9 1202.8,267.0 1202.9,269.1 1203.0,270.0 1203.1,269.9 1203.2,268.8 1203.3,266.8 1203.4,264.0 1203.5,260.4 1203.6,256.1 1203.7,251.3 1203.8,245.9 1203.9,240.2 1204.0,234.4 1204.1,228.4 1204.2,222.5 1204.3,216.8 1204.4,211.5 1204.5,206.6 1204.6,202.3 1204.7,198.7 1204.8,195.9 1204.9,193.9 1205.0,192.8 1205.1,192.6 1205.2,193.3 1205.3,194.7 1205.4,196.9 1205.5,199.7 1205.6,203.2 1205.7,207.2 1205.8,211.7 1205.9,216.6 1206.0,221.6 1206.1,226.8 1206.1,231.9 1206.2,237.0 1206.3,241.7 1206.4,246.2 1206.5,250.1 1206.6,253.5 1206.7,256.2 1206.8,258.2 1206.9,259.5 1207.0,259.9 1207.1,259.6 1207.2,258.5 1207.3,256.6 1207.4,253.9 1207.5,250.6 1207.6,246.6 1207.7,242.2 1207.8,237.4 1207.9,232.2 1208.0,227.0 1208.1,221.6 1208.2,216.4 1208.3,211.4 1208.4,206.7 1208.5,202.4 1208.6,198.7 1208.7,195.7 1208.8,193.3 1208.9,191.7 1209.0,190.9 1209.1,190.9 1209.2,191.8 1209.3,193.6 1209.4,196.3 1209.5,199.7 1209.6,203.9 1209.7,208.6 1209.8,213.9 1209.9,219.5 1210.0,225.4 1210.1,231.3 1210.2,237.2 1210.3,242.9 1210.4,248.4 1210.5,253.3 1210.6,257.7 1210.7,261.4 1210.8,264.4 1210.8,266.6 1210.9,267.8 1211.0,268.2 1211.1,267.6 1211.2,266.0 1211.3,263.4 1211.4,260.0 1211.5,255.8 1211.6,250.8 1211.7,245.3 1211.8,239.3 1211.9,233.0 1212.0,226.5 1212.1,220.1 1212.2,213.7 1212.3,207.7 1212.4,202.0 1212.5,197.0 1212.6,192.6 1212.7,189.0 1212.8,186.3 1212.9,184.5 1213.0,183.8 1213.1,184.0 1213.2,185.2 1213.3,187.5 1213.4,190.7 1213.5,194.7 1213.6,199.6 1213.7,205.1 1213.8,211.1 1213.9,217.5 1214.0,224.2 1214.1,230.9 1214.2,237.6 1214.3,244.0 1214.4,250.0 1214.5,255.5 1214.6,260.3 1214.7,264.4 1214.8,267.5 1214.9,269.8 1215.0,271.0 1215.1,271.2 1215.2,270.4 1215.3,268.6 1215.4,265.8 1215.5,262.2 1215.6,257.8 1215.6,252.7 1215.7,247.0 1215.8,240.9 1215.9,234.5 1216.0,228.0 1216.1,221.5 1216.2,215.1 1216.3,209.1 1216.4,203.6 1216.5,198.6 1216.6,194.4 1216.7,190.9 1216.8,188.4 1216.9,186.8 1217.0,186.2 1217.1,186.6 1217.2,187.8 1217.3,189.9 1217.4,192.7 1217.5,196.3 1217.6,200.5 1217.7,205.3 1217.8,210.5 1217.9,216.1 1218.0,221.8 1218.1,227.6 1218.2,233.4 1218.3,238.9 1218.4,244.2 1218.5,249.0 1218.6,253.3 1218.7,256.9 1218.8,259.8 1218.9,261.9 1219.0,263.2 1219.1,263.7 1219.2,263.3 1219.3,262.2 1219.4,260.5 1219.5,258.1 1219.6,255.1 1219.7,251.6 1219.8,247.6 1219.9,243.3 1220.0,238.7 1220.1,233.9 1220.2,229.0 1220.3,224.1 1220.3,219.4 1220.4,215.0 1220.5,210.8 1220.6,207.1 1220.7,203.9 1220.8,201.2 1220.9,199.2 1221.0,197.8 1221.1,197.2 1221.2,197.2 1221.3,197.8 1221.4,198.9 1221.5,200.5 1221.6,202.6 1221.7,205.2 1221.8,208.1 1221.9,211.4 1222.0,214.9 1222.1,218.6 1222.2,222.4 1222.3,226.3 1222.4,230.1 1222.5,233.7 1222.6,237.2 1222.7,240.4 1222.8,243.3 1222.9,245.8 1223.0,247.8 1223.1,249.4 1223.2,250.4 1223.3,250.9 1223.4,250.9 1223.5,250.4 1223.6,249.6 1223.7,248.3 1223.8,246.7 1223.9,244.8 1224.0,242.6 1224.1,240.1 1224.2,237.4 1224.3,234.6 1224.4,231.7 1224.5,228.7 1224.6,225.8 1224.7,222.9 1224.8,220.2 1224.9,217.6 1225.0,215.3 1225.1,213.3 1225.1,211.6 1225.2,210.2 1225.3,209.2 1225.4,208.6 1225.5,208.5 1225.6,208.6 1225.7,209.2 1225.8,210.0 1225.9,211.1 1226.0,212.6 1226.1,214.2 1226.2,216.2 1226.3,218.2 1226.4,220.5 1226.5,222.8 1226.6,225.3 1226.7,227.7 1226.8,230.1 1226.9,232.4 1227.0,234.7 1227.1,236.8 1227.2,238.6 1227.3,240.3 1227.4,241.7 1227.5,242.8 1227.6,243.6 1227.7,244.1 1227.8,244.3 1227.9,244.1 1228.0,243.6 1228.1,242.8 1228.2,241.7 1228.3,240.3 1228.4,238.6 1228.5,236.7 1228.6,234.6 1228.7,232.4 1228.8,230.0 1228.9,227.6 1229.0,225.1 1229.1,222.6 1229.2,220.2 1229.3,217.9 1229.4,215.8 1229.5,213.8 1229.6,212.0 1229.7,210.5 1229.8,209.3 1229.8,208.3 1229.9,207.7 1230.0,207.4 1230.1,207.4 1230.2,207.9 1230.3,208.7 1230.4,209.9 1230.5,211.5 1230.6,213.4 1230.7,215.5 1230.8,218.0 1230.9,220.6 1231.0,223.4 1231.1,226.3 1231.2,229.3 1231.3,232.2 1231.4,235.2 1231.5,238.0 1231.6,240.7 1231.7,243.1 1231.8,245.4 1231.9,247.3 1232.0,248.9 1232.1,250.2 1232.2,251.1 1232.3,251.6 1232.4,251.7 1232.5,251.4 1232.6,250.6 1232.7,249.4 1232.8,247.8 1232.9,245.7 1233.0,243.4 1233.1,240.7 1233.2,237.7 1233.3,234.5 1233.4,231.2 1233.5,227.8 1233.6,224.4 1233.7,220.9 1233.8,217.6 1233.9,214.5 1234.0,211.5 1234.1,208.8 1234.2,206.4 1234.3,204.4 1234.4,202.8 1234.5,201.5 1234.5,200.8 1234.6,200.4 1234.7,200.6 1234.8,201.2 1234.9,202.3 1235.0,203.8 1235.1,205.8 1235.2,208.1 1235.3,210.7 1235.4,213.7 1235.5,216.8 1235.6,220.2 1235.7,223.7 1235.8,227.2 1235.9,230.8 1236.0,234.2 1236.1,237.5 1236.2,240.7 1236.3,243.6 1236.4,246.1 1236.5,248.4 1236.6,250.2 1236.7,251.7 1236.8,252.6 1236.9,253.1 1237.0,253.2 1237.1,252.8 1237.2,251.9 1237.3,250.6 1237.4,248.9 1237.5,246.8 1237.6,244.4 1237.7,241.7 1237.8,238.7 1237.9,235.6 1238.0,232.3 1238.1,228.9 1238.2,225.5 1238.3,222.2 1238.4,219.0 1238.5,215.9 1238.6,213.0 1238.7,210.4 1238.8,208.1 1238.9,206.2 1239.0,204.7 1239.1,203.6 1239.2,202.9 1239.3,202.7 1239.3,202.9 1239.4,203.5 1239.5,204.5 1239.6,205.9 1239.7,207.7 1239.8,209.7 1239.9,212.1 1240.0,214.7 1240.1,217.5 1240.2,220.4 1240.3,223.4 1240.4,226.5 1240.5,229.5 1240.6,232.5 1240.7,235.3 1240.8,238.0 1240.9,240.4 1241.0,242.6 1241.1,244.5 1241.2,246.0 1241.3,247.1 1241.4,247.9 1241.5,248.3 1241.6,248.2 1241.7,247.8 1241.8,247.1 1241.9,246.0 1242.0,244.6 1242.1,242.9 1242.2,240.9 1242.3,238.7 1242.4,236.3 1242.5,233.8 1242.6,231.2 1242.7,228.5 1242.8,225.8 1242.9,223.2 1243.0,220.7 1243.1,218.3 1243.2,216.0 1243.3,214.0 1243.4,212.3 1243.5,210.8 1243.6,209.7 1243.7,208.9 1243.8,208.4 1243.9,208.3 1244.0,208.6 1244.0,209.2 1244.1,210.1 1244.2,211.3 1244.3,212.8 1244.4,214.6 1244.5,216.6 1244.6,218.8 1244.7,221.2 1244.8,223.7 1244.9,226.2 1245.0,228.8 1245.1,231.3 1245.2,233.8 1245.3,236.2 1245.4,238.4 1245.5,240.4 1245.6,242.2 1245.7,243.7 1245.8,244.9 1245.9,245.8 1246.0,246.4 1246.1,246.6 1246.2,246.5 1246.3,245.9 1246.4,245.0 1246.5,243.7 1246.6,242.1 1246.7,240.1 1246.8,237.9 1246.9,235.4 1247.0,232.7 1247.1,229.9 1247.2,227.0 1247.3,224.0 1247.4,221.0 1247.5,218.1 1247.6,215.3 1247.7,212.7 1247.8,210.2 1247.9,208.1 1248.0,206.2 1248.1,204.6 1248.2,203.4 1248.3,202.6 1248.4,202.2 1248.5,202.2 1248.6,202.7 1248.7,203.6 1248.7,205.1 1248.8,206.9 1248.9,209.2 1249.0,211.9 1249.1,214.9 1249.2,218.2 1249.3,221.7 1249.4,225.3 1249.5,229.1 1249.6,232.8 1249.7,236.5 1249.8,240.1 1249.9,243.5 1250.0,246.7 1250.1,249.5 1250.2,252.0 1250.3,254.1 1250.4,255.8 1250.5,257.0 1250.6,257.8 1250.7,258.0 1250.8,257.7 1250.9,256.8 1251.0,255.3 1251.1,253.2 1251.2,250.7 1251.3,247.7 1251.4,244.2 1251.5,240.4 1251.6,236.4 1251.7,232.1 1251.8,227.7 1251.9,223.2 1252.0,218.8 1252.1,214.4 1252.2,210.3 1252.3,206.4 1252.4,202.8 1252.5,199.7 1252.6,197.0 1252.7,194.8 1252.8,193.1 1252.9,192.0 1253.0,191.5 1253.1,191.6 1253.2,192.3 1253.3,193.6 1253.4,195.6 1253.5,198.1 1253.5,201.2 1253.6,204.7 1253.7,208.6 1253.8,212.9 1253.9,217.4 1254.0,222.1 1254.1,226.8 1254.2,231.6 1254.3,236.3 1254.4,240.8 1254.5,245.1 1254.6,249.1 1254.7,252.7 1254.8,255.8 1254.9,258.4 1255.0,260.4 1255.1,261.8 1255.2,262.6 1255.3,262.8 1255.4,262.3 1255.5,261.3 1255.6,259.6 1255.7,257.4 1255.8,254.7 1255.9,251.5 1256.0,247.9 1256.1,243.9 1256.2,239.7 1256.3,235.2 1256.4,230.7 1256.5,226.1 1256.6,221.5 1256.7,217.1 1256.8,212.9 1256.9,209.0 1257.0,205.4 1257.1,202.3 1257.2,199.6 1257.3,197.4 1257.4,195.8 1257.5,194.8 1257.6,194.4 1257.7,194.6 1257.8,195.3 1257.9,196.5 1258.0,198.2 1258.1,200.4 1258.2,202.9 1258.2,205.9 1258.3,209.2 1258.4,212.7 1258.5,216.4 1258.6,220.3 1258.7,224.2 1258.8,228.1 1258.9,232.0 1259.0,235.6 1259.1,239.1 1259.2,242.3 1259.3,245.1 1259.4,247.6 1259.5,249.6 1259.6,251.2 1259.7,252.2 1259.8,252.8 1259.9,252.8 1260.0,252.4 1260.1,251.6 1260.2,250.4 1260.3,248.8 1260.4,246.8 1260.5,244.6 1260.6,242.1 1260.7,239.3 1260.8,236.3 1260.9,233.3 1261.0,230.1 1261.1,227.0 1261.2,223.9 1261.3,220.9 1261.4,218.0 1261.5,215.4 1261.6,212.9 1261.7,210.8 1261.8,209.1 1261.9,207.7 1262.0,206.6 1262.1,206.0 1262.2,205.8 1262.3,206.0 1262.4,206.4 1262.5,207.1 1262.6,208.0 1262.7,209.2 1262.8,210.6 1262.9,212.2 1263.0,213.9 1263.0,215.8 1263.1,217.7 1263.2,219.7 1263.3,221.8 1263.4,223.8 1263.5,225.8 1263.6,227.7 1263.7,229.4 1263.8,231.1 1263.9,232.5 1264.0,233.7 1264.1,234.7 1264.2,235.5 1264.3,236.0 1264.4,236.2 1264.5,236.2 1264.6,236.0 1264.7,235.6 1264.8,235.0 1264.9,234.2 1265.0,233.3 1265.1,232.3 1265.2,231.1 1265.3,229.8 1265.4,228.5 1265.5,227.1 1265.6,225.6 1265.7,224.2 1265.8,222.8 1265.9,221.4 1266.0,220.2 1266.1,219.0 1266.2,217.9 1266.3,217.0 1266.4,216.2 1266.5,215.6 1266.6,215.2 1266.7,214.9 1266.8,214.9 1266.9,215.1 1267.0,215.6 1267.1,216.4 1267.2,217.4 1267.3,218.6 1267.4,220.1 1267.5,221.8 1267.6,223.6 1267.7,225.5 1267.7,227.5 1267.8,229.6 1267.9,231.7 1268.0,233.8 1268.1,235.8 1268.2,237.8 1268.3,239.5 1268.4,241.2 1268.5,242.6 1268.6,243.8 1268.7,244.8 1268.8,245.6 1268.9,246.0 1269.0,246.2 1269.1,246.0 1269.2,245.5 1269.3,244.5 1269.4,243.1 1269.5,241.3 1269.6,239.2 1269.7,236.8 1269.8,234.2 1269.9,231.3 1270.0,228.3 1270.1,225.2 1270.2,222.0 1270.3,218.9 1270.4,215.8 1270.5,212.8 1270.6,210.0 1270.7,207.4 1270.8,205.1 1270.9,203.2 1271.0,201.5 1271.1,200.3 1271.2,199.4 1271.3,199.0 1271.4,199.0 1271.5,199.5 1271.6,200.7 1271.7,202.3 1271.8,204.5 1271.9,207.1 1272.0,210.2 1272.1,213.6 1272.2,217.4 1272.3,221.4 1272.4,225.5 1272.4,229.8 1272.5,234.1 1272.6,238.3 1272.7,242.3 1272.8,246.2 1272.9,249.8 1273.0,253.0 1273.1,255.9 1273.2,258.3 1273.3,260.2 1273.4,261.5 1273.5,262.3 1273.6,262.6 1273.7,262.2 1273.8,261.3 1273.9,259.7 1274.0,257.6 1274.1,255.0 1274.2,251.9 1274.3,248.4 1274.4,244.5 1274.5,240.3 1274.6,235.9 1274.7,231.4 1274.8,226.8 1274.9,222.3 1275.0,217.9 1275.1,213.7 1275.2,209.7 1275.3,206.1 1275.4,202.9 1275.5,200.1 1275.6,197.9 1275.7,196.2 1275.8,195.1 1275.9,194.6 1276.0,194.7 1276.1,195.4 1276.2,196.8 1276.3,198.7 1276.4,201.2 1276.5,204.2 1276.6,207.7 1276.7,211.5 1276.8,215.7 1276.9,220.1 1277.0,224.7 1277.1,229.3 1277.2,234.0 1277.2,238.6 1277.3,243.0 1277.4,247.2 1277.5,251.0 1277.6,254.5 1277.7,257.5 1277.8,260.0 1277.9,262.0 1278.0,263.4 1278.1,264.1 1278.2,264.3 1278.3,263.8 1278.4,262.7 1278.5,261.1 1278.6,258.9 1278.7,256.1 1278.8,253.0 1278.9,249.4 1279.0,245.5 1279.1,241.3 1279.2,236.9 1279.3,232.4 1279.4,227.9 1279.5,223.4 1279.6,219.1 1279.7,214.9 1279.8,211.1 1279.9,207.5 1280.0,204.5 1280.1,201.8 1280.2,199.7 1280.3,198.2 1280.4,197.2 1280.5,196.8 1280.6,197.0 1280.7,197.8 1280.8,199.1 1280.9,200.9 1281.0,203.2 1281.1,205.9 1281.2,209.0 1281.3,212.4 1281.4,216.1 1281.5,220.0 1281.6,224.0 1281.7,228.1 1281.8,232.2 1281.9,236.2 1281.9,240.0 1282.0,243.6 1282.1,247.0 1282.2,249.9 1282.3,252.5 1282.4,254.6 1282.5,256.2 1282.6,257.3 1282.7,257.8 1282.8,257.8 1282.9,257.4 1283.0,256.7 1283.1,255.5 1283.2,253.9 1283.3,252.1 1283.4,249.9 1283.5,247.4 1283.6,244.8 1283.7,242.0 1283.8,239.0 1283.9,236.0 1284.0,233.0 1284.1,230.0 1284.2,227.2 1284.3,224.4 1284.4,221.9 1284.5,219.6 1284.6,217.6 1284.7,215.9 1284.8,214.6 1284.9,213.6 1285.0,213.1 1285.1,212.9 1285.2,213.0 1285.3,213.3 1285.4,213.8 1285.5,214.5 1285.6,215.4 1285.7,216.4 1285.8,217.5 1285.9,218.7 1286.0,220.1 1286.1,221.5 1286.2,222.9 1286.3,224.4 1286.4,225.9 1286.5,227.3 1286.6,228.6 1286.6,229.9 1286.7,231.1 1286.8,232.1 1286.9,233.0 1287.0,233.7 1287.1,234.2 1287.2,234.6 1287.3,234.7 1287.4,234.7 1287.5,234.5 1287.6,234.0 1287.7,233.4 1287.8,232.6 1287.9,231.6 1288.0,230.5 1288.1,229.2 1288.2,227.9 1288.3,226.5 1288.4,225.0 1288.5,223.5 1288.6,222.0 1288.7,220.5 1288.8,219.0 1288.9,217.7 1289.0,216.4 1289.1,215.3 1289.2,214.3 1289.3,213.5 1289.4,212.9 1289.5,212.5 1289.6,212.2 1289.7,212.2 1289.8,212.5 1289.9,213.1 1290.0,214.1 1290.1,215.4 1290.2,216.9 1290.3,218.8 1290.4,220.9 1290.5,223.1 1290.6,225.6 1290.7,228.1 1290.8,230.7 1290.9,233.3 1291.0,235.9 1291.1,238.5 1291.2,240.9 1291.3,243.1 1291.4,245.1 1291.4,246.9 1291.5,248.4 1291.6,249.7 1291.7,250.6 1291.8,251.1 1291.9,251.3 1292.0,251.1 1292.1,250.4 1292.2,249.3 1292.3,247.6 1292.4,245.6 1292.5,243.1 1292.6,240.4 1292.7,237.3 1292.8,234.0 1292.9,230.4 1293.0,226.8 1293.1,223.1 1293.2,219.5 1293.3,215.9 1293.4,212.5 1293.5,209.2 1293.6,206.3 1293.7,203.6 1293.8,201.3 1293.9,199.5 1294.0,198.0 1294.1,197.1 1294.2,196.6 1294.3,196.6 1294.4,197.2 1294.5,198.4 1294.6,200.2 1294.7,202.5 1294.8,205.4 1294.9,208.6 1295.0,212.3 1295.1,216.3 1295.2,220.5 1295.3,225.0 1295.4,229.5 1295.5,234.0 1295.6,238.5 1295.7,242.8 1295.8,246.9 1295.9,250.7 1296.0,254.1 1296.1,257.1 1296.1,259.7 1296.2,261.7 1296.3,263.1 1296.4,263.9 1296.5,264.2 1296.6,263.7 1296.7,262.6 1296.8,260.8 1296.9,258.4 1297.0,255.4 1297.1,251.9 1297.2,247.8 1297.3,243.4 1297.4,238.7 1297.5,233.7 1297.6,228.6 1297.7,223.4 1297.8,218.2 1297.9,213.2 1298.0,208.4 1298.1,204.0 1298.2,199.9 1298.3,196.2 1298.4,193.1 1298.5,190.6 1298.6,188.7 1298.7,187.5 1298.8,186.9 1298.9,187.1 1299.0,187.9 1299.1,189.4 1299.2,191.5 1299.3,194.2 1299.4,197.4 1299.5,201.2 1299.6,205.3 1299.7,209.8 1299.8,214.5 1299.9,219.5 1300.0,224.5 1300.1,229.5 1300.2,234.4 1300.3,239.2 1300.4,243.7 1300.5,247.8 1300.6,251.5 1300.7,254.7 1300.8,257.4 1300.9,259.5 1300.9,260.9 1301.0,261.7 1301.1,261.8 1301.2,261.4 1301.3,260.3 1301.4,258.7 1301.5,256.5 1301.6,253.9 1301.7,250.8 1301.8,247.4 1301.9,243.6 1302.0,239.5 1302.1,235.3 1302.2,231.0 1302.3,226.6 1302.4,222.3 1302.5,218.1 1302.6,214.1 1302.7,210.4 1302.8,207.0 1302.9,204.1 1303.0,201.5 1303.1,199.5 1303.2,198.0 1303.3,197.1 1303.4,196.8 1303.5,197.0 1303.6,197.6 1303.7,198.6 1303.8,200.1 1303.9,201.9 1304.0,204.1 1304.1,206.6 1304.2,209.3 1304.3,212.3 1304.4,215.4 1304.5,218.6 1304.6,221.9 1304.7,225.1 1304.8,228.3 1304.9,231.3 1305.0,234.2 1305.1,236.8 1305.2,239.2 1305.3,241.2 1305.4,242.9 1305.5,244.1 1305.6,245.0 1305.6,245.4 1305.7,245.4 1305.8,245.2 1305.9,244.7 1306.0,244.0 1306.1,243.0 1306.2,241.9 1306.3,240.5 1306.4,239.0 1306.5,237.4 1306.6,235.7 1306.7,233.9 1306.8,232.1 1306.9,230.3 1307.0,228.5 1307.1,226.7 1307.2,225.1 1307.3,223.5 1307.4,222.2 1307.5,220.9 1307.6,219.9 1307.7,219.1 1307.8,218.6 1307.9,218.2 1308.0,218.1 1308.1,218.3 1308.2,218.6 1308.3,219.1 1308.4,219.7 1308.5,220.6 1308.6,221.6 1308.7,222.7 1308.8,223.9 1308.9,225.3 1309.0,226.7 1309.1,228.1 1309.2,229.5 1309.3,231.0 1309.4,232.4 1309.5,233.7 1309.6,234.9 1309.7,236.1 1309.8,237.1 1309.9,237.9 1310.0,238.6 1310.1,239.2 1310.2,239.5 1310.3,239.7 1310.3,239.6 1310.4,239.2 1310.5,238.5 1310.6,237.5 1310.7,236.3 1310.8,234.8 1310.9,233.1 1311.0,231.1 1311.1,229.1 1311.2,226.9 1311.3,224.6 1311.4,222.3 1311.5,220.0 1311.6,217.7 1311.7,215.5 1311.8,213.4 1311.9,211.5 1312.0,209.8 1312.1,208.3 1312.2,207.1 1312.3,206.2 1312.4,205.5 1312.5,205.1 1312.6,205.1 1312.7,205.5 1312.8,206.3 1312.9,207.6 1313.0,209.3 1313.1,211.4 1313.2,213.8 1313.3,216.5 1313.4,219.5 1313.5,222.7 1313.6,226.1 1313.7,229.5 1313.8,232.9 1313.9,236.3 1314.0,239.6 1314.1,242.8 1314.2,245.7 1314.3,248.3 1314.4,250.7 1314.5,252.6 1314.6,254.2 1314.7,255.4 1314.8,256.1 1314.9,256.4 1315.0,256.1 1315.1,255.2 1315.1,253.8 1315.2,251.9 1315.3,249.4 1315.4,246.5 1315.5,243.2 1315.6,239.5 1315.7,235.5 1315.8,231.3 1315.9,227.0 1316.0,222.7 1316.1,218.3 1316.2,214.0 1316.3,210.0 1316.4,206.1 1316.5,202.6 1316.6,199.5 1316.7,196.8 1316.8,194.6 1316.9,192.9 1317.0,191.7 1317.1,191.2 1317.2,191.2 1317.3,192.0 1317.4,193.4 1317.5,195.4 1317.6,198.1 1317.7,201.3 1317.8,205.0 1317.9,209.2 1318.0,213.8 1318.1,218.6 1318.2,223.6 1318.3,228.8 1318.4,233.9 1318.5,239.0 1318.6,243.9 1318.7,248.5 1318.8,252.8 1318.9,256.7 1319.0,260.1 1319.1,262.9 1319.2,265.1 1319.3,266.7 1319.4,267.7 1319.5,267.9 1319.6,267.4 1319.7,266.2 1319.8,264.2 1319.8,261.6 1319.9,258.3 1320.0,254.4 1320.1,250.0 1320.2,245.2 1320.3,240.0 1320.4,234.6 1320.5,229.1 1320.6,223.4 1320.7,217.9 1320.8,212.4 1320.9,207.2 1321.0,202.4 1321.1,198.0 1321.2,194.1 1321.3,190.7 1321.4,188.0 1321.5,186.0 1321.6,184.7 1321.7,184.1 1321.8,184.3 1321.9,185.1 1322.0,186.6 1322.1,188.7 1322.2,191.4 1322.3,194.6 1322.4,198.3 1322.5,202.4 1322.6,206.9 1322.7,211.6 1322.8,216.5 1322.9,221.5 1323.0,226.4 1323.1,231.3 1323.2,236.0 1323.3,240.4 1323.4,244.5 1323.5,248.1 1323.6,251.3 1323.7,253.9 1323.8,255.9 1323.9,257.4 1324.0,258.1 1324.1,258.2 1324.2,257.8 1324.3,256.9 1324.4,255.6 1324.5,253.8 1324.6,251.6 1324.6,249.1 1324.7,246.2 1324.8,243.1 1324.9,239.7 1325.0,236.2 1325.1,232.7 1325.2,229.1 1325.3,225.5 1325.4,222.1 1325.5,218.8 1325.6,215.7 1325.7,213.0 1325.8,210.5 1325.9,208.5 1326.0,206.8 1326.1,205.6 1326.2,204.9 1326.3,204.7 1326.4,204.8 1326.5,205.3 1326.6,206.1 1326.7,207.2 1326.8,208.5 1326.9,210.2 1327.0,212.0 1327.1,214.1 1327.2,216.3 1327.3,218.6 1327.4,221.0 1327.5,223.5 1327.6,225.9 1327.7,228.3 1327.8,230.5 1327.9,232.7 1328.0,234.6 1328.1,236.4 1328.2,237.9 1328.3,239.1 1328.4,240.0 1328.5,240.7 1328.6,241.0 1328.7,241.0 1328.8,240.8 1328.9,240.4 1329.0,239.8 1329.1,239.0 1329.2,238.1 1329.3,237.1 1329.3,235.9 1329.4,234.7 1329.5,233.3 1329.6,231.9 1329.7,230.5 1329.8,229.1 1329.9,227.7 1330.0,226.3 1330.1,225.0 1330.2,223.8 1330.3,222.8 1330.4,221.8 1330.5,221.0 1330.6,220.4 1330.7,220.0 1330.8,219.7 1330.9,219.7 1331.0,219.8 1331.1,220.2 1331.2,220.7 1331.3,221.5 1331.4,222.4 1331.5,223.5 1331.6,224.8 1331.7,226.2 1331.8,227.6 1331.9,229.2 1332.0,230.7 1332.1,232.3 1332.2,233.9 1332.3,235.5 1332.4,237.0 1332.5,238.3 1332.6,239.6 1332.7,240.7 1332.8,241.6 1332.9,242.4 1333.0,243.0 1333.1,243.4 1333.2,243.5 1333.3,243.4 1333.4,242.9 1333.5,242.0 1333.6,240.7 1333.7,239.1 1333.8,237.1 1333.9,234.8 1334.0,232.4 1334.0,229.7 1334.1,226.8 1334.2,223.8 1334.3,220.8 1334.4,217.8 1334.5,214.9 1334.6,212.1 1334.7,209.4 1334.8,206.9 1334.9,204.7 1335.0,202.8 1335.1,201.2 1335.2,200.0 1335.3,199.2 1335.4,198.7 1335.5,198.7 1335.6,199.2 1335.7,200.3 1335.8,201.9 1335.9,204.1 1336.0,206.7 1336.1,209.8 1336.2,213.2 1336.3,217.0 1336.4,221.0 1336.5,225.2 1336.6,229.5 1336.7,233.8 1336.8,238.1 1336.9,242.2 1337.0,246.2 1337.1,249.8 1337.2,253.2 1337.3,256.1 1337.4,258.5 1337.5,260.5 1337.6,261.9 1337.7,262.8 1337.8,263.1 1337.9,262.8 1338.0,261.8 1338.1,260.2 1338.2,257.9 1338.3,255.1 1338.4,251.7 1338.5,247.9 1338.6,243.6 1338.7,239.1 1338.8,234.3 1338.8,229.4 1338.9,224.3 1339.0,219.4 1339.1,214.5 1339.2,209.8 1339.3,205.5 1339.4,201.4 1339.5,197.9 1339.6,194.8 1339.7,192.3 1339.8,190.4 1339.9,189.1 1340.0,188.5 1340.1,188.6 1340.2,189.3 1340.3,190.8 1340.4,193.0 1340.5,195.7 1340.6,199.1 1340.7,203.0 1340.8,207.3 1340.9,212.0 1341.0,217.0 1341.1,222.2 1341.2,227.6 1341.3,232.9 1341.4,238.1 1341.5,243.2 1341.6,248.0 1341.7,252.4 1341.8,256.4 1341.9,259.9 1342.0,262.8 1342.1,265.1 1342.2,266.7 1342.3,267.6 1342.4,267.8 1342.5,267.4 1342.6,266.4 1342.7,264.8 1342.8,262.6 1342.9,260.0 1343.0,256.8 1343.1,253.3 1343.2,249.4 1343.3,245.3 1343.4,240.9 1343.5,236.4 1343.5,231.9 1343.6,227.4 1343.7,223.0 1343.8,218.9 1343.9,215.0 1344.0,211.4 1344.1,208.3 1344.2,205.6 1344.3,203.5 1344.4,201.9 1344.5,200.9 1344.6,200.4 1344.7,200.6 1344.8,201.2 1344.9,202.4 1345.0,204.0 1345.1,206.0 1345.2,208.5 1345.3,211.3 1345.4,214.4 1345.5,217.8 1345.6,221.4 1345.7,225.1 1345.8,228.8 1345.9,232.6 1346.0,236.3 1346.1,239.8 1346.2,243.1 1346.3,246.2 1346.4,249.0 1346.5,251.4 1346.6,253.3 1346.7,254.8 1346.8,255.9 1346.9,256.4 1347.0,256.5 1347.1,256.1 1347.2,255.4 1347.3,254.2 1347.4,252.7 1347.5,250.8 1347.6,248.7 1347.7,246.3 1347.8,243.6 1347.9,240.8 1348.0,237.8 1348.1,234.8 1348.2,231.8 1348.2,228.8 1348.3,225.9 1348.4,223.1 1348.5,220.6 1348.6,218.2 1348.7,216.2 1348.8,214.5 1348.9,213.1 1349.0,212.1 1349.1,211.5 1349.2,211.3 1349.3,211.4 1349.4,211.7 1349.5,212.2 1349.6,212.9 1349.7,213.8 1349.8,214.9 1349.9,216.0 1350.0,217.4 1350.1,218.8 1350.2,220.3 1350.3,221.8 1350.4,223.3 1350.5,224.9 1350.6,226.4 1350.7,227.8 1350.8,229.2 1350.9,230.4 1351.0,231.5 1351.1,232.5 1351.2,233.2 1351.3,233.8 1351.4,234.2 1351.5,234.4 1351.6,234.4 1351.7,234.2 1351.8,233.8 1351.9,233.3 1352.0,232.6 1352.1,231.7 1352.2,230.8 1352.3,229.7 1352.4,228.5 1352.5,227.3 1352.6,226.0 1352.7,224.6 1352.8,223.3 1352.9,222.0 1353.0,220.8 1353.0,219.6 1353.1,218.5 1353.2,217.5 1353.3,216.6 1353.4,215.9 1353.5,215.3 1353.6,214.9 1353.7,214.7 1353.8,214.7 1353.9,214.9 1354.0,215.4 1354.1,216.3 1354.2,217.5 1354.3,218.9 1354.4,220.6 1354.5,222.5 1354.6,224.6 1354.7,226.9 1354.8,229.2 1354.9,231.6 1355.0,234.1 1355.1,236.5 1355.2,238.8 1355.3,241.1 1355.4,243.2 1355.5,245.1 1355.6,246.7 1355.7,248.2 1355.8,249.3 1355.9,250.2 1356.0,250.7 1356.1,251.0 1356.2,250.8 1356.3,250.2 1356.4,249.1 1356.5,247.5 1356.6,245.5 1356.7,243.1 1356.8,240.4 1356.9,237.4 1357.0,234.2 1357.1,230.7 1357.2,227.1 1357.3,223.5 1357.4,219.9 1357.5,216.4 1357.6,213.0 1357.7,209.8 1357.7,206.8 1357.8,204.2 1357.9,201.9 1358.0,200.0 1358.1,198.6 1358.2,197.6 1358.3,197.0 1358.4,197.0 1358.5,197.5 1358.6,198.6 1358.7,200.3 1358.8,202.4 1358.9,205.1 1359.0,208.2 1359.1,211.6 1359.2,215.4 1359.3,219.4 1359.4,223.6 1359.5,227.8 1359.6,232.2 1359.7,236.4 1359.8,240.5 1359.9,244.4 1360.0,248.1 1360.1,251.4 1360.2,254.2 1360.3,256.7 1360.4,258.6 1360.5,260.0 1360.6,260.9 1360.7,261.1 1360.8,260.8 1360.9,259.8 1361.0,258.2 1361.1,255.9 1361.2,253.1 1361.3,249.8 1361.4,246.1 1361.5,241.9 1361.6,237.5 1361.7,232.8 1361.8,227.9 1361.9,223.0 1362.0,218.1 1362.1,213.4 1362.2,208.8 1362.3,204.6 1362.4,200.7 1362.5,197.2 1362.5,194.2 1362.6,191.8 1362.7,189.9 1362.8,188.7 1362.9,188.1 1363.0,188.2 1363.1,189.0 1363.2,190.4 1363.3,192.5 1363.4,195.2 1363.5,198.4 1363.6,202.1 1363.7,206.3 1363.8,210.8 1363.9,215.6 1364.0,220.5 1364.1,225.6 1364.2,230.7 1364.3,235.7 1364.4,240.5 1364.5,245.1 1364.6,249.3 1364.7,253.1 1364.8,256.4 1364.9,259.1 1365.0,261.3 1365.1,262.8 1365.2,263.7 1365.3,263.9 1365.4,263.4 1365.5,262.3 1365.6,260.6 1365.7,258.3 1365.8,255.5 1365.9,252.2 1366.0,248.4 1366.1,244.3 1366.2,239.9 1366.3,235.4 1366.4,230.6 1366.5,225.9 1366.6,221.2 1366.7,216.6 1366.8,212.2 1366.9,208.1 1367.0,204.4 1367.1,201.2 1367.2,198.4 1367.2,196.1 1367.3,194.5 1367.4,193.4 1367.5,193.0 1367.6,193.1 1367.7,193.8 1367.8,195.0 1367.9,196.7 1368.0,198.8 1368.1,201.3 1368.2,204.2 1368.3,207.4 1368.4,210.9 1368.5,214.5 1368.6,218.3 1368.7,222.1 1368.8,225.9 1368.9,229.7 1369.0,233.3 1369.1,236.7 1369.2,239.8 1369.3,242.6 1369.4,245.0 1369.5,247.0 1369.6,248.5 1369.7,249.6 1369.8,250.1 1369.9,250.2 1370.0,249.9 1370.1,249.3 1370.2,248.4 1370.3,247.2 1370.4,245.8 1370.5,244.1 1370.6,242.2 1370.7,240.2 1370.8,238.0 1370.9,235.8 1371.0,233.5 1371.1,231.1 1371.2,228.8 1371.3,226.6 1371.4,224.5 1371.5,222.5 1371.6,220.7 1371.7,219.2 1371.8,217.9 1371.9,216.8 1371.9,216.1 1372.0,215.6 1372.1,215.5 1372.2,215.6 1372.3,215.9 1372.4,216.4 1372.5,217.0 1372.6,217.8 1372.7,218.8 1372.8,219.9 1372.9,221.1 1373.0,222.4 1373.1,223.8 1373.2,225.2 1373.3,226.6 1373.4,228.0 1373.5,229.4 1373.6,230.7 1373.7,231.9 1373.8,233.1 1373.9,234.1 1374.0,235.0 1374.1,235.7 1374.2,236.2 1374.3,236.5 1374.4,236.7 1374.5,236.7 1374.6,236.4 1374.7,235.9 1374.8,235.1 1374.9,234.1 1375.0,233.0 1375.1,231.6 1375.2,230.1 1375.3,228.5 1375.4,226.8 1375.5,225.0 1375.6,223.2 1375.7,221.4 1375.8,219.6 1375.9,217.8 1376.0,216.2 1376.1,214.7 1376.2,213.3 1376.3,212.1 1376.4,211.1 1376.5,210.4 1376.6,209.8 1376.7,209.5 1376.7,209.5 1376.8,209.8 1376.9,210.4 1377.0,211.5 1377.1,212.9 1377.2,214.6 1377.3,216.7 1377.4,219.0 1377.5,221.5 1377.6,224.2 1377.7,227.0 1377.8,229.9 1377.9,232.8 1378.0,235.7 1378.1,238.5 1378.2,241.2 1378.3,243.7 1378.4,246.0 1378.5,248.0 1378.6,249.7 1378.7,251.0 1378.8,252.1 1378.9,252.7 1379.0,253.0 1379.1,252.8 1379.2,252.0 1379.3,250.7 1379.4,248.9 1379.5,246.6 1379.6,243.8 1379.7,240.6 1379.8,237.1 1379.9,233.4 1380.0,229.4 1380.1,225.3 1380.2,221.1 1380.3,216.9 1380.4,212.8 1380.5,208.9 1380.6,205.2 1380.7,201.8 1380.8,198.7 1380.9,196.1 1381.0,194.0 1381.1,192.3 1381.2,191.2 1381.3,190.6 1381.4,190.6 1381.4,191.2 1381.5,192.6 1381.6,194.6 1381.7,197.2 1381.8,200.4 1381.9,204.1 1382.0,208.3 1382.1,212.8 1382.2,217.7 1382.3,222.7 1382.4,227.9 1382.5,233.0 1382.6,238.1 1382.7,243.1 1382.8,247.8 1382.9,252.1 1383.0,256.1 1383.1,259.5 1383.2,262.4 1383.3,264.8 1383.4,266.4 1383.5,267.4 1383.6,267.7 1383.7,267.3 1383.8,266.2 1383.9,264.5 1384.0,262.1 1384.1,259.0 1384.2,255.5 1384.3,251.4 1384.4,247.0 1384.5,242.2 1384.6,237.2 1384.7,232.0 1384.8,226.7 1384.9,221.5 1385.0,216.4 1385.1,211.6 1385.2,207.0 1385.3,202.9 1385.4,199.2 1385.5,196.0 1385.6,193.4 1385.7,191.5 1385.8,190.2 1385.9,189.6 1386.0,189.7 1386.1,190.4 1386.1,191.8 1386.2,193.7 1386.3,196.2 1386.4,199.1 1386.5,202.6 1386.6,206.4 1386.7,210.5 1386.8,214.9 1386.9,219.5 1387.0,224.1 1387.1,228.7 1387.2,233.3 1387.3,237.7 1387.4,241.9 1387.5,245.7 1387.6,249.2 1387.7,252.2 1387.8,254.7 1387.9,256.6 1388.0,258.0 1388.1,258.8 1388.2,258.9 1388.3,258.5 1388.4,257.6 1388.5,256.2 1388.6,254.3 1388.7,251.9 1388.8,249.2 1388.9,246.1 1389.0,242.8 1389.1,239.2 1389.2,235.4 1389.3,231.5 1389.4,227.6 1389.5,223.8 1389.6,220.0 1389.7,216.4 1389.8,213.1 1389.9,210.1 1390.0,207.4 1390.1,205.1 1390.2,203.3 1390.3,202.0 1390.4,201.1 1390.5,200.8 1390.6,200.9 1390.7,201.4 1390.8,202.2 1390.9,203.4 1390.9,204.8 1391.0,206.6 1391.1,208.5 1391.2,210.7 1391.3,213.1 1391.4,215.6 1391.5,218.2 1391.6,220.8 1391.7,223.4 1391.8,226.0 1391.9,228.4 1392.0,230.8 1392.1,232.9 1392.2,234.8 1392.3,236.4 1392.4,237.8 1392.5,238.8 1392.6,239.5 1392.7,239.9 1392.8,239.9 1392.9,239.7 1393.0,239.3 1393.1,238.8 1393.2,238.1 1393.3,237.2 1393.4,236.2 1393.5,235.0 1393.6,233.8 1393.7,232.5 1393.8,231.1 1393.9,229.7 1394.0,228.3 1394.1,226.9 1394.2,225.6 1394.3,224.3 1394.4,223.1 1394.5,222.1 1394.6,221.1 1394.7,220.3 1394.8,219.7 1394.9,219.3 1395.0,219.0 1395.1,218.9 1395.2,219.0 1395.3,219.3 1395.4,219.8 1395.5,220.5 1395.6,221.4 1395.6,222.4 1395.7,223.6 1395.8,224.9 1395.9,226.2 1396.0,227.7 1396.1,229.2 1396.2,230.7 1396.3,232.2 1396.4,233.6 1396.5,235.0 1396.6,236.3 1396.7,237.5 1396.8,238.5 1396.9,239.4 1397.0,240.2 1397.1,240.7 1397.2,241.1 1397.3,241.3 1397.4,241.2 1397.5,240.8 1397.6,240.2 1397.7,239.2 1397.8,237.9 1397.9,236.5 1398.0,234.7 1398.1,232.8 1398.2,230.7 1398.3,228.5 1398.4,226.3 1398.5,223.9 1398.6,221.6 1398.7,219.3 1398.8,217.1 1398.9,215.1 1399.0,213.1 1399.1,211.4 1399.2,209.9 1399.3,208.7 1399.4,207.7 1399.5,207.0 1399.6,206.6 1399.7,206.6 1399.8,206.9 1399.9,207.8 1400.0,209.1 1400.1,210.8 1400.2,213.0 1400.3,215.5 1400.4,218.3 1400.4,221.4 1400.5,224.7 1400.6,228.1 1400.7,231.6 1400.8,235.2 1400.9,238.7 1401.0,242.2 1401.1,245.4 1401.2,248.5 1401.3,251.2 1401.4,253.7 1401.5,255.7 1401.6,257.4 1401.7,258.6 1401.8,259.4 1401.9,259.7 1402.0,259.4 1402.1,258.6 1402.2,257.2 1402.3,255.2 1402.4,252.7 1402.5,249.7 1402.6,246.3 1402.7,242.5 1402.8,238.4 1402.9,234.1 1403.0,229.7 1403.1,225.2 1403.2,220.7 1403.3,216.3 1403.4,212.1 1403.5,208.1 1403.6,204.5 1403.7,201.2 1403.8,198.4 1403.9,196.1 1404.0,194.4 1404.1,193.2 1404.2,192.6 1404.3,192.6 1404.4,193.3 1404.5,194.6 1404.6,196.6 1404.7,199.2 1404.8,202.4 1404.9,206.1 1405.0,210.2 1405.1,214.7 1405.1,219.4 1405.2,224.4 1405.3,229.5 1405.4,234.6 1405.5,239.6 1405.6,244.5 1405.7,249.1 1405.8,253.4 1405.9,257.2 1406.0,260.6 1406.1,263.5 1406.2,265.7 1406.3,267.3 1406.4,268.3 1406.5,268.5 1406.6,268.2 1406.7,267.1 1406.8,265.5 1406.9,263.2 1407.0,260.5 1407.1,257.2 1407.2,253.4 1407.3,249.3 1407.4,244.9 1407.5,240.3 1407.6,235.6 1407.7,230.8 1407.8,226.0 1407.9,221.3 1408.0,216.9 1408.1,212.7 1408.2,208.9 1408.3,205.5 1408.4,202.6 1408.5,200.3 1408.6,198.5 1408.7,197.4 1408.8,196.9 1408.9,197.0 1409.0,197.6 1409.1,198.7 1409.2,200.4 1409.3,202.4 1409.4,204.9 1409.5,207.8 1409.6,211.0 1409.7,214.5 1409.8,218.2 1409.8,222.0 1409.9,225.8 1410.0,229.7 1410.1,233.5 1410.2,237.2 1410.3,240.7 1410.4,243.9 1410.5,246.7 1410.6,249.2 1410.7,251.3 1410.8,252.9 1410.9,254.0 1411.0,254.7 1411.1,254.8 1411.2,254.4 1411.3,253.6 1411.4,252.4 1411.5,250.8 1411.6,248.8 1411.7,246.5 1411.8,243.9 1411.9,241.0 1412.0,238.0 1412.1,234.8 1412.2,231.5 1412.3,228.2 1412.4,224.9 1412.5,221.8 1412.6,218.8 1412.7,215.9 1412.8,213.4 1412.9,211.1 1413.0,209.2 1413.1,207.7 1413.2,206.6 1413.3,205.9 1413.4,205.6 1413.5,205.8 1413.6,206.2 1413.7,206.9 1413.8,207.9 1413.9,209.1 1414.0,210.6 1414.1,212.2 1414.2,214.1 1414.3,216.1 1414.4,218.2 1414.5,220.4 1414.6,222.6 1414.6,224.8 1414.7,226.9 1414.8,229.0 1414.9,230.9 1415.0,232.7 1415.1,234.3 1415.2,235.7 1415.3,236.8 1415.4,237.7 1415.5,238.2 1415.6,238.5 1415.7,238.5 1415.8,238.4 1415.9,238.0 1416.0,237.5 1416.1,236.8 1416.2,236.0 1416.3,235.1 1416.4,234.1 1416.5,232.9 1416.6,231.7 1416.7,230.4 1416.8,229.1 1416.9,227.9 1417.0,226.6 1417.1,225.3 1417.2,224.2 1417.3,223.1 1417.4,222.1 1417.5,221.3 1417.6,220.5 1417.7,220.0 1417.8,219.6 1417.9,219.3 1418.0,219.3 1418.1,219.4 1418.2,219.8 1418.3,220.4 1418.4,221.2 1418.5,222.3 1418.6,223.5 1418.7,224.9 1418.8,226.4 1418.9,228.0 1419.0,229.7 1419.1,231.5 1419.2,233.3 1419.3,235.0 1419.3,236.8 1419.4,238.4 1419.5,240.0 1419.6,241.4 1419.7,242.6 1419.8,243.7 1419.9,244.5 1420.0,245.2 1420.1,245.6 1420.2,245.8 1420.3,245.7 1420.4,245.2 1420.5,244.2 1420.6,242.8 1420.7,241.1 1420.8,239.0 1420.9,236.6 1421.0,233.9 1421.1,231.0 1421.2,228.0 1421.3,224.8 1421.4,221.6 1421.5,218.3 1421.6,215.2 1421.7,212.1 1421.8,209.2 1421.9,206.6 1422.0,204.2 1422.1,202.1 1422.2,200.4 1422.3,199.1 1422.4,198.1 1422.5,197.6 1422.6,197.6 1422.7,198.0 1422.8,199.1 1422.9,200.7 1423.0,202.8 1423.1,205.3 1423.2,208.3 1423.3,211.7 1423.4,215.4 1423.5,219.4 1423.6,223.5 1423.7,227.8 1423.8,232.1 1423.9,236.3 1424.0,240.4 1424.0,244.3 1424.1,247.9 1424.2,251.2 1424.3,254.1 1424.4,256.6 1424.5,258.5 1424.6,260.0 1424.7,260.9 1424.8,261.2 1424.9,260.9 1425.0,259.9 1425.1,258.2 1425.2,255.9 1425.3,253.0 1425.4,249.5 1425.5,245.5 1425.6,241.1 1425.7,236.4 1425.8,231.4 1425.9,226.3 1426.0,221.1 1426.1,215.9 1426.2,210.8 1426.3,205.9 1426.4,201.3 1426.5,197.1 1426.6,193.4 1426.7,190.1 1426.8,187.5 1426.9,185.5 1427.0,184.1 1427.1,183.4 1427.2,183.5 1427.3,184.2 1427.4,185.6 1427.5,187.7 1427.6,190.4 1427.7,193.7 1427.8,197.5 1427.9,201.7 1428.0,206.3 1428.1,211.3 1428.2,216.4 1428.3,221.6 1428.4,226.8 1428.5,232.0 1428.6,237.0 1428.7,241.7 1428.8,246.1 1428.8,250.0 1428.9,253.5 1429.0,256.4 1429.1,258.7 1429.2,260.3 1429.3,261.3 1429.4,261.5 1429.5,261.1 1429.6,260.1 1429.7,258.5 1429.8,256.4 1429.9,253.7 1430.0,250.6 1430.1,247.0 1430.2,243.1 1430.3,238.9 1430.4,234.5 1430.5,229.9 1430.6,225.4 1430.7,220.8 1430.8,216.4 1430.9,212.2 1431.0,208.2 1431.1,204.6 1431.2,201.4 1431.3,198.7 1431.4,196.5 1431.5,194.8 1431.6,193.7 1431.7,193.3 1431.8,193.4 1431.9,194.0 1432.0,195.2 1432.1,196.8 1432.2,198.8 1432.3,201.3 1432.4,204.1 1432.5,207.2 1432.6,210.6 1432.7,214.2 1432.8,217.9 1432.9,221.7 1433.0,225.5 1433.1,229.2 1433.2,232.8 1433.3,236.2 1433.4,239.3 1433.5,242.1 1433.5,244.5 1433.6,246.5 1433.7,248.1 1433.8,249.2 1433.9,249.8 1434.0,249.8 1434.1,249.6 1434.2,248.9 1434.3,247.9 1434.4,246.6 1434.5,245.1 1434.6,243.2 1434.7,241.2 1434.8,238.9 1434.9,236.5 1435.0,233.9 1435.1,231.3 1435.2,228.7 1435.3,226.2 1435.4,223.7 1435.5,221.3 1435.6,219.1 1435.7,217.1 1435.8,215.3 1435.9,213.8 1436.0,212.6 1436.1,211.7 1436.2,211.2 1436.3,211.0 1436.4,211.1 1436.5,211.4 1436.6,211.9 1436.7,212.6 1436.8,213.5 1436.9,214.6 1437.0,215.8 1437.1,217.2 1437.2,218.6 1437.3,220.2 1437.4,221.8 1437.5,223.4 1437.6,225.0 1437.7,226.5 1437.8,228.0 1437.9,229.4 1438.0,230.7 1438.1,231.9 1438.2,232.8 1438.3,233.7 1438.3,234.3 1438.4,234.7 1438.5,234.9 1438.6,234.9 1438.7,234.7 1438.8,234.3 1438.9,233.7 1439.0,232.9 1439.1,232.0 1439.2,230.9 1439.3,229.7 1439.4,228.4 1439.5,227.0 1439.6,225.5 1439.7,224.1 1439.8,222.6 1439.9,221.1 1440.0,219.7 1440.1,218.4 1440.2,217.1 1440.3,216.0 1440.4,215.1 1440.5,214.2 1440.6,213.6 1440.7,213.1 1440.8,212.9 1440.9,212.8 1441.0,213.0 1441.1,213.6 1441.2,214.4 1441.3,215.5 1441.4,216.9 1441.5,218.6 1441.6,220.5 1441.7,222.6 1441.8,224.8 1441.9,227.1 1442.0,229.5 1442.1,231.9 1442.2,234.3 1442.3,236.6 1442.4,238.8 1442.5,240.9 1442.6,242.8 1442.7,244.5 1442.8,245.9 1442.9,247.1 1443.0,248.0 1443.0,248.5 1443.1,248.8 1443.2,248.6 1443.3,247.9 1443.4,246.8 1443.5,245.1 1443.6,242.9 1443.7,240.3 1443.8,237.4 1443.9,234.1 1444.0,230.5 1444.1,226.8 1444.2,222.9 1444.3,218.9 1444.4,214.9 1444.5,211.0 1444.6,207.3 1444.7,203.8 1444.8,200.5 1444.9,197.6 1445.0,195.1 1445.1,193.0 1445.2,191.4 1445.3,190.3 1445.4,189.7 1445.5,189.6 1445.6,190.2 1445.7,191.5 1445.8,193.5 1445.9,196.1 1446.0,199.2 1446.1,202.9 1446.2,207.1 1446.3,211.7 1446.4,216.5 1446.5,221.6 1446.6,226.8 1446.7,232.0 1446.8,237.2 1446.9,242.2 1447.0,247.0 1447.1,251.4 1447.2,255.4 1447.3,259.0 1447.4,261.9 1447.5,264.3 1447.6,266.1 1447.7,267.1 1447.7,267.5 1447.8,267.2 1447.9,266.1 1448.0,264.3 1448.1,261.8 1448.2,258.8 1448.3,255.1 1448.4,250.9 1448.5,246.3 1448.6,241.3 1448.7,236.1 1448.8,230.7 1448.9,225.3 1449.0,219.8 1449.1,214.5 1449.2,209.4 1449.3,204.6 1449.4,200.2 1449.5,196.3 1449.6,193.0 1449.7,190.2 1449.8,188.1 1449.9,186.7 1450.0,186.1 1450.1,186.1 1450.2,186.9 1450.3,188.4 1450.4,190.5 1450.5,193.3 1450.6,196.7 1450.7,200.6 1450.8,205.0 1450.9,209.7 1451.0,214.8 1451.1,220.0 1451.2,225.4 1451.3,230.7 1451.4,236.0 1451.5,241.1 1451.6,245.9 1451.7,250.4 1451.8,254.4 1451.9,258.0 1452.0,260.9 1452.1,263.2 1452.2,264.9 1452.3,265.8 1452.4,266.0 1452.5,265.6 1452.5,264.6 1452.6,263.0 1452.7,260.8 1452.8,258.1 1452.9,255.0 1453.0,251.4 1453.1,247.4 1453.2,243.2 1453.3,238.8 1453.4,234.3 1453.5,229.7 1453.6,225.1 1453.7,220.7 1453.8,216.5 1453.9,212.5 1454.0,208.9 1454.1,205.8 1454.2,203.0 1454.3,200.8 1454.4,199.2 1454.5,198.2 1454.6,197.7 1454.7,197.8 1454.8,198.4 1454.9,199.4 1455.0,200.7 1455.1,202.5 1455.2,204.5 1455.3,206.9 1455.4,209.6 1455.5,212.4 1455.6,215.5 1455.7,218.6 1455.8,221.8 1455.9,225.0 1456.0,228.1 1456.1,231.1 1456.2,233.9 1456.3,236.5 1456.4,238.9 1456.5,240.9 1456.6,242.6 1456.7,243.9 1456.8,244.8 1456.9,245.2 1457.0,245.3 1457.1,245.1 1457.2,244.6 1457.2,243.9 1457.3,243.0 1457.4,241.9 1457.5,240.7 1457.6,239.2 1457.7,237.6 1457.8,236.0 1457.9,234.2 1458.0,232.4 1458.1,230.6 1458.2,228.8 1458.3,227.1 1458.4,225.5 1458.5,223.9 1458.6,222.5 1458.7,221.3 1458.8,220.3 1458.9,219.5 1459.0,218.9 1459.1,218.5 1459.2,218.4 1459.3,218.5 1459.4,218.7 1459.5,219.1 1459.6,219.7 1459.7,220.4 1459.8,221.3 1459.9,222.2 1460.0,223.3 1460.1,224.4 1460.2,225.6 1460.3,226.9 1460.4,228.1 1460.5,229.4 1460.6,230.6 1460.7,231.8 1460.8,232.9 1460.9,233.9 1461.0,234.8 1461.1,235.6 1461.2,236.2 1461.3,236.7 1461.4,237.0 1461.5,237.1 1461.6,237.1 1461.7,236.8 1461.8,236.2 1461.9,235.3 1462.0,234.1 1462.0,232.7 1462.1,231.1 1462.2,229.3 1462.3,227.4 1462.4,225.3 1462.5,223.1 1462.6,220.9 1462.7,218.7 1462.8,216.6 1462.9,214.5 1463.0,212.5 1463.1,210.6 1463.2,209.0 1463.3,207.5 1463.4,206.3 1463.5,205.4 1463.6,204.7 1463.7,204.3 1463.8,204.3 1463.9,204.6 1464.0,205.3 1464.1,206.5 1464.2,208.1 1464.3,210.0 1464.4,212.3 1464.5,214.9 1464.6,217.8 1464.7,220.8 1464.8,224.0 1464.9,227.3 1465.0,230.6 1465.1,233.9 1465.2,237.1 1465.3,240.2 1465.4,243.0 1465.5,245.6 1465.6,247.9 1465.7,249.8 1465.8,251.4 1465.9,252.6 1466.0,253.4 1466.1,253.7 1466.2,253.5 1466.3,252.8 1466.4,251.5 1466.5,249.8 1466.6,247.5 1466.7,244.9 1466.7,241.8 1466.8,238.4 1466.9,234.7 1467.0,230.8 1467.1,226.8 1467.2,222.7 1467.3,218.6 1467.4,214.6 1467.5,210.7 1467.6,207.1 1467.7,203.8 1467.8,200.8 1467.9,198.2 1468.0,196.0 1468.1,194.4 1468.2,193.3 1468.3,192.7 1468.4,192.6 1468.5,193.2 1468.6,194.4 1468.7,196.3 1468.8,198.7 1468.9,201.7 1469.0,205.2 1469.1,209.1 1469.2,213.3 1469.3,217.9 1469.4,222.6 1469.5,227.5 1469.6,232.3 1469.7,237.1 1469.8,241.8 1469.9,246.2 1470.0,250.3 1470.1,254.1 1470.2,257.4 1470.3,260.1 1470.4,262.3 1470.5,263.9 1470.6,264.9 1470.7,265.2 1470.8,264.9 1470.9,263.8 1471.0,262.1 1471.1,259.8 1471.2,256.9 1471.3,253.5 1471.4,249.5 1471.4,245.2 1471.5,240.6 1471.6,235.7 1471.7,230.6 1471.8,225.5 1471.9,220.4 1472.0,215.5 1472.1,210.7 1472.2,206.3 1472.3,202.2 1472.4,198.5 1472.5,195.4 1472.6,192.9 1472.7,190.9 1472.8,189.7 1472.9,189.1 1473.0,189.1 1473.1,189.8 1473.2,191.2 1473.3,193.2 1473.4,195.7 1473.5,198.7 1473.6,202.3 1473.7,206.2 1473.8,210.5 1473.9,215.0 1474.0,219.7 1474.1,224.5 1474.2,229.3 1474.3,234.0 1474.4,238.6 1474.5,242.9 1474.6,246.9 1474.7,250.5 1474.8,253.6 1474.9,256.3 1475.0,258.3 1475.1,259.8 1475.2,260.6 1475.3,260.8 1475.4,260.4 1475.5,259.6 1475.6,258.3 1475.7,256.5 1475.8,254.3 1475.9,251.8 1476.0,248.9 1476.1,245.7 1476.2,242.4 1476.2,238.8 1476.3,235.2 1476.4,231.5 1476.5,227.9 1476.6,224.3 1476.7,221.0 1476.8,217.8 1476.9,214.9 1477.0,212.4 1477.1,210.2 1477.2,208.5 1477.3,207.2 1477.4,206.4 1477.5,206.1 1477.6,206.1 1477.7,206.5 1477.8,207.2 1477.9,208.1 1478.0,209.3 1478.1,210.8 1478.2,212.4 1478.3,214.2 1478.4,216.2 1478.5,218.3 1478.6,220.4 1478.7,222.6 1478.8,224.8 1478.9,226.9 1479.0,229.0 1479.1,230.9 1479.2,232.7 1479.3,234.3 1479.4,235.7 1479.5,236.8 1479.6,237.7 1479.7,238.3 1479.8,238.6 1479.9,238.6 1480.0,238.5 1480.1,238.1 1480.2,237.6 1480.3,237.0 1480.4,236.2 1480.5,235.2 1480.6,234.2 1480.7,233.1 1480.8,231.9 1480.9,230.6 1480.9,229.3 1481.0,228.0 1481.1,226.7 1481.2,225.5 1481.3,224.3 1481.4,223.2 1481.5,222.2 1481.6,221.3 1481.7,220.6 1481.8,220.0 1481.9,219.6 1482.0,219.4 1482.1,219.3 1482.2,219.4 1482.3,219.7 1482.4,220.3 1482.5,221.1 1482.6,222.1 1482.7,223.3 1482.8,224.6 1482.9,226.0 1483.0,227.6 1483.1,229.3 1483.2,231.0 1483.3,232.7 1483.4,234.4 1483.5,236.1 1483.6,237.7 1483.7,239.2 1483.8,240.5 1483.9,241.7 1484.0,242.8 1484.1,243.6 1484.2,244.3 1484.3,244.7 1484.4,244.9 1484.5,244.9 1484.6,244.4 1484.7,243.5 1484.8,242.3 1484.9,240.7 1485.0,238.7 1485.1,236.5 1485.2,234.0 1485.3,231.3 1485.4,228.4 1485.5,225.4 1485.6,222.4 1485.6,219.3 1485.7,216.3 1485.8,213.4 1485.9,210.7 1486.0,208.2 1486.1,205.9 1486.2,203.9 1486.3,202.3 1486.4,201.0 1486.5,200.0 1486.6,199.5 1486.7,199.4 1486.8,199.8 1486.9,200.8 1487.0,202.3 1487.1,204.3 1487.2,206.8 1487.3,209.7 1487.4,213.0 1487.5,216.6 1487.6,220.5 1487.7,224.5 1487.8,228.7 1487.9,232.9 1488.0,237.0 1488.1,241.0 1488.2,244.9 1488.3,248.5 1488.4,251.7 1488.5,254.6 1488.6,257.1 1488.7,259.0 1488.8,260.5 1488.9,261.4 1489.0,261.8 1489.1,261.6 1489.2,260.7 1489.3,259.2 1489.4,257.1 1489.5,254.5 1489.6,251.3 1489.7,247.6 1489.8,243.6 1489.9,239.3 1490.0,234.7 1490.1,229.9 1490.2,225.1 1490.3,220.3 1490.4,215.6 1490.4,211.1 1490.5,206.8 1490.6,202.9 1490.7,199.4 1490.8,196.3 1490.9,193.8 1491.0,191.9 1491.1,190.6 1491.2,189.9 1491.3,189.9 1491.4,190.5 1491.5,191.9 1491.6,193.9 1491.7,196.5 1491.8,199.7 1491.9,203.4 1492.0,207.5 1492.1,212.0 1492.2,216.8 1492.3,221.9 1492.4,227.0 1492.5,232.2 1492.6,237.2 1492.7,242.2 1492.8,246.9 1492.9,251.2 1493.0,255.1 1493.1,258.6 1493.2,261.5 1493.3,263.8 1493.4,265.5 1493.5,266.5 1493.6,266.8 1493.7,266.4 1493.8,265.4 1493.9,263.7 1494.0,261.5 1494.1,258.6 1494.2,255.3 1494.3,251.4 1494.4,247.2 1494.5,242.7 1494.6,238.0 1494.7,233.1 1494.8,228.1 1494.9,223.2 1495.0,218.4 1495.1,213.8 1495.1,209.5 1495.2,205.6 1495.3,202.1 1495.4,199.1 1495.5,196.6 1495.6,194.8 1495.7,193.6 1495.8,193.0 1495.9,193.1 1496.0,193.7 1496.1,195.0 1496.2,196.7 1496.3,199.0 1496.4,201.7 1496.5,204.8 1496.6,208.3 1496.7,212.1 1496.8,216.1 1496.9,220.3 1497.0,224.6 1497.1,228.8 1497.2,233.0 1497.3,237.1 1497.4,240.9 1497.5,244.4 1497.6,247.6 1497.7,250.3 1497.8,252.6 1497.9,254.4 1498.0,255.7 1498.1,256.4 1498.2,256.6 1498.3,256.3 1498.4,255.5 1498.5,254.4 1498.6,252.9 1498.7,251.1 1498.8,248.9 1498.9,246.5 1499.0,243.8 1499.1,241.0 1499.2,238.0 1499.3,234.9 1499.4,231.9 1499.5,228.8 1499.6,225.8 1499.7,223.0 1499.8,220.4 1499.9,218.0 1499.9,215.8 1500.0,214.0 1500.1,212.6 1500.2,211.5 1500.3,210.8 1500.4,210.6 1500.5,210.7 1500.6,211.0 1500.7,211.5 1500.8,212.2 1500.9,213.2 1501.0,214.3 1501.1,215.6 1501.2,217.0 1501.3,218.5 1501.4,220.1 1501.5,221.8 1501.6,223.5 1501.7,225.2 1501.8,226.8 1501.9,228.4 1502.0,229.9 1502.1,231.3 1502.2,232.5 1502.3,233.6 1502.4,234.5 1502.5,235.2 1502.6,235.6 1502.7,235.8 1502.8,235.9 1502.9,235.7 1503.0,235.3 1503.1,234.8 1503.2,234.1 1503.3,233.3 1503.4,232.3 1503.5,231.2 1503.6,230.0 1503.7,228.7 1503.8,227.4 1503.9,226.0 1504.0,224.6 1504.1,223.3 1504.2,222.0 1504.3,220.8 1504.4,219.6 1504.5,218.6 1504.6,217.7 1504.6,216.9 1504.7,216.3 1504.8,215.8 1504.9,215.6 1505.0,215.5 1505.1,215.7 1505.2,216.2 1505.3,217.0 1505.4,218.0 1505.5,219.4 1505.6,220.9 1505.7,222.7 1505.8,224.7 1505.9,226.8 1506.0,229.1 1506.1,231.4 1506.2,233.7 1506.3,236.0 1506.4,238.2 1506.5,240.4 1506.6,242.4 1506.7,244.3 1506.8,245.9 1506.9,247.3 1507.0,248.4 1507.1,249.3 1507.2,249.9 1507.3,250.1 1507.4,250.0 1507.5,249.5 1507.6,248.4 1507.7,246.9 1507.8,245.0 1507.9,242.6 1508.0,239.9 1508.1,236.9 1508.2,233.7 1508.3,230.2 1508.4,226.6 1508.5,223.0 1508.6,219.3 1508.7,215.8 1508.8,212.3 1508.9,209.0 1509.0,206.0 1509.1,203.3 1509.2,201.0 1509.3,199.0 1509.3,197.5 1509.4,196.4 1509.5,195.8 1509.6,195.7 1509.7,196.2 1509.8,197.4 1509.9,199.3 1510.0,201.8 1510.1,204.8 1510.2,208.4 1510.3,212.4 1510.4,216.8 1510.5,221.5 1510.6,226.5 1510.7,231.5 1510.8,236.6 1510.9,241.7 1511.0,246.6 1511.1,251.2 1511.2,255.6 1511.3,259.5 1511.4,263.0 1511.5,266.0 1511.6,268.4 1511.7,270.1" fill="none" stroke="#ff0000" stroke-width="2.00" stroke-linejoin="round"/>
<path clip-path="url(#cpd)" d="M926.2,763.3 L926.4,763.3 926.7,763.3 926.9,763.3 927.2,763.3 927.4,763.3 927.7,763.3 927.9,763.3 928.2,763.3 928.4,763.3 928.6,763.3 928.9,763.3 929.1,763.3 929.4,763.3 929.6,763.3 929.9,763.3 930.1,763.3 930.4,763.3 930.6,763.3 930.9,763.3 931.1,763.4 931.3,763.4 931.6,763.4 931.8,763.4 932.1,763.4 932.3,763.4 932.6,763.4 932.8,763.4 933.1,763.4 933.3,763.4 933.5,763.4 933.8,763.4 934.0,763.4 934.3,763.4 934.5,763.4 934.8,763.4 935.0,763.4 935.3,763.4 935.5,763.4 935.8,763.4 936.0,763.4 936.2,763.4 936.5,763.4 936.7,763.4 937.0,763.4 937.2,763.4 937.5,763.4 937.7,763.4 938.0,763.4 938.2,763.4 938.4,763.4 938.7,763.4 938.9,763.4 939.2,763.4 939.4,763.4 939.7,763.4 939.9,763.4 940.2,763.4 940.4,763.4 940.7,763.4 940.9,763.4 941.1,763.4 941.4,763.4 941.6,763.4 941.9,763.4 942.1,763.4 942.4,763.4 942.6,763.4 942.9,763.4 943.1,763.4 943.3,763.4 943.6,763.4 943.8,763.4 944.1,763.4 944.3,763.4 944.6,763.4 944.8,763.4 945.1,763.4 945.3,763.4 945.5,763.4 945.8,763.4 946.0,763.4 946.3,763.4 946.5,763.4 946.8,763.4 947.0,763.4 947.3,763.4 947.5,763.4 947.8,763.4 948.0,763.4 948.2,763.4 948.5,763.4 948.7,763.4 949.0,763.4 949.2,763.4 949.5,763.4 949.7,763.4 950.0,763.4 950.2,763.4 950.4,763.4 950.7,763.4 950.9,763.4 951.2,763.4 951.4,763.4 951.7,763.4 951.9,763.4 952.2,763.4 952.4,763.4 952.7,763.4 952.9,763.4 953.1,763.4 953.4,763.4 953.6,763.4 953.9,763.4 954.1,763.4 954.4,763.4 954.6,763.4 954.9,763.4 955.1,763.4 955.3,763.4 955.6,763.4 955.8,763.4 956.1,763.4 956.3,763.4 956.6,763.4 956.8,763.4 957.1,763.4 957.3,763.4 957.6,763.4 957.8,763.4 958.0,763.4 958.3,763.4 958.5,763.4 958.8,763.4 959.0,763.5 959.3,763.5 959.5,763.5 959.8,763.5 960.0,763.5 960.2,763.5 960.5,763.5 960.7,763.5 961.0,763.5 961.2,763.5 961.5,763.5 961.7,763.5 962.0,763.5 962.2,763.5 962.5,763.5 962.7,763.5 962.9,763.5 963.2,763.5 963.4,763.5 963.7,763.5 963.9,763.5 964.2,763.5 964.4,763.5 964.7,763.5 964.9,763.5 965.1,763.5 965.4,763.5 965.6,763.5 965.9,763.5 966.1,763.5 966.4,763.5 966.6,763.5 966.9,763.5 967.1,763.5 967.3,763.5 967.6,763.5 967.8,763.5 968.1,763.5 968.3,763.5 968.6,763.5 968.8,763.5 969.1,763.5 969.3,763.5 969.6,763.5 969.8,763.5 970.0,763.5 970.3,763.5 970.5,763.5 970.8,763.4 971.0,763.4 971.3,763.4 971.5,763.4 971.8,763.4 972.0,763.4 972.2,763.4 972.5,763.4 972.7,763.4 973.0,763.4 973.2,763.4 973.5,763.4 973.7,763.4 974.0,763.3 974.2,763.3 974.5,763.3 974.7,763.3 974.9,763.3 975.2,763.3 975.4,763.3 975.7,763.3 975.9,763.3 976.2,763.3 976.4,763.3 976.7,763.2 976.9,763.2 977.1,763.2 977.4,763.2 977.6,763.2 977.9,763.2 978.1,763.2 978.4,763.2 978.6,763.2 978.9,763.2 979.1,763.2 979.4,763.2 979.6,763.1 979.8,763.1 980.1,763.1 980.3,763.1 980.6,763.1 980.8,763.1 981.1,763.1 981.3,763.1 981.6,763.1 981.8,763.1 982.0,763.1 982.3,763.1 982.5,763.1 982.8,763.1 983.0,763.1 983.3,763.1 983.5,763.1 983.8,763.1 984.0,763.1 984.2,763.1 984.5,763.1 984.7,763.1 985.0,763.1 985.2,763.1 985.5,763.1 985.7,763.1 986.0,763.1 986.2,763.1 986.5,763.2 986.7,763.2 986.9,763.2 987.2,763.2 987.4,763.2 987.7,763.2 987.9,763.2 988.2,763.2 988.4,763.2 988.7,763.2 988.9,763.3 989.1,763.3 989.4,763.3 989.6,763.3 989.9,763.3 990.1,763.3 990.4,763.3 990.6,763.3 990.9,763.4 991.1,763.4 991.4,763.4 991.6,763.4 991.8,763.4 992.1,763.4 992.3,763.4 992.6,763.4 992.8,763.4 993.1,763.5 993.3,763.5 993.6,763.5 993.8,763.5 994.0,763.5 994.3,763.5 994.5,763.5 994.8,763.5 995.0,763.5 995.3,763.5 995.5,763.6 995.8,763.6 996.0,763.6 996.3,763.6 996.5,763.6 996.7,763.6 997.0,763.6 997.2,763.6 997.5,763.6 997.7,763.6 998.0,763.6 998.2,763.6 998.5,763.6 998.7,763.6 998.9,763.6 999.2,763.6 999.4,763.6 999.7,763.6 999.9,763.6 1000.2,763.6 1000.4,763.6 1000.7,763.6 1000.9,763.6 1001.2,763.6 1001.4,763.6 1001.6,763.5 1001.9,763.5 1002.1,763.5 1002.4,763.5 1002.6,763.5 1002.9,763.5 1003.1,763.5 1003.4,763.5 1003.6,763.5 1003.8,763.4 1004.1,763.4 1004.3,763.4 1004.6,763.4 1004.8,763.4 1005.1,763.4 1005.3,763.4 1005.6,763.3 1005.8,763.3 1006.0,763.3 1006.3,763.3 1006.5,763.3 1006.8,763.3 1007.0,763.3 1007.3,763.2 1007.5,763.2 1007.8,763.2 1008.0,763.2 1008.3,763.2 1008.5,763.2 1008.7,763.2 1009.0,763.1 1009.2,763.1 1009.5,763.1 1009.7,763.1 1010.0,763.1 1010.2,763.1 1010.5,763.1 1010.7,763.0 1010.9,763.0 1011.2,763.0 1011.4,763.0 1011.7,763.0 1011.9,763.0 1012.2,763.0 1012.4,763.0 1012.7,763.0 1012.9,762.9 1013.2,762.9 1013.4,762.9 1013.6,762.9 1013.9,762.9 1014.1,762.9 1014.4,762.9 1014.6,762.9 1014.9,762.9 1015.1,762.9 1015.4,762.9 1015.6,762.9 1015.8,762.9 1016.1,762.9 1016.3,762.9 1016.6,762.9 1016.8,762.9 1017.1,762.9 1017.3,762.9 1017.6,762.9 1017.8,762.9 1018.1,762.9 1018.3,763.0 1018.5,763.0 1018.8,763.0 1019.0,763.0 1019.3,763.0 1019.5,763.0 1019.8,763.0 1020.0,763.1 1020.3,763.1 1020.5,763.1 1020.7,763.1 1021.0,763.1 1021.2,763.2 1021.5,763.2 1021.7,763.2 1022.0,763.2 1022.2,763.2 1022.5,763.3 1022.7,763.3 1022.9,763.3 1023.2,763.3 1023.4,763.3 1023.7,763.4 1023.9,763.4 1024.2,763.4 1024.4,763.4 1024.7,763.5 1024.9,763.5 1025.2,763.5 1025.4,763.5 1025.6,763.5 1025.9,763.5 1026.1,763.6 1026.4,763.6 1026.6,763.6 1026.9,763.6 1027.1,763.6 1027.4,763.6 1027.6,763.6 1027.8,763.7 1028.1,763.7 1028.3,763.7 1028.6,763.7 1028.8,763.7 1029.1,763.7 1029.3,763.7 1029.6,763.7 1029.8,763.7 1030.1,763.7 1030.3,763.7 1030.5,763.7 1030.8,763.7 1031.0,763.7 1031.3,763.7 1031.5,763.7 1031.8,763.7 1032.0,763.7 1032.3,763.6 1032.5,763.6 1032.7,763.6 1033.0,763.6 1033.2,763.6 1033.5,763.6 1033.7,763.6 1034.0,763.5 1034.2,763.5 1034.5,763.5 1034.7,763.5 1035.0,763.5 1035.2,763.5 1035.4,763.4 1035.7,763.4 1035.9,763.4 1036.2,763.4 1036.4,763.3 1036.7,763.3 1036.9,763.3 1037.2,763.3 1037.4,763.2 1037.6,763.2 1037.9,763.2 1038.1,763.2 1038.4,763.1 1038.6,763.1 1038.9,763.1 1039.1,763.1 1039.4,763.0 1039.6,763.0 1039.9,763.0 1040.1,763.0 1040.3,763.0 1040.6,762.9 1040.8,762.9 1041.1,762.9 1041.3,762.9 1041.6,762.8 1041.8,762.8 1042.1,762.8 1042.3,762.8 1042.5,762.8 1042.8,762.7 1043.0,762.7 1043.3,762.7 1043.5,762.7 1043.8,762.7 1044.0,762.7 1044.3,762.7 1044.5,762.6 1044.7,762.6 1045.0,762.6 1045.2,762.6 1045.5,762.6 1045.7,762.6 1046.0,762.6 1046.2,762.6 1046.5,762.6 1046.7,762.6 1047.0,762.6 1047.2,762.6 1047.4,762.6 1047.7,762.6 1047.9,762.6 1048.2,762.6 1048.4,762.6 1048.7,762.7 1048.9,762.7 1049.2,762.7 1049.4,762.7 1049.6,762.7 1049.9,762.7 1050.1,762.8 1050.4,762.8 1050.6,762.8 1050.9,762.8 1051.1,762.9 1051.4,762.9 1051.6,762.9 1051.9,763.0 1052.1,763.0 1052.3,763.0 1052.6,763.0 1052.8,763.1 1053.1,763.1 1053.3,763.2 1053.6,763.2 1053.8,763.2 1054.1,763.3 1054.3,763.3 1054.5,763.3 1054.8,763.4 1055.0,763.4 1055.3,763.4 1055.5,763.5 1055.8,763.5 1056.0,763.6 1056.3,763.6 1056.5,763.6 1056.8,763.7 1057.0,763.7 1057.2,763.7 1057.5,763.8 1057.7,763.8 1058.0,763.8 1058.2,763.8 1058.5,763.9 1058.7,763.9 1059.0,763.9 1059.2,763.9 1059.4,764.0 1059.7,764.0 1059.9,764.0 1060.2,764.0 1060.4,764.0 1060.7,764.1 1060.9,764.1 1061.2,764.1 1061.4,764.1 1061.6,764.1 1061.9,764.1 1062.1,764.1 1062.4,764.1 1062.6,764.1 1062.9,764.1 1063.1,764.1 1063.4,764.1 1063.6,764.1 1063.9,764.1 1064.1,764.0 1064.3,764.0 1064.6,764.0 1064.8,764.0 1065.1,764.0 1065.3,763.9 1065.6,763.9 1065.8,763.9 1066.1,763.8 1066.3,763.8 1066.5,763.7 1066.8,763.7 1067.0,763.7 1067.3,763.6 1067.5,763.6 1067.8,763.5 1068.0,763.5 1068.3,763.4 1068.5,763.4 1068.8,763.3 1069.0,763.3 1069.2,763.2 1069.5,763.1 1069.7,763.1 1070.0,763.0 1070.2,763.0 1070.5,762.9 1070.7,762.9 1071.0,762.8 1071.2,762.7 1071.4,762.7 1071.7,762.6 1071.9,762.6 1072.2,762.5 1072.4,762.5 1072.7,762.4 1072.9,762.4 1073.2,762.3 1073.4,762.3 1073.7,762.2 1073.9,762.2 1074.1,762.1 1074.4,762.1 1074.6,762.0 1074.9,762.0 1075.1,762.0 1075.4,761.9 1075.6,761.9 1075.9,761.9 1076.1,761.8 1076.3,761.8 1076.6,761.8 1076.8,761.8 1077.1,761.8 1077.3,761.7 1077.6,761.7 1077.8,761.7 1078.1,761.7 1078.3,761.7 1078.5,761.7 1078.8,761.7 1079.0,761.7 1079.3,761.7 1079.5,761.7 1079.8,761.7 1080.0,761.8 1080.3,761.8 1080.5,761.8 1080.8,761.9 1081.0,761.9 1081.2,761.9 1081.5,762.0 1081.7,762.0 1082.0,762.1 1082.2,762.1 1082.5,762.2 1082.7,762.2 1083.0,762.3 1083.2,762.4 1083.4,762.4 1083.7,762.5 1083.9,762.6 1084.2,762.6 1084.4,762.7 1084.7,762.8 1084.9,762.9 1085.2,763.0 1085.4,763.0 1085.7,763.1 1085.9,763.2 1086.1,763.3 1086.4,763.4 1086.6,763.4 1086.9,763.5 1087.1,763.6 1087.4,763.7 1087.6,763.8 1087.9,763.9 1088.1,763.9 1088.3,764.0 1088.6,764.1 1088.8,764.2 1089.1,764.2 1089.3,764.3 1089.6,764.4 1089.8,764.4 1090.1,764.5 1090.3,764.6 1090.6,764.6 1090.8,764.7 1091.0,764.7 1091.3,764.8 1091.5,764.8 1091.8,764.9 1092.0,764.9 1092.3,764.9 1092.5,765.0 1092.8,765.0 1093.0,765.0 1093.2,765.1 1093.5,765.1 1093.7,765.1 1094.0,765.1 1094.2,765.1 1094.5,765.1 1094.7,765.1 1095.0,765.1 1095.2,765.1 1095.5,765.1 1095.7,765.0 1095.9,765.0 1096.2,765.0 1096.4,764.9 1096.7,764.9 1096.9,764.8 1097.2,764.8 1097.4,764.7 1097.7,764.6 1097.9,764.6 1098.1,764.5 1098.4,764.4 1098.6,764.4 1098.9,764.3 1099.1,764.2 1099.4,764.1 1099.6,764.0 1099.9,763.9 1100.1,763.8 1100.3,763.7 1100.6,763.6 1100.8,763.5 1101.1,763.4 1101.3,763.3 1101.6,763.2 1101.8,763.1 1102.1,763.0 1102.3,762.9 1102.6,762.8 1102.8,762.7 1103.0,762.6 1103.3,762.4 1103.5,762.3 1103.8,762.2 1104.0,762.1 1104.3,762.0 1104.5,761.9 1104.8,761.8 1105.0,761.7 1105.2,761.7 1105.5,761.6 1105.7,761.5 1106.0,761.4 1106.2,761.3 1106.5,761.3 1106.7,761.2 1107.0,761.1 1107.2,761.1 1107.5,761.0 1107.7,760.9 1107.9,760.9 1108.2,760.9 1108.4,760.8 1108.7,760.8 1108.9,760.8 1109.2,760.7 1109.4,760.7 1109.7,760.7 1109.9,760.7 1110.1,760.7 1110.4,760.7 1110.6,760.7 1110.9,760.7 1111.1,760.8 1111.4,760.8 1111.6,760.8 1111.9,760.9 1112.1,760.9 1112.4,761.0 1112.6,761.1 1112.8,761.1 1113.1,761.2 1113.3,761.3 1113.6,761.4 1113.8,761.5 1114.1,761.6 1114.3,761.7 1114.6,761.8 1114.8,762.0 1115.0,762.1 1115.3,762.2 1115.5,762.3 1115.8,762.5 1116.0,762.6 1116.3,762.7 1116.5,762.9 1116.8,763.0 1117.0,763.2 1117.2,763.3 1117.5,763.5 1117.7,763.6 1118.0,763.8 1118.2,763.9 1118.5,764.1 1118.7,764.2 1119.0,764.4 1119.2,764.5 1119.5,764.7 1119.7,764.8 1119.9,764.9 1120.2,765.1 1120.4,765.2 1120.7,765.3 1120.9,765.5 1121.2,765.6 1121.4,765.7 1121.7,765.8 1121.9,765.9 1122.1,766.0 1122.4,766.1 1122.6,766.2 1122.9,766.3 1123.1,766.4 1123.4,766.4 1123.6,766.5 1123.9,766.6 1124.1,766.6 1124.4,766.7 1124.6,766.7 1124.8,766.7 1125.1,766.8 1125.3,766.8 1125.6,766.8 1125.8,766.8 1126.1,766.8 1126.3,766.8 1126.6,766.8 1126.8,766.7 1127.0,766.7 1127.3,766.6 1127.5,766.5 1127.8,766.5 1128.0,766.4 1128.3,766.3 1128.5,766.2 1128.8,766.1 1129.0,765.9 1129.3,765.8 1129.5,765.7 1129.7,765.5 1130.0,765.4 1130.2,765.2 1130.5,765.1 1130.7,764.9 1131.0,764.7 1131.2,764.5 1131.5,764.3 1131.7,764.1 1131.9,763.9 1132.2,763.7 1132.4,763.5 1132.7,763.3 1132.9,763.1 1133.2,762.9 1133.4,762.7 1133.7,762.5 1133.9,762.3 1134.2,762.1 1134.4,761.9 1134.6,761.7 1134.9,761.5 1135.1,761.3 1135.4,761.1 1135.6,760.9 1135.9,760.7 1136.1,760.5 1136.4,760.3 1136.6,760.1 1136.8,760.0 1137.1,759.8 1137.3,759.6 1137.6,759.5 1137.8,759.4 1138.1,759.2 1138.3,759.1 1138.6,759.0 1138.8,758.9 1139.0,758.8 1139.3,758.7 1139.5,758.6 1139.8,758.5 1140.0,758.5 1140.3,758.4 1140.5,758.4 1140.8,758.3 1141.0,758.3 1141.3,758.3 1141.5,758.3 1141.7,758.3 1142.0,758.3 1142.2,758.4 1142.5,758.4 1142.7,758.5 1143.0,758.6 1143.2,758.7 1143.5,758.8 1143.7,758.9 1143.9,759.0 1144.2,759.1 1144.4,759.3 1144.7,759.4 1144.9,759.6 1145.2,759.8 1145.4,760.0 1145.7,760.2 1145.9,760.4 1146.2,760.6 1146.4,760.8 1146.6,761.1 1146.9,761.3 1147.1,761.6 1147.4,761.8 1147.6,762.1 1147.9,762.3 1148.1,762.6 1148.4,762.8 1148.6,763.1 1148.8,763.4 1149.1,763.7 1149.3,763.9 1149.6,764.2 1149.8,764.5 1150.1,764.8 1150.3,765.0 1150.6,765.3 1150.8,765.6 1151.1,765.8 1151.3,766.1 1151.5,766.3 1151.8,766.6 1152.0,766.8 1152.3,767.0 1152.5,767.3 1152.8,767.5 1153.0,767.7 1153.3,767.9 1153.5,768.1 1153.7,768.3 1154.0,768.4 1154.2,768.6 1154.5,768.7 1154.7,768.9 1155.0,769.0 1155.2,769.1 1155.5,769.2 1155.7,769.3 1155.9,769.4 1156.2,769.5 1156.4,769.5 1156.7,769.6 1156.9,769.6 1157.2,769.6 1157.4,769.6 1157.7,769.6 1157.9,769.5 1158.2,769.5 1158.4,769.4 1158.6,769.3 1158.9,769.2 1159.1,769.1 1159.4,769.0 1159.6,768.8 1159.9,768.7 1160.1,768.5 1160.4,768.3 1160.6,768.1 1160.8,767.9 1161.1,767.6 1161.3,767.4 1161.6,767.1 1161.8,766.8 1162.1,766.6 1162.3,766.3 1162.6,766.0 1162.8,765.6 1163.1,765.3 1163.3,765.0 1163.5,764.7 1163.8,764.3 1164.0,764.0 1164.3,763.6 1164.5,763.3 1164.8,762.9 1165.0,762.5 1165.3,762.2 1165.5,761.8 1165.7,761.5 1166.0,761.1 1166.2,760.8 1166.5,760.4 1166.7,760.0 1167.0,759.7 1167.2,759.4 1167.5,759.0 1167.7,758.7 1168.0,758.4 1168.2,758.1 1168.4,757.8 1168.7,757.5 1168.9,757.2 1169.2,756.9 1169.4,756.7 1169.7,756.4 1169.9,756.2 1170.2,756.0 1170.4,755.8 1170.6,755.6 1170.9,755.4 1171.1,755.2 1171.4,755.1 1171.6,754.9 1171.9,754.8 1172.1,754.7 1172.4,754.7 1172.6,754.6 1172.8,754.5 1173.1,754.5 1173.3,754.5 1173.6,754.5 1173.8,754.5 1174.1,754.6 1174.3,754.7 1174.6,754.8 1174.8,754.9 1175.1,755.1 1175.3,755.2 1175.5,755.4 1175.8,755.7 1176.0,755.9 1176.3,756.2 1176.5,756.5 1176.8,756.8 1177.0,757.1 1177.3,757.5 1177.5,757.8 1177.7,758.2 1178.0,758.6 1178.2,759.0 1178.5,759.4 1178.7,759.9 1179.0,760.3 1179.2,760.8 1179.5,761.3 1179.7,761.7 1180.0,762.2 1180.2,762.7 1180.4,763.2 1180.7,763.7 1180.9,764.2 1181.2,764.7 1181.4,765.2 1181.7,765.7 1181.9,766.2 1182.2,766.7 1182.4,767.2 1182.6,767.7 1182.9,768.1 1183.1,768.6 1183.4,769.0 1183.6,769.5 1183.9,769.9 1184.1,770.3 1184.4,770.7 1184.6,771.1 1184.9,771.5 1185.1,771.8 1185.3,772.1 1185.6,772.4 1185.8,772.7 1186.1,773.0 1186.3,773.2 1186.6,773.5 1186.8,773.7 1187.1,773.8 1187.3,774.0 1187.5,774.1 1187.8,774.2 1188.0,774.3 1188.3,774.4 1188.5,774.4 1188.8,774.4 1189.0,774.4 1189.3,774.3 1189.5,774.2 1189.8,774.1 1190.0,774.0 1190.2,773.8 1190.5,773.6 1190.7,773.3 1191.0,773.1 1191.2,772.8 1191.5,772.4 1191.7,772.1 1192.0,771.7 1192.2,771.3 1192.4,770.9 1192.7,770.4 1192.9,770.0 1193.2,769.5 1193.4,769.0 1193.7,768.4 1193.9,767.9 1194.2,767.3 1194.4,766.7 1194.6,766.1 1194.9,765.5 1195.1,764.9 1195.4,764.3 1195.6,763.7 1195.9,763.0 1196.1,762.4 1196.4,761.7 1196.6,761.1 1196.9,760.4 1197.1,759.8 1197.3,759.1 1197.6,758.5 1197.8,757.9 1198.1,757.2 1198.3,756.6 1198.6,756.0 1198.8,755.4 1199.1,754.9 1199.3,754.3 1199.5,753.7 1199.8,753.2 1200.0,752.7 1200.3,752.2 1200.5,751.7 1200.8,751.3 1201.0,750.9 1201.3,750.5 1201.5,750.1 1201.8,749.7 1202.0,749.4 1202.2,749.1 1202.5,748.9 1202.7,748.6 1203.0,748.4 1203.2,748.2 1203.5,748.1 1203.7,748.0 1204.0,747.9 1204.2,747.8 1204.4,747.8 1204.7,747.8 1204.9,747.9 1205.2,748.0 1205.4,748.1 1205.7,748.3 1205.9,748.5 1206.2,748.8 1206.4,749.1 1206.7,749.4 1206.9,749.8 1207.1,750.3 1207.4,750.7 1207.6,751.2 1207.9,751.8 1208.1,752.3 1208.4,752.9 1208.6,753.6 1208.9,754.2 1209.1,754.9 1209.3,755.6 1209.6,756.4 1209.8,757.1 1210.1,757.9 1210.3,758.7 1210.6,759.6 1210.8,760.4 1211.1,761.2 1211.3,762.1 1211.5,763.0 1211.8,763.8 1212.0,764.7 1212.3,765.6 1212.5,766.5 1212.8,767.4 1213.0,768.3 1213.3,769.1 1213.5,770.0 1213.8,770.9 1214.0,771.7 1214.2,772.5 1214.5,773.3 1214.7,774.1 1215.0,774.9 1215.2,775.7 1215.5,776.4 1215.7,777.1 1216.0,777.8 1216.2,778.4 1216.4,779.0 1216.7,779.6 1216.9,780.2 1217.2,780.7 1217.4,781.2 1217.7,781.6 1217.9,782.1 1218.2,782.4 1218.4,782.8 1218.7,783.0 1218.9,783.3 1219.1,783.5 1219.4,783.7 1219.6,783.8 1219.9,783.9 1220.1,783.9 1220.4,783.9 1220.6,783.8 1220.9,783.7 1221.1,783.5 1221.3,783.3 1221.6,783.0 1221.8,782.6 1222.1,782.2 1222.3,781.7 1222.6,781.2 1222.8,780.7 1223.1,780.0 1223.3,779.4 1223.6,778.7 1223.8,777.9 1224.0,777.1 1224.3,776.3 1224.5,775.4 1224.8,774.5 1225.0,773.5 1225.3,772.5 1225.5,771.5 1225.8,770.5 1226.0,769.4 1226.2,768.3 1226.5,767.2 1226.7,766.0 1227.0,764.9 1227.2,763.7 1227.5,762.5 1227.7,761.4 1228.0,760.2 1228.2,759.0 1228.5,757.8 1228.7,756.6 1228.9,755.5 1229.2,754.3 1229.4,753.2 1229.7,752.0 1229.9,750.9 1230.2,749.8 1230.4,748.8 1230.7,747.7 1230.9,746.7 1231.1,745.7 1231.4,744.8 1231.6,743.9 1231.9,743.0 1232.1,742.2 1232.4,741.4 1232.6,740.6 1232.9,739.9 1233.1,739.3 1233.3,738.7 1233.6,738.1 1233.8,737.6 1234.1,737.2 1234.3,736.8 1234.6,736.4 1234.8,736.2 1235.1,735.9 1235.3,735.8 1235.6,735.7 1235.8,735.6 1236.0,735.6 1236.3,735.7 1236.5,735.8 1236.8,736.1 1237.0,736.4 1237.3,736.7 1237.5,737.2 1237.8,737.7 1238.0,738.2 1238.2,738.9 1238.5,739.6 1238.7,740.3 1239.0,741.2 1239.2,742.1 1239.5,743.0 1239.7,744.0 1240.0,745.0 1240.2,746.2 1240.5,747.3 1240.7,748.5 1240.9,749.7 1241.2,751.0 1241.4,752.3 1241.7,753.7 1241.9,755.1 1242.2,756.5 1242.4,757.9 1242.7,759.4 1242.9,760.9 1243.1,762.3 1243.4,763.9 1243.6,765.4 1243.9,766.9 1244.1,768.4 1244.4,769.9 1244.6,771.4 1244.9,772.9 1245.1,774.4 1245.4,775.9 1245.6,777.3 1245.8,778.7 1246.1,780.1 1246.3,781.5 1246.6,782.8 1246.8,784.1 1247.1,785.4 1247.3,786.6 1247.6,787.8 1247.8,788.9 1248.0,790.0 1248.3,791.1 1248.5,792.0 1248.8,792.9 1249.0,793.8 1249.3,794.6 1249.5,795.3 1249.8,796.0 1250.0,796.6 1250.2,797.2 1250.5,797.6 1250.7,798.0 1251.0,798.4 1251.2,798.6 1251.5,798.8 1251.7,799.0 1252.0,799.0 1252.2,799.0 1252.5,798.8 1252.7,798.6 1252.9,798.2 1253.2,797.7 1253.4,797.1 1253.7,796.4 1253.9,795.7 1254.2,794.8 1254.4,793.8 1254.7,792.7 1254.9,791.5 1255.1,790.2 1255.4,788.9 1255.6,787.4 1255.9,785.9 1256.1,784.3 1256.4,782.7 1256.6,780.9 1256.9,779.1 1257.1,777.3 1257.4,775.4 1257.6,773.4 1257.8,771.4 1258.1,769.4 1258.3,767.3 1258.6,765.2 1258.8,763.1 1259.1,761.0 1259.3,758.8 1259.6,756.7 1259.8,754.6 1260.0,752.4 1260.3,750.3 1260.5,748.2 1260.8,746.1 1261.0,744.1 1261.3,742.0 1261.5,740.1 1261.8,738.1 1262.0,736.3 1262.3,734.4 1262.5,732.7 1262.7,731.0 1263.0,729.3 1263.2,727.8 1263.5,726.3 1263.7,724.9 1264.0,723.6 1264.2,722.3 1264.5,721.2 1264.7,720.2 1264.9,719.2 1265.2,718.4 1265.4,717.6 1265.7,717.0 1265.9,716.5 1266.2,716.0 1266.4,715.7 1266.7,715.5 1266.9,715.4 1267.2,715.4 1267.4,715.6 1267.6,715.9 1267.9,716.3 1268.1,716.9 1268.4,717.6 1268.6,718.5 1268.9,719.5 1269.1,720.6 1269.4,721.8 1269.6,723.2 1269.8,724.7 1270.1,726.3 1270.3,728.0 1270.6,729.8 1270.8,731.8 1271.1,733.8 1271.3,735.9 1271.6,738.2 1271.8,740.5 1272.0,742.8 1272.3,745.3 1272.5,747.8 1272.8,750.4 1273.0,753.0 1273.3,755.6 1273.5,758.3 1273.8,761.1 1274.0,763.8 1274.3,766.6 1274.5,769.4 1274.7,772.1 1275.0,774.9 1275.2,777.7 1275.5,780.4 1275.7,783.1 1276.0,785.8 1276.2,788.4 1276.5,791.0 1276.7,793.6 1276.9,796.0 1277.2,798.5 1277.4,800.8 1277.7,803.0 1277.9,805.2 1278.2,807.3 1278.4,809.3 1278.7,811.1 1278.9,812.9 1279.2,814.6 1279.4,816.1 1279.6,817.5 1279.9,818.8 1280.1,820.0 1280.4,821.0 1280.6,821.9 1280.9,822.7 1281.1,823.4 1281.4,823.8 1281.6,824.2 1281.8,824.4 1282.1,824.5 1282.3,824.4 1282.6,824.2 1282.8,823.7 1283.1,823.1 1283.3,822.3 1283.6,821.3 1283.8,820.2 1284.1,818.8 1284.3,817.4 1284.5,815.7 1284.8,813.9 1285.0,812.0 1285.3,809.9 1285.5,807.6 1285.8,805.2 1286.0,802.7 1286.3,800.1 1286.5,797.3 1286.7,794.5 1287.0,791.5 1287.2,788.4 1287.5,785.3 1287.7,782.0 1288.0,778.7 1288.2,775.4 1288.5,772.0 1288.7,768.5 1288.9,765.0 1289.2,761.5 1289.4,758.0 1289.7,754.4 1289.9,750.9 1290.2,747.3 1290.4,743.8 1290.7,740.3 1290.9,736.9 1291.2,733.5 1291.4,730.1 1291.6,726.9 1291.9,723.6 1292.1,720.5 1292.4,717.5 1292.6,714.5 1292.9,711.7 1293.1,709.0 1293.4,706.4 1293.6,703.9 1293.8,701.6 1294.1,699.3 1294.3,697.3 1294.6,695.4 1294.8,693.6 1295.1,692.0 1295.3,690.6 1295.6,689.3 1295.8,688.2 1296.1,687.3 1296.3,686.5 1296.5,686.0 1296.8,685.6 1297.0,685.3 1297.3,685.3 1297.5,685.5 1297.8,685.9 1298.0,686.6 1298.3,687.4 1298.5,688.5 1298.7,689.8 1299.0,691.4 1299.2,693.1 1299.5,695.0 1299.7,697.2 1300.0,699.5 1300.2,702.1 1300.5,704.8 1300.7,707.7 1301.0,710.8 1301.2,714.0 1301.4,717.4 1301.7,720.9 1301.9,724.6 1302.2,728.4 1302.4,732.3 1302.7,736.3 1302.9,740.4 1303.2,744.6 1303.4,748.9 1303.6,753.2 1303.9,757.6 1304.1,762.0 1304.4,766.4 1304.6,770.9 1304.9,775.3 1305.1,779.8 1305.4,784.2 1305.6,788.6 1305.8,793.0 1306.1,797.3 1306.3,801.5 1306.6,805.7 1306.8,809.8 1307.1,813.7 1307.3,817.6 1307.6,821.3 1307.8,825.0 1308.1,828.4 1308.3,831.8 1308.5,834.9 1308.8,837.9 1309.0,840.8 1309.3,843.4 1309.5,845.9 1309.8,848.2 1310.0,850.2 1310.3,852.1 1310.5,853.8 1310.7,855.2 1311.0,856.4 1311.2,857.4 1311.5,858.2 1311.7,858.8 1312.0,859.1 1312.2,859.2 1312.5,859.0 1312.7,858.6 1313.0,857.9 1313.2,856.9 1313.4,855.7 1313.7,854.2 1313.9,852.4 1314.2,850.4 1314.4,848.1 1314.7,845.6 1314.9,842.8 1315.2,839.8 1315.4,836.6 1315.6,833.1 1315.9,829.5 1316.1,825.7 1316.4,821.6 1316.6,817.4 1316.9,813.1 1317.1,808.5 1317.4,803.9 1317.6,799.1 1317.9,794.1 1318.1,789.1 1318.3,784.0 1318.6,778.8 1318.8,773.5 1319.1,768.2 1319.3,762.9 1319.6,757.5 1319.8,752.1 1320.1,746.7 1320.3,741.4 1320.5,736.0 1320.8,730.7 1321.0,725.5 1321.3,720.3 1321.5,715.3 1321.8,710.3 1322.0,705.4 1322.3,700.7 1322.5,696.1 1322.8,691.6 1323.0,687.4 1323.2,683.2 1323.5,679.3 1323.7,675.6 1324.0,672.0 1324.2,668.7 1324.5,665.6 1324.7,662.7 1325.0,660.0 1325.2,657.6 1325.4,655.5 1325.7,653.6 1325.9,651.9 1326.2,650.6 1326.4,649.4 1326.7,648.6 1326.9,648.0 1327.2,647.7 1327.4,647.7 1327.6,648.1 1327.9,648.8 1328.1,649.9 1328.4,651.4 1328.6,653.3 1328.9,655.5 1329.1,658.1 1329.4,661.0 1329.6,664.3 1329.9,667.9 1330.1,671.9 1330.3,676.1 1330.6,680.6 1330.8,685.5 1331.1,690.5 1331.3,695.9 1331.6,701.4 1331.8,707.2 1332.1,713.2 1332.3,719.4 1332.5,725.7 1332.8,732.2 1333.0,738.8 1333.3,745.5 1333.5,752.3 1333.8,759.1 1334.0,766.0 1334.3,772.9 1334.5,779.9 1334.8,786.7 1335.0,793.6 1335.2,800.4 1335.5,807.1 1335.7,813.7 1336.0,820.1 1336.2,826.4 1336.5,832.6 1336.7,838.6 1337.0,844.3 1337.2,849.9 1337.4,855.2 1337.7,860.2 1337.9,865.0 1338.2,869.5 1338.4,873.8 1338.7,877.6 1338.9,881.2 1339.2,884.5 1339.4,887.4 1339.7,889.9 1339.9,892.1 1340.1,893.9 1340.4,895.4 1340.6,896.5 1340.9,897.2 1341.1,897.5 1341.4,897.4 1341.6,896.9 1341.9,896.0 1342.1,894.7 1342.3,893.0 1342.6,890.9 1342.8,888.4 1343.1,885.5 1343.3,882.3 1343.6,878.6 1343.8,874.6 1344.1,870.3 1344.3,865.6 1344.5,860.7 1344.8,855.4 1345.0,849.8 1345.3,843.9 1345.5,837.8 1345.8,831.4 1346.0,824.9 1346.3,818.1 1346.5,811.1 1346.8,804.0 1347.0,796.7 1347.2,789.4 1347.5,781.9 1347.7,774.3 1348.0,766.7 1348.2,759.1 1348.5,751.4 1348.7,743.7 1349.0,736.1 1349.2,728.6 1349.4,721.1 1349.7,713.7 1349.9,706.4 1350.2,699.3 1350.4,692.3 1350.7,685.5 1350.9,679.0 1351.2,672.6 1351.4,666.5 1351.7,660.6 1351.9,655.0 1352.1,649.7 1352.4,644.7 1352.6,640.0 1352.9,635.7 1353.1,631.7 1353.4,628.0 1353.6,624.8 1353.9,621.9 1354.1,619.4 1354.3,617.2 1354.6,615.5 1354.8,614.2 1355.1,613.3 1355.3,612.8 1355.6,612.7 1355.8,613.1 1356.1,614.0 1356.3,615.3 1356.6,617.1 1356.8,619.4 1357.0,622.1 1357.3,625.3 1357.5,628.9 1357.8,633.0 1358.0,637.4 1358.3,642.3 1358.5,647.6 1358.8,653.2 1359.0,659.2 1359.2,665.5 1359.5,672.2 1359.7,679.1 1360.0,686.3 1360.2,693.8 1360.5,701.5 1360.7,709.4 1361.0,717.5 1361.2,725.8 1361.5,734.2 1361.7,742.7 1361.9,751.2 1362.2,759.9 1362.4,768.5 1362.7,777.2 1362.9,785.8 1363.2,794.4 1363.4,802.9 1363.7,811.3 1363.9,819.6 1364.1,827.7 1364.4,835.7 1364.6,843.4 1364.9,851.0 1365.1,858.2 1365.4,865.2 1365.6,871.9 1365.9,878.3 1366.1,884.3 1366.3,890.0 1366.6,895.4 1366.8,900.3 1367.1,904.8 1367.3,909.0 1367.6,912.7 1367.8,915.9 1368.1,918.7 1368.3,921.1 1368.6,922.9 1368.8,924.4 1369.0,925.3 1369.3,925.7 1369.5,925.7 1369.8,925.2 1370.0,924.2 1370.3,922.8 1370.5,920.8 1370.8,918.4 1371.0,915.6 1371.2,912.3 1371.5,908.5 1371.7,904.3 1372.0,899.7 1372.2,894.7 1372.5,889.3 1372.7,883.5 1373.0,877.4 1373.2,870.9 1373.5,864.1 1373.7,856.9 1373.9,849.5 1374.2,841.9 1374.4,834.0 1374.7,825.9 1374.9,817.6 1375.2,809.1 1375.4,800.5 1375.7,791.7 1375.9,782.9 1376.1,774.0 1376.4,765.1 1376.6,756.1 1376.9,747.1 1377.1,738.2 1377.4,729.4 1377.6,720.6 1377.9,711.9 1378.1,703.4 1378.4,695.1 1378.6,686.9 1378.8,678.9 1379.1,671.2 1379.3,663.7 1379.6,656.5 1379.8,649.6 1380.1,643.0 1380.3,636.8 1380.6,630.9 1380.8,625.4 1381.0,620.2 1381.3,615.5 1381.5,611.2 1381.8,607.3 1382.0,603.9 1382.3,600.9 1382.5,598.3 1382.8,596.2 1383.0,594.6 1383.2,593.5 1383.5,592.9 1383.7,592.7 1384.0,593.1 1384.2,593.9 1384.5,595.3 1384.7,597.2 1385.0,599.6 1385.2,602.6 1385.5,606.0 1385.7,609.9 1385.9,614.3 1386.2,619.1 1386.4,624.4 1386.7,630.1 1386.9,636.2 1387.2,642.7 1387.4,649.6 1387.7,656.8 1387.9,664.3 1388.1,672.2 1388.4,680.3 1388.6,688.7 1388.9,697.4 1389.1,706.2 1389.4,715.2 1389.6,724.4 1389.9,733.6 1390.1,743.0 1390.4,752.4 1390.6,761.9 1390.8,771.4 1391.1,780.9 1391.3,790.3 1391.6,799.6 1391.8,808.8 1392.1,817.9 1392.3,826.8 1392.6,835.5 1392.8,844.0 1393.0,852.2 1393.3,860.2 1393.5,867.9 1393.8,875.3 1394.0,882.3 1394.3,889.0 1394.5,895.3 1394.8,901.1 1395.0,906.6 1395.3,911.6 1395.5,916.2 1395.7,920.3 1396.0,923.9 1396.2,927.1 1396.5,929.7 1396.7,931.8 1397.0,933.4 1397.2,934.5 1397.5,935.1 1397.7,935.2 1397.9,934.7 1398.2,933.7 1398.4,932.2 1398.7,930.2 1398.9,927.7 1399.2,924.7 1399.4,921.2 1399.7,917.3 1399.9,912.9 1400.1,908.0 1400.4,902.7 1400.6,897.0 1400.9,890.9 1401.1,884.4 1401.4,877.6 1401.6,870.4 1401.9,862.8 1402.1,855.0 1402.4,846.9 1402.6,838.6 1402.8,830.1 1403.1,821.3 1403.3,812.4 1403.6,803.3 1403.8,794.1 1404.1,784.8 1404.3,775.5 1404.6,766.1 1404.8,756.8 1405.0,747.4 1405.3,738.1 1405.5,728.9 1405.8,719.8 1406.0,710.8 1406.3,702.0 1406.5,693.3 1406.8,684.9 1407.0,676.8 1407.3,668.8 1407.5,661.2 1407.7,653.9 1408.0,647.0 1408.2,640.3 1408.5,634.1 1408.7,628.3 1409.0,622.8 1409.2,617.8 1409.5,613.2 1409.7,609.1 1409.9,605.5 1410.2,602.3 1410.4,599.7 1410.7,597.5 1410.9,595.8 1411.2,594.7 1411.4,594.0 1411.7,593.9 1411.9,594.3 1412.2,595.3 1412.4,596.8 1412.6,598.8 1412.9,601.3 1413.1,604.4 1413.4,608.0 1413.6,612.0 1413.9,616.6 1414.1,621.6 1414.4,627.1 1414.6,633.0 1414.8,639.3 1415.1,646.0 1415.3,653.1 1415.6,660.5 1415.8,668.3 1416.1,676.3 1416.3,684.7 1416.6,693.3 1416.8,702.1 1417.1,711.1 1417.3,720.2 1417.5,729.5 1417.8,738.9 1418.0,748.3 1418.3,757.8 1418.5,767.4 1418.8,776.8 1419.0,786.3 1419.3,795.6 1419.5,804.9 1419.7,814.0 1420.0,822.9 1420.2,831.6 1420.5,840.1 1420.7,848.3 1421.0,856.3 1421.2,863.9 1421.5,871.2 1421.7,878.2 1421.9,884.7 1422.2,890.9 1422.4,896.6 1422.7,901.9 1422.9,906.8 1423.2,911.1 1423.4,915.0 1423.7,918.4 1423.9,921.2 1424.2,923.6 1424.4,925.4 1424.6,926.7 1424.9,927.4 1425.1,927.6 1425.4,927.2 1425.6,926.3 1425.9,924.9 1426.1,922.9 1426.4,920.4 1426.6,917.4 1426.8,913.8 1427.1,909.8 1427.3,905.2 1427.6,900.2 1427.8,894.7 1428.1,888.8 1428.3,882.5 1428.6,875.8 1428.8,868.7 1429.1,861.2 1429.3,853.5 1429.5,845.4 1429.8,837.1 1430.0,828.5 1430.3,819.7 1430.5,810.7 1430.8,801.6 1431.0,792.3 1431.3,783.0 1431.5,773.6 1431.7,764.2 1432.0,754.8 1432.2,745.4 1432.5,736.1 1432.7,726.9 1433.0,717.8 1433.2,708.9 1433.5,700.2 1433.7,691.7 1434.0,683.5 1434.2,675.5 1434.4,667.9 1434.7,660.6 1434.9,653.6 1435.2,647.1 1435.4,640.9 1435.7,635.1 1435.9,629.8 1436.2,625.0 1436.4,620.6 1436.6,616.8 1436.9,613.4 1437.1,610.6 1437.4,608.3 1437.6,606.5 1437.9,605.2 1438.1,604.6 1438.4,604.4 1438.6,604.8 1438.8,605.7 1439.1,607.2 1439.3,609.2 1439.6,611.7 1439.8,614.7 1440.1,618.2 1440.3,622.2 1440.6,626.6 1440.8,631.6 1441.1,636.9 1441.3,642.7 1441.5,648.9 1441.8,655.5 1442.0,662.4 1442.3,669.6 1442.5,677.2 1442.8,685.1 1443.0,693.2 1443.3,701.6 1443.5,710.1 1443.7,718.8 1444.0,727.7 1444.2,736.7 1444.5,745.8 1444.7,754.9 1445.0,764.0 1445.2,773.2 1445.5,782.3 1445.7,791.3 1446.0,800.2 1446.2,809.0 1446.4,817.6 1446.7,826.1 1446.9,834.3 1447.2,842.2 1447.4,849.9 1447.7,857.3 1447.9,864.4 1448.2,871.1 1448.4,877.5 1448.6,883.4 1448.9,888.9 1449.1,894.0 1449.4,898.7 1449.6,902.9 1449.9,906.6 1450.1,909.8 1450.4,912.5 1450.6,914.7 1450.9,916.3 1451.1,917.5 1451.3,918.1 1451.6,918.2 1451.8,917.7 1452.1,916.8 1452.3,915.4 1452.6,913.4 1452.8,911.0 1453.1,908.1 1453.3,904.7 1453.5,900.9 1453.8,896.6 1454.0,891.9 1454.3,886.7 1454.5,881.2 1454.8,875.3 1455.0,869.0 1455.3,862.3 1455.5,855.4 1455.8,848.1 1456.0,840.5 1456.2,832.8 1456.5,824.7 1456.7,816.5 1457.0,808.1 1457.2,799.5 1457.5,790.9 1457.7,782.1 1458.0,773.3 1458.2,764.4 1458.4,755.6 1458.7,746.7 1458.9,737.9 1459.2,729.2 1459.4,720.6 1459.7,712.1 1459.9,703.8 1460.2,695.7 1460.4,687.8 1460.6,680.2 1460.9,672.8 1461.1,665.7 1461.4,658.9 1461.6,652.5 1461.9,646.4 1462.1,640.7 1462.4,635.4 1462.6,630.5 1462.9,626.0 1463.1,622.0 1463.3,618.4 1463.6,615.3 1463.8,612.7 1464.1,610.6 1464.3,608.9 1464.6,607.8 1464.8,607.1 1465.1,607.0 1465.3,607.4 1465.5,608.3 1465.8,609.7 1466.0,611.6 1466.3,614.0 1466.5,616.9 1466.8,620.2 1467.0,624.1 1467.3,628.4 1467.5,633.1 1467.8,638.3 1468.0,643.8 1468.2,649.8 1468.5,656.1 1468.7,662.8 1469.0,669.8 1469.2,677.2 1469.5,684.8 1469.7,692.7 1470.0,700.8 1470.2,709.1 1470.4,717.6 1470.7,726.2 1470.9,735.0 1471.2,743.9 1471.4,752.8 1471.7,761.8 1471.9,770.8 1472.2,779.8 1472.4,788.7 1472.7,797.5 1472.9,806.3 1473.1,814.9 1473.4,823.3 1473.6,831.5 1473.9,839.6 1474.1,847.3 1474.4,854.9 1474.6,862.1 1474.9,869.0 1475.1,875.6 1475.3,881.8 1475.6,887.6 1475.8,893.0 1476.1,898.0 1476.3,902.6 1476.6,906.8 1476.8,910.4 1477.1,913.6 1477.3,916.3 1477.5,918.6 1477.8,920.3 1478.0,921.5 1478.3,922.2 1478.5,922.4 1478.8,922.1 1479.0,921.2 1479.3,919.7 1479.5,917.8 1479.8,915.2 1480.0,912.2 1480.2,908.7 1480.5,904.6 1480.7,900.1 1481.0,895.1 1481.2,889.6 1481.5,883.7 1481.7,877.3 1482.0,870.6 1482.2,863.5 1482.4,856.1 1482.7,848.3 1482.9,840.2 1483.2,831.9 1483.4,823.3 1483.7,814.5 1483.9,805.5 1484.2,796.4 1484.4,787.1 1484.7,777.8 1484.9,768.4 1485.1,759.0 1485.4,749.5 1485.6,740.2 1485.9,730.8 1486.1,721.6 1486.4,712.5 1486.6,703.6 1486.9,694.9 1487.1,686.4 1487.3,678.1 1487.6,670.2 1487.8,662.5 1488.1,655.2 1488.3,648.2 1488.6,641.6 1488.8,635.4 1489.1,629.7 1489.3,624.4 1489.6,619.5 1489.8,615.1 1490.0,611.2 1490.3,607.9 1490.5,605.0 1490.8,602.7 1491.0,600.9 1491.3,599.7 1491.5,599.0 1491.8,598.8 1492.0,599.2 1492.2,600.1 1492.5,601.6 1492.7,603.5 1493.0,606.0 1493.2,609.0 1493.5,612.5 1493.7,616.5 1494.0,620.9 1494.2,625.8 1494.5,631.2 1494.7,637.0 1494.9,643.1 1495.2,649.7 1495.4,656.7 1495.7,664.0 1495.9,671.6 1496.2,679.5 1496.4,687.7 1496.7,696.1 1496.9,704.8 1497.1,713.6 1497.4,722.6 1497.6,731.8 1497.9,741.0 1498.1,750.4 1498.4,759.7 1498.6,769.1 1498.9,778.5 1499.1,787.8 1499.3,797.1 1499.6,806.2 1499.8,815.3 1500.1,824.1 1500.3,832.8 1500.6,841.2 1500.8,849.4 1501.1,857.4 1501.3,865.0 1501.6,872.3 1501.8,879.3 1502.0,885.9 1502.3,892.1 1502.5,897.9 1502.8,903.3 1503.0,908.3 1503.3,912.7 1503.5,916.8 1503.8,920.3 1504.0,923.3 1504.2,925.8 1504.5,927.8 1504.7,929.3 1505.0,930.3 1505.2,930.7 1505.5,930.6 1505.7,929.9 1506.0,928.7 1506.2,926.9 1506.5,924.6 1506.7,921.7 1506.9,918.3 1507.2,914.4 1507.4,910.0 1507.7,905.1 1507.9,899.8 1508.2,893.9 1508.4,887.7 1508.7,881.0 1508.9,874.0 1509.1,866.5 1509.4,858.8 1509.6,850.7 1509.9,842.3 1510.1,833.6 1510.4,824.8 1510.6,815.7 1510.9,806.4 1511.1,797.0 1511.4,787.5 1511.6,777.9 1511.8,768.3 1512.1,758.6 1512.3,749.0 1512.6,739.4 1512.8,729.9 1513.1,720.5 1513.3,711.3 1513.6,702.2 1513.8,693.3" fill="none" stroke="#ff0000" stroke-width="2.00" stroke-linejoin="round"/>
<rect x="138.5" y="18.5" width="606.8" height="417.8" fill="none" stroke="#000" stroke-width="2.6"/>
<rect x="924.2" y="18.4" width="587.5" height="417.6" fill="none" stroke="#000" stroke-width="2.6"/>
<rect x="140.4" y="555.0" width="606.8" height="417.2" fill="none" stroke="#000" stroke-width="2.6"/>
<rect x="926.2" y="554.4" width="587.6" height="417.8" fill="none" stroke="#000" stroke-width="2.6"/>
<text transform="translate(127.10 28) scale(0.9714 1)" font-size="35" text-anchor="end">1.36</text>
<text transform="translate(127.10 167) scale(0.9714 1)" font-size="35" text-anchor="end">1.32</text>
<text transform="translate(127.10 306) scale(0.9714 1)" font-size="35" text-anchor="end">1.28</text>
<text transform="translate(127.10 445) scale(0.9714 1)" font-size="35" text-anchor="end">1.24</text>
<text transform="translate(127.10 565) scale(0.9714 1)" font-size="35" text-anchor="end">1.36</text>
<text transform="translate(127.10 703) scale(0.9714 1)" font-size="35" text-anchor="end">1.32</text>
<text transform="translate(127.10 841) scale(0.9714 1)" font-size="35" text-anchor="end">1.28</text>
<text transform="translate(127.10 980) scale(0.9714 1)" font-size="35" text-anchor="end">1.24</text>
<text transform="translate(915.30 29) scale(0.9714 1)" font-size="35" text-anchor="end">0.10</text>
<text transform="translate(915.30 133) scale(0.9714 1)" font-size="35" text-anchor="end">0.05</text>
<text transform="translate(915.30 238) scale(0.9714 1)" font-size="35" text-anchor="end">0</text>
<text x="838.39" y="342" font-size="34" textLength="19.0" lengthAdjust="spacingAndGlyphs">&#8211;</text>
<text transform="translate(915.30 343) scale(0.9714 1)" font-size="35" text-anchor="end">0.05</text>
<text x="838.39" y="442" font-size="34" textLength="19.0" lengthAdjust="spacingAndGlyphs">&#8211;</text>
<text transform="translate(915.30 443) scale(0.9714 1)" font-size="35" text-anchor="end">0.10</text>
<text transform="translate(915.00 566) scale(0.9714 1)" font-size="35" text-anchor="end">0.08</text>
<text transform="translate(915.00 618) scale(0.9714 1)" font-size="35" text-anchor="end">0.06</text>
<text transform="translate(915.00 670) scale(0.9714 1)" font-size="35" text-anchor="end">0.04</text>
<text transform="translate(915.00 722) scale(0.9714 1)" font-size="35" text-anchor="end">0.02</text>
<text transform="translate(915.00 774) scale(0.9714 1)" font-size="35" text-anchor="end">0</text>
<text x="838.09" y="826" font-size="34" textLength="19.0" lengthAdjust="spacingAndGlyphs">&#8211;</text>
<text transform="translate(915.00 826) scale(0.9714 1)" font-size="35" text-anchor="end">0.02</text>
<text x="838.09" y="878" font-size="34" textLength="19.0" lengthAdjust="spacingAndGlyphs">&#8211;</text>
<text transform="translate(915.00 878) scale(0.9714 1)" font-size="35" text-anchor="end">0.04</text>
<text x="838.09" y="930" font-size="34" textLength="19.0" lengthAdjust="spacingAndGlyphs">&#8211;</text>
<text transform="translate(915.00 930) scale(0.9714 1)" font-size="35" text-anchor="end">0.06</text>
<text x="838.09" y="981" font-size="34" textLength="19.0" lengthAdjust="spacingAndGlyphs">&#8211;</text>
<text transform="translate(915.00 982) scale(0.9714 1)" font-size="35" text-anchor="end">0.08</text>
<text transform="translate(139.00 473) scale(0.9714 1)" font-size="35" text-anchor="middle">0</text>
<text transform="translate(260.36 473) scale(0.9714 1)" font-size="35" text-anchor="middle">200</text>
<text transform="translate(381.72 473) scale(0.9714 1)" font-size="35" text-anchor="middle">400</text>
<text transform="translate(503.08 473) scale(0.9714 1)" font-size="35" text-anchor="middle">600</text>
<text transform="translate(624.44 473) scale(0.9714 1)" font-size="35" text-anchor="middle">800</text>
<text transform="translate(745.10 473) scale(0.9714 1)" font-size="35" text-anchor="middle">1000</text>
<text transform="translate(924.70 472) scale(0.9714 1)" font-size="35" text-anchor="middle">0</text>
<text transform="translate(1042.20 472) scale(0.9714 1)" font-size="35" text-anchor="middle">200</text>
<text transform="translate(1159.70 472) scale(0.9714 1)" font-size="35" text-anchor="middle">400</text>
<text transform="translate(1277.20 472) scale(0.9714 1)" font-size="35" text-anchor="middle">600</text>
<text transform="translate(1394.70 472) scale(0.9714 1)" font-size="35" text-anchor="middle">800</text>
<text transform="translate(1511.50 472) scale(0.9714 1)" font-size="35" text-anchor="middle">1000</text>
<text transform="translate(141.90 1010) scale(0.9714 1)" font-size="35" text-anchor="middle">150</text>
<text transform="translate(263.26 1010) scale(0.9714 1)" font-size="35" text-anchor="middle">180</text>
<text transform="translate(383.62 1010) scale(0.9714 1)" font-size="35" text-anchor="middle">210</text>
<text transform="translate(504.98 1010) scale(0.9714 1)" font-size="35" text-anchor="middle">240</text>
<text transform="translate(626.34 1010) scale(0.9714 1)" font-size="35" text-anchor="middle">270</text>
<text transform="translate(747.70 1010) scale(0.9714 1)" font-size="35" text-anchor="middle">300</text>
<text transform="translate(927.70 1010) scale(0.9714 1)" font-size="35" text-anchor="middle">150</text>
<text transform="translate(1045.22 1010) scale(0.9714 1)" font-size="35" text-anchor="middle">180</text>
<text transform="translate(1161.74 1010) scale(0.9714 1)" font-size="35" text-anchor="middle">210</text>
<text transform="translate(1279.26 1010) scale(0.9714 1)" font-size="35" text-anchor="middle">240</text>
<text transform="translate(1396.78 1010) scale(0.9714 1)" font-size="35" text-anchor="middle">270</text>
<text transform="translate(1514.30 1010) scale(0.9714 1)" font-size="35" text-anchor="middle">300</text>
<text x="8.2" y="232.0" font-size="41.5" class="it">C</text>
<text x="34.9" y="245.0" font-size="30.5" class="it">D</text>
<text x="789.8" y="232.0" font-size="41.5" class="it">C</text>
<text x="815.8" y="245.0" font-size="30.5" class="it">L</text>
<text x="8.6" y="768.0" font-size="41.5" class="it">C</text>
<text x="34.6" y="781.0" font-size="30.5" class="it">D</text>
<text x="789.7" y="768.0" font-size="41.5" class="it">C</text>
<text x="815.8" y="781.0" font-size="30.5" class="it">L</text>
<text x="437.1" y="515.0" font-size="40.5" class="it">t</text>
<text x="1208.1" y="515.0" font-size="40.5" class="it">t</text>
<text x="437.0" y="1052.0" font-size="40.5" class="it">t</text>
<text x="1208.1" y="1052.0" font-size="40.5" class="it">t</text>
<text x="-0.5" y="37.6" font-size="40.0">(</text>
<text x="12.8" y="37.6" font-size="40.0" class="it">a</text>
<text x="32.8" y="37.6" font-size="40.0">)</text>
<text x="790.4" y="43.0" font-size="40.0">(</text>
<text x="803.7" y="43.0" font-size="40.0" class="it">b</text>
<text x="823.7" y="43.0" font-size="40.0">)</text>
<text x="-0.4" y="567.5" font-size="40.0">(</text>
<text x="12.9" y="567.5" font-size="40.0" class="it">c</text>
<text x="30.7" y="567.5" font-size="40.0">)</text>
<text x="784.6" y="573.0" font-size="40.0">(</text>
<text x="797.9" y="573.0" font-size="40.0" class="it">d</text>
<text x="824.1" y="573.0" font-size="40.0">)</text>
</svg></body></html>
